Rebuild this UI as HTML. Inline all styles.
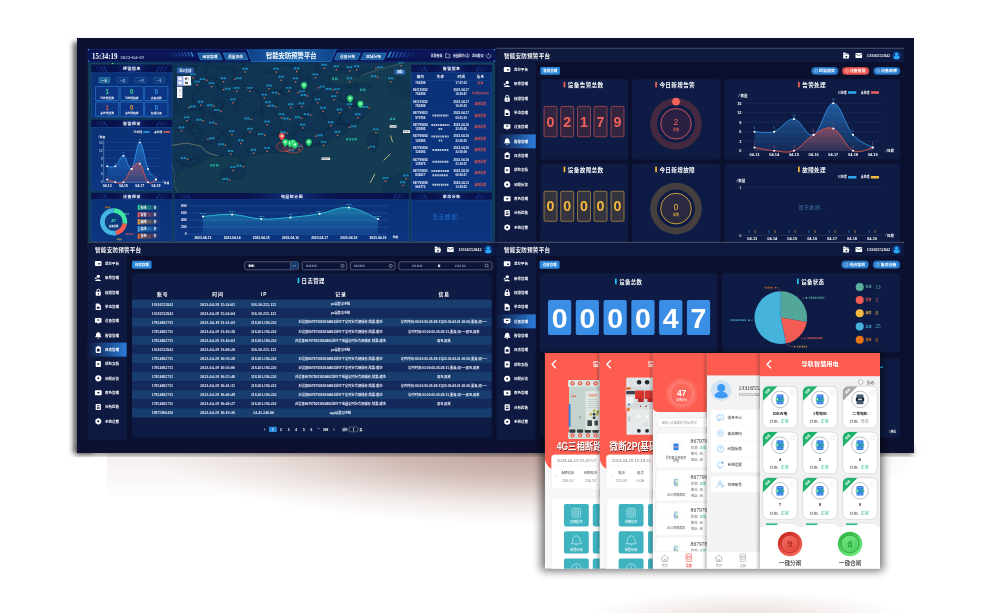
<!DOCTYPE html>
<html><head><meta charset="utf-8"><title>dashboard</title><style>html,body{margin:0;padding:0;background:#fff;overflow:hidden}svg{display:block;font-family:"Liberation Sans","Noto Sans CJK SC",sans-serif}</style></head><body><svg width="1000" height="613" viewBox="0 0 1000 613"><defs>
<clipPath id="shclip"><rect x="107" y="440" width="900" height="120"/></clipPath>
<radialGradient id="shg"><stop offset="0" stop-color="#a67c72" stop-opacity="0.72"/><stop offset="0.4" stop-color="#aa8278" stop-opacity="0.5"/><stop offset="0.75" stop-color="#b08a80" stop-opacity="0.17"/><stop offset="1" stop-color="#b08a80" stop-opacity="0"/></radialGradient>
<linearGradient id="shband" x1="0" x2="0" y1="0" y2="1"><stop offset="0" stop-color="#a67c72" stop-opacity="0.13"/><stop offset="0.5" stop-color="#a67c72" stop-opacity="0.07"/><stop offset="1" stop-color="#a67c72" stop-opacity="0"/></linearGradient>
<radialGradient id="shg2"><stop offset="0" stop-color="#c9a59f" stop-opacity="0.38"/><stop offset="0.6" stop-color="#c9a59f" stop-opacity="0.15"/><stop offset="1" stop-color="#c9a59f" stop-opacity="0"/></radialGradient>
<filter id="blur12" x="-20%" y="-100%" width="140%" height="300%"><feGaussianBlur stdDeviation="14"/></filter>
<filter id="blur8" x="-20%" y="-100%" width="140%" height="300%"><feGaussianBlur stdDeviation="8"/></filter>
<filter id="blur3" x="-50%" y="-10%" width="200%" height="120%"><feGaussianBlur stdDeviation="2.5"/></filter>
<filter id="blur4" x="-10%" y="-10%" width="120%" height="120%"><feGaussianBlur stdDeviation="4"/></filter>
<linearGradient id="actg" x1="0" x2="1" y1="0" y2="0"><stop offset="0" stop-color="#0e1a42"/><stop offset="1" stop-color="#2b7ddb"/></linearGradient>
<linearGradient id="gblue" x1="0" x2="0" y1="0" y2="1"><stop offset="0" stop-color="#2f8fe6" stop-opacity="0.55"/><stop offset="1" stop-color="#2f8fe6" stop-opacity="0.12"/></linearGradient>
<linearGradient id="gred" x1="0" x2="0" y1="0" y2="1"><stop offset="0" stop-color="#e0524a" stop-opacity="0.5"/><stop offset="1" stop-color="#e0524a" stop-opacity="0.12"/></linearGradient>

<clipPath id="cp1"><rect x="544.8" y="353" width="54.9" height="215.8"/></clipPath>
<clipPath id="cp2"><rect x="599.7" y="353" width="53.1" height="215.8"/></clipPath>
<clipPath id="cp3"><rect x="652.8" y="353" width="54" height="215.8"/></clipPath>
<clipPath id="cp4"><rect x="706.8" y="353" width="53.1" height="215.8"/></clipPath>
<clipPath id="cp5"><rect x="759.9" y="353" width="120.1" height="215.8"/></clipPath>
<clipPath id="gc"><rect x="0" y="0" width="34.4" height="41.6" rx="5.6"/></clipPath>
<linearGradient id="edge" x1="0" x2="1" y1="0" y2="0"><stop offset="0" stop-color="#000" stop-opacity="0"/><stop offset="1" stop-color="#000" stop-opacity="0.22"/></linearGradient>
<clipPath id="cptl"><rect x="87.5" y="48.8" width="408.1" height="193"/></clipPath>
<linearGradient id="ttlg" x1="0" x2="1" y1="0" y2="0"><stop offset="0" stop-color="#1a4fb0" stop-opacity="0"/><stop offset="0.5" stop-color="#1f5fc0" stop-opacity="0.38"/><stop offset="1" stop-color="#1a4fb0" stop-opacity="0"/></linearGradient>
<linearGradient id="pbg" x1="0" x2="0" y1="0" y2="1"><stop offset="0" stop-color="#0a3079" stop-opacity="0.93"/><stop offset="1" stop-color="#0c3684" stop-opacity="0.93"/></linearGradient>
<linearGradient id="ctg" x1="0" x2="1" y1="0" y2="0"><stop offset="0" stop-color="#0f3f86"/><stop offset="0.5" stop-color="#1d68b0"/><stop offset="1" stop-color="#0f3f86"/></linearGradient>
<linearGradient id="gteal" x1="0" x2="0" y1="0" y2="1"><stop offset="0" stop-color="#2cc3d6" stop-opacity="0.5"/><stop offset="1" stop-color="#2c8fd6" stop-opacity="0.15"/></linearGradient>
<linearGradient id="lgf0" x1="0" x2="1" y1="0" y2="0"><stop offset="0" stop-color="#2fd08c" stop-opacity="0.55"/><stop offset="1" stop-color="#2fd08c" stop-opacity="0"/></linearGradient>
<linearGradient id="lgf1" x1="0" x2="1" y1="0" y2="0"><stop offset="0" stop-color="#f25c50" stop-opacity="0.55"/><stop offset="1" stop-color="#f25c50" stop-opacity="0"/></linearGradient>
<linearGradient id="lgf2" x1="0" x2="1" y1="0" y2="0"><stop offset="0" stop-color="#f0a030" stop-opacity="0.55"/><stop offset="1" stop-color="#f0a030" stop-opacity="0"/></linearGradient>
<linearGradient id="lgf3" x1="0" x2="1" y1="0" y2="0"><stop offset="0" stop-color="#45a8e0" stop-opacity="0.55"/><stop offset="1" stop-color="#45a8e0" stop-opacity="0"/></linearGradient>
<linearGradient id="lgf4" x1="0" x2="1" y1="0" y2="0"><stop offset="0" stop-color="#e8651a" stop-opacity="0.55"/><stop offset="1" stop-color="#e8651a" stop-opacity="0"/></linearGradient>
<linearGradient id="btnr" x1="0.2" x2="0.8" y1="0" y2="1"><stop offset="0" stop-color="#c6241a"/><stop offset="1" stop-color="#fb6e62"/></linearGradient>
<linearGradient id="btnri" x1="0.2" x2="0.8" y1="0" y2="1"><stop offset="0" stop-color="#f46a5e"/><stop offset="1" stop-color="#e2463b"/></linearGradient>
<linearGradient id="btng" x1="0.2" x2="0.8" y1="0" y2="1"><stop offset="0" stop-color="#2cb53e"/><stop offset="1" stop-color="#74ec84"/></linearGradient>
<linearGradient id="btngi" x1="0.2" x2="0.8" y1="0" y2="1"><stop offset="0" stop-color="#72e682"/><stop offset="1" stop-color="#4ccf5e"/></linearGradient>
<g id="ldgj"><text x="474.60" y="1.00" font-size="2.9" fill="#f2564a" font-weight="bold">漏电告警</text></g><g id="recA"><text x="330.78" y="5.75" font-size="3.15" fill="#eef2ff" font-weight="bold" textLength="19.44" lengthAdjust="spacingAndGlyphs">pc端登录系统</text></g><g id="recD"><text x="329.67" y="5.75" font-size="3.15" fill="#eef2ff" font-weight="bold" textLength="21.66" lengthAdjust="spacingAndGlyphs">app端登录系统</text></g><g id="recB"><text x="298.40" y="5.75" font-size="3.15" fill="#eef2ff" font-weight="bold" textLength="84.2" lengthAdjust="spacingAndGlyphs">对设备867975051834802进行了定时分合闸操作,结果:成功</text></g><g id="recC"><text x="294.90" y="5.75" font-size="3.15" fill="#eef2ff" font-weight="bold" textLength="91.2" lengthAdjust="spacingAndGlyphs">对设备867975051834802进行了批量定时分合闸操作,结果:成功</text></g><g id="inf3"><text x="400.81" y="5.75" font-size="3.15" fill="#eef2ff" font-weight="bold" textLength="86.2" lengthAdjust="spacingAndGlyphs">定时时间:00:03:00-05:29:31|23:30:43-01:00:00,重复:周一~</text></g><g id="inf2"><text x="408.24" y="5.75" font-size="3.15" fill="#eef2ff" font-weight="bold" textLength="71.3" lengthAdjust="spacingAndGlyphs">定时时间:03:00:00-05:29:31,重复:周一~周五,周末</text></g><g id="inf1"><text x="437.09" y="5.75" font-size="3.15" fill="#eef2ff" font-weight="bold" textLength="13.6" lengthAdjust="spacingAndGlyphs">周五,周末</text></g></defs><g opacity="0.999"><rect width="1000" height="613" fill="#fff"/>
<g clip-path="url(#shclip)"><rect x="107" y="452" width="760" height="46" fill="url(#shband)"/><ellipse cx="540" cy="449" rx="385" ry="76" fill="url(#shg)"/></g>
<g filter="url(#blur3)"><rect x="76" y="446" width="837" height="9.5" fill="#222" opacity="0.5"/></g>
<ellipse cx="745" cy="617" rx="160" ry="26" fill="url(#shg2)"/>
<g filter="url(#blur3)"><rect x="73" y="42" width="20" height="411" fill="#333" opacity="0.75"/></g>
<rect x="77.00" y="38.00" width="837.00" height="415.00" fill="#0d1030" />
<g clip-path="url(#cptl)">
<rect x="87.50" y="48.80" width="408.10" height="193.00" fill="#103453" />
<path d="M280.6 122.5Q278.4 118.0 275.1 113.6M280.6 122.5Q280.2 127.8 278.3 134.1M393.8 112.3Q391.3 113.0 390.5 112.8M393.8 112.3Q395.7 113.4 398.6 112.1M293.9 125.4Q296.8 126.2 298.4 126.6M293.9 125.4Q296.5 129.6 296.6 131.2M216.3 117.3Q214.3 117.3 212.6 115.5M216.3 117.3Q215.3 113.6 215.5 111.0M323.2 147.6Q322.7 146.3 319.5 143.7M323.2 147.6Q321.5 143.5 319.7 141.8M194.6 94.8Q192.3 96.9 192.9 97.9M194.6 94.8Q197.7 92.6 200.3 88.6M193.8 149.4Q193.1 147.1 192.1 143.0M193.8 149.4Q194.6 154.0 195.3 156.5M193.8 149.4Q195.7 144.2 197.2 140.9M338.4 66.5Q339.3 67.2 337.8 69.1M338.4 66.5Q340.5 68.1 345.4 69.6M407.7 166.2Q406.5 166.3 407.3 167.6M407.7 166.2Q407.1 166.1 409.3 164.0M407.7 166.2Q409.3 165.8 411.4 164.9M328.9 128.5Q328.0 127.7 325.3 129.4M328.9 128.5Q328.4 126.7 330.3 123.5M209.8 63.6Q206.5 65.1 205.7 65.8M209.8 63.6Q206.7 66.1 205.8 67.1M298.8 68.4Q300.2 69.8 302.0 69.8M298.8 68.4Q296.9 67.3 295.0 63.7M298.8 68.4Q298.3 71.8 298.7 75.4M217.6 88.1Q217.6 88.7 218.6 86.5M217.6 88.1Q217.5 86.1 216.3 84.0M179.2 112.1Q177.8 111.3 174.6 113.0M179.2 112.1Q177.2 104.9 174.5 100.4M179.2 112.1Q186.3 112.3 191.9 109.6M277.7 153.0Q278.8 153.7 277.7 152.5M277.7 153.0Q278.9 156.8 278.1 158.3M296.6 131.2Q297.9 128.9 298.4 126.6M296.6 131.2Q294.9 133.3 291.9 133.5M296.6 131.2Q294.4 133.4 292.7 136.1M291.9 133.5Q291.5 133.8 292.7 136.1M281.8 92.0Q280.6 90.9 280.2 91.7M281.8 92.0Q280.7 91.0 281.3 90.3M281.8 92.0Q283.4 95.6 286.4 96.3M411.4 169.5Q409.3 169.2 407.3 167.6M411.4 169.5Q410.8 166.2 411.4 164.9M373.7 138.4Q374.9 138.2 373.6 136.5M373.7 138.4Q373.9 134.8 377.1 131.3M247.7 86.8Q242.5 82.6 238.4 80.3M247.7 86.8Q252.5 89.3 258.2 91.3M241.4 69.6Q242.9 70.0 243.1 69.9M241.4 69.6Q241.4 65.6 243.0 63.5M241.4 69.6Q237.2 70.0 234.3 72.5M355.9 105.2Q356.2 106.9 355.7 105.8M355.9 105.2Q352.8 106.6 349.4 105.8M375.2 103.7Q377.4 102.9 377.4 99.6M375.2 103.7Q373.0 105.8 371.7 107.5M401.9 153.5Q403.4 150.3 405.0 148.8M401.9 153.5Q403.1 153.2 406.9 150.2M172.1 84.6Q175.6 85.1 176.3 83.7M172.1 84.6Q174.9 88.7 176.0 91.1M390.5 112.8Q395.0 111.6 398.6 112.1M407.3 104.9Q408.6 109.1 407.7 110.9M407.3 104.9Q402.9 105.4 398.9 107.4M189.5 130.0Q190.7 129.5 191.2 131.1M189.5 130.0Q190.1 132.0 192.7 135.0M358.8 91.1Q359.4 95.3 357.4 97.5M358.8 91.1Q356.6 88.8 356.5 85.0M192.9 97.9Q191.7 103.9 191.9 109.6M192.9 97.9Q195.4 103.5 200.0 107.4M403.4 143.9Q403.3 147.6 405.0 148.8M403.4 143.9Q404.6 145.3 407.8 148.9M200.3 88.6Q202.3 84.0 205.7 78.1M196.3 68.5Q198.0 67.8 197.5 66.0M196.3 68.5Q192.3 70.5 190.8 71.0M363.3 81.2Q364.7 80.3 364.0 80.7M363.3 81.2Q363.3 78.1 361.6 75.6M363.3 81.2Q361.1 81.9 356.5 85.0M306.2 110.3Q305.9 112.5 307.4 114.4M306.2 110.3Q306.7 111.6 307.1 115.0M217.8 141.0Q215.4 140.1 214.1 139.8M217.8 141.0Q213.8 143.8 209.6 143.5M203.4 131.5Q198.7 132.9 192.7 135.0M203.4 131.5Q200.9 135.0 197.2 140.9M203.4 131.5Q198.2 128.1 193.6 124.9M200.0 107.4Q201.7 106.7 202.5 108.8M200.0 107.4Q201.2 109.8 203.2 111.0M223.1 91.1Q222.5 89.4 223.2 89.9M223.1 91.1Q221.2 90.7 217.6 88.1M405.0 148.8Q405.1 149.8 406.9 150.2M405.0 148.8Q405.8 148.5 407.8 148.9M245.0 157.6Q247.7 160.3 248.9 160.3M245.0 157.6Q247.1 159.8 247.6 161.7M245.0 157.6Q245.1 154.2 247.7 152.6M222.6 104.6Q223.7 105.1 223.4 106.7M222.6 104.6Q222.4 106.7 219.6 108.5M377.1 131.3Q377.1 129.5 376.3 128.1M377.1 131.3Q375.0 132.7 373.6 136.5M377.1 131.3Q378.5 126.5 379.2 123.9M196.1 168.8Q192.1 165.8 186.9 164.8M196.1 168.8Q197.4 164.6 199.3 158.4M196.1 168.8Q193.1 163.1 189.6 159.8M223.2 89.9Q219.5 89.7 218.6 86.5M357.4 97.5Q356.4 100.1 355.9 105.2M243.1 69.9Q244.4 65.6 243.0 63.5M193.6 124.9Q192.6 123.9 190.1 121.0M193.6 124.9Q191.2 127.0 189.5 130.0M230.3 126.9Q228.1 123.6 225.1 118.9M230.3 126.9Q227.1 129.7 223.2 133.5M261.2 110.9Q261.9 112.6 261.6 113.7M261.2 110.9Q260.2 108.3 262.2 106.6M402.2 114.2Q400.0 114.5 399.0 115.2M402.2 114.2Q400.6 112.3 398.6 112.1M309.9 155.6Q308.9 155.8 306.2 154.1M309.9 155.6Q315.0 157.5 319.5 161.4M215.9 78.6Q218.6 79.4 218.8 79.8M215.9 78.6Q217.8 79.5 220.6 80.3M215.9 78.6Q215.0 82.0 216.3 84.0M390.0 150.3Q389.7 150.1 386.4 148.6M390.0 150.3Q390.4 153.4 388.2 156.1M390.0 150.3Q389.5 154.1 391.8 156.9M231.9 82.5Q230.9 82.9 232.1 83.4M231.9 82.5Q234.9 80.9 238.4 80.3M349.5 163.6Q351.6 162.1 351.1 161.4M349.5 163.6Q349.1 160.3 348.9 159.2M219.2 164.6Q220.1 163.1 223.2 159.2M219.2 164.6Q221.9 167.4 224.4 169.8M219.2 164.6Q223.6 163.6 227.7 164.0M383.7 127.2Q383.0 126.5 379.2 123.9M383.7 127.2Q380.3 126.5 376.3 128.1M383.7 127.2Q381.4 128.6 377.1 131.3M273.1 73.2Q275.3 71.1 279.0 68.5M273.1 73.2Q268.6 72.0 262.2 72.6M181.3 166.0Q183.0 164.1 182.8 162.5M181.3 166.0Q183.8 166.2 186.9 164.8M181.3 166.0Q180.1 164.6 176.3 160.3M229.2 138.1Q228.8 139.8 229.4 140.5M229.2 138.1Q226.9 135.4 223.2 133.5M233.7 151.0Q233.4 156.2 232.2 159.8M233.7 151.0Q232.8 155.4 234.0 160.4M233.7 151.0Q230.2 145.8 229.4 140.5M315.2 93.7Q313.8 94.0 311.9 96.2M315.2 93.7Q317.4 92.3 319.4 92.3M214.1 139.8Q213.1 140.3 209.6 143.5M214.1 139.8Q219.5 137.3 223.2 133.5M188.5 86.7Q186.0 84.9 184.1 83.1M188.5 86.7Q190.4 90.3 194.6 94.8M306.2 154.1Q304.8 150.9 300.9 147.4M306.2 154.1Q304.9 148.9 304.1 145.0M319.4 92.3Q316.7 95.3 311.9 96.2M392.2 84.0Q394.1 78.9 394.1 76.0M392.2 84.0Q387.4 81.6 385.0 76.5M176.0 91.1Q176.2 87.2 176.3 83.7M279.0 68.5Q279.5 65.3 281.2 64.7M214.3 101.8Q217.3 105.0 219.6 108.5M214.3 101.8Q218.1 99.9 222.6 99.1M214.3 101.8Q219.3 104.4 222.6 104.6M309.3 76.2Q308.1 78.1 308.5 77.8M309.3 76.2Q308.6 81.1 309.5 83.7M258.9 158.2Q262.2 157.4 265.6 158.9M258.9 158.2Q255.1 159.4 248.9 160.3M407.3 132.9Q408.8 131.1 410.8 130.9M407.3 132.9Q408.4 133.4 412.0 131.4M407.3 132.9Q407.1 128.6 404.1 123.3M337.9 125.1Q336.9 125.0 336.4 123.0M337.9 125.1Q339.1 125.1 342.1 123.6M337.9 125.1Q338.8 122.9 339.4 118.2M205.7 65.8Q205.8 65.3 205.8 67.1M176.3 160.3Q179.8 161.2 182.8 162.5M176.3 160.3Q181.0 163.2 186.9 164.8M340.2 166.0Q340.9 164.0 342.7 164.6M340.2 166.0Q339.2 164.2 335.8 160.4M177.1 130.7Q177.0 129.4 179.1 126.9M177.1 130.7Q182.5 129.8 189.5 130.0M287.7 140.9Q286.5 142.2 282.9 144.6M287.7 140.9Q290.5 143.7 293.4 143.9M248.5 169.9Q249.2 164.9 247.6 161.7M248.5 169.9Q249.8 165.7 248.9 160.3M190.1 121.0Q188.9 126.5 189.5 130.0M348.9 159.2Q351.2 158.9 351.1 161.4M348.9 138.0Q350.9 143.5 350.7 146.0M348.9 138.0Q343.7 141.5 340.3 144.3M348.9 138.0Q348.4 144.9 349.8 149.5M362.4 160.8Q364.4 160.2 365.4 160.7M362.4 160.8Q366.0 161.4 367.8 159.3M256.4 136.0Q254.6 135.6 250.5 133.9M256.4 136.0Q255.8 133.1 257.3 128.9M388.2 156.1Q387.4 155.6 387.2 157.0M388.2 156.1Q391.1 155.4 391.8 156.9M272.1 147.4Q269.2 147.0 268.1 148.5M272.1 147.4Q268.5 147.9 266.4 147.5M272.1 147.4Q275.8 149.6 277.7 152.5M379.2 123.9Q376.9 122.0 374.5 122.5M379.2 123.9Q377.8 127.4 376.3 128.1M322.0 103.3Q323.0 103.8 323.1 105.7M322.0 103.3Q322.9 105.5 323.0 110.2M311.8 127.8Q312.7 129.2 314.0 130.4M311.8 127.8Q308.1 127.6 304.2 130.2M191.2 131.1Q192.3 133.2 192.7 135.0M191.2 131.1Q192.2 128.2 193.6 124.9M410.4 157.0Q409.2 161.3 409.3 164.0M410.4 157.0Q407.9 152.9 406.9 150.2M346.8 104.0Q346.7 105.7 349.4 105.8M346.8 104.0Q345.1 109.5 345.5 112.6M346.8 104.0Q351.6 106.1 355.7 105.8M348.4 124.7Q344.9 125.5 342.1 123.6M348.4 124.7Q343.2 124.0 337.9 125.1M348.4 124.7Q344.0 121.9 339.4 118.2M277.7 152.5Q277.4 155.4 278.1 158.3M192.1 143.0Q194.7 142.0 197.2 140.9M179.1 126.9Q184.9 128.5 189.5 130.0M179.1 126.9Q186.0 123.0 190.1 121.0M287.4 86.9Q285.6 83.9 286.0 81.3M287.4 86.9Q284.9 88.7 281.3 90.3M339.6 115.7Q340.3 117.8 339.4 118.2M339.6 115.7Q341.7 114.1 345.5 112.6M319.5 161.4Q321.9 161.2 322.1 160.3M233.4 63.2Q230.7 65.2 230.8 66.6M233.4 63.2Q234.5 68.1 234.3 72.5M244.2 135.2Q241.6 137.6 240.0 139.4M244.2 135.2Q243.3 138.9 241.6 140.7M220.6 80.3Q219.5 79.4 218.8 79.8M220.6 80.3Q219.3 80.9 216.3 84.0M389.4 133.3Q386.8 130.4 383.7 127.2M389.4 133.3Q393.5 135.9 395.8 140.0M250.5 133.9Q246.8 133.2 244.2 135.2M219.6 108.5Q222.5 108.3 223.4 106.7M219.6 108.5Q218.4 110.6 215.5 111.0M365.4 160.7Q365.4 161.0 367.8 159.3M383.3 103.5Q380.0 100.8 377.4 99.6M383.3 103.5Q379.2 104.1 375.2 103.7M311.9 96.2Q312.7 100.4 311.7 107.3M204.7 115.6Q203.0 117.0 201.5 117.1M204.7 115.6Q204.5 114.7 203.2 111.0M372.9 153.7Q373.9 157.2 374.9 159.3M372.9 153.7Q371.8 155.4 367.8 159.3M342.7 164.6Q346.1 165.5 349.5 163.6M238.4 80.3Q234.5 83.0 232.1 83.4M280.2 91.7Q279.5 91.2 281.3 90.3M322.2 115.3Q323.3 114.7 321.8 111.2M322.2 115.3Q324.3 117.6 325.3 118.5M247.7 152.6Q247.3 149.4 246.2 147.5M247.7 152.6Q248.9 150.9 252.4 147.1M407.7 110.9Q404.8 113.9 402.2 114.2M189.9 65.4Q189.8 69.5 190.8 71.0M189.9 65.4Q194.4 66.1 196.3 68.5M381.5 66.5Q385.2 69.4 389.5 71.4M381.5 66.5Q381.9 71.0 385.0 76.5M342.1 123.6Q340.5 124.5 336.4 123.0M342.1 123.6Q342.0 119.9 339.4 118.2M246.2 147.5Q250.6 146.4 252.4 147.1M176.6 76.7Q177.3 79.3 176.3 83.7M176.6 76.7Q173.9 79.7 172.1 84.6M281.2 64.7Q286.0 64.8 289.0 65.1M281.2 64.7Q276.9 69.2 273.1 73.2M371.1 87.6Q374.3 87.4 377.6 87.1M371.1 87.6Q367.9 83.2 364.0 80.7M323.0 110.2Q322.5 110.5 321.8 111.2M323.0 110.2Q321.7 107.3 323.1 105.7M323.2 132.7Q324.6 131.1 325.3 129.4M323.2 132.7Q326.8 130.6 328.9 128.5M365.8 165.5Q366.9 163.8 365.4 160.7M365.8 165.5Q363.4 162.8 362.4 160.8M365.8 165.5Q365.7 163.7 367.8 159.3M336.3 83.5Q338.8 81.7 343.4 81.3M336.3 83.5Q333.3 82.7 328.3 84.1M286.0 81.3Q284.7 85.7 281.3 90.3M174.6 113.0Q174.0 107.5 174.5 100.4M343.4 81.3Q346.3 84.0 348.2 87.7M343.4 81.3Q348.4 81.9 352.8 82.5M237.4 99.3Q234.4 102.6 233.6 105.4M237.4 99.3Q235.8 103.1 237.0 107.9M339.4 118.2Q337.8 121.2 336.4 123.0M319.5 143.7Q320.2 142.0 319.7 141.8M319.5 143.7Q318.1 144.3 315.4 144.0M266.4 147.5Q268.4 149.0 268.1 148.5M389.5 71.4Q392.6 71.6 394.5 72.3M389.5 71.4Q391.4 74.8 394.1 76.0M389.5 71.4Q386.4 73.3 385.0 76.5M395.8 140.0Q399.9 140.9 403.4 143.9M203.2 111.0Q203.6 109.9 202.5 108.8M322.1 160.3Q326.4 166.0 328.9 168.8M262.4 123.4Q260.3 124.9 257.3 128.9M262.4 123.4Q263.1 118.7 261.6 113.7M383.0 148.1Q385.2 149.7 386.4 148.6M383.0 148.1Q387.6 148.4 390.0 150.3M398.6 112.1Q398.1 114.5 399.0 115.2M398.6 112.1Q397.6 109.7 398.9 107.4M328.3 84.1Q323.5 87.7 319.4 92.3M345.3 150.4Q348.1 149.1 349.8 149.5M345.3 150.4Q344.0 150.9 340.2 153.2M326.0 139.5Q322.4 141.3 319.7 141.8M326.0 139.5Q324.7 136.9 323.2 132.7M223.2 159.2Q223.5 156.5 222.0 153.9M223.2 159.2Q224.7 162.7 227.7 164.0M407.3 167.6Q408.9 164.3 409.3 164.0M300.9 147.4Q301.3 147.4 304.1 145.0M300.9 147.4Q298.4 145.0 293.4 143.9M248.9 160.3Q248.2 161.2 247.6 161.7M191.9 109.6Q195.4 107.8 200.0 107.4M191.9 109.6Q195.7 108.8 202.5 108.8M191.9 109.6Q198.7 110.5 203.2 111.0M289.0 65.1Q293.2 64.8 295.0 63.7M289.0 65.1Q293.6 66.3 298.8 68.4M366.2 68.9Q364.8 70.2 366.3 70.2M366.2 68.9Q363.0 71.0 361.6 75.6M364.0 80.7Q363.1 77.9 361.6 75.6M205.7 78.1Q210.1 79.3 215.9 78.6M205.7 78.1Q206.9 72.2 205.8 67.1M296.0 140.1Q293.3 140.9 293.4 143.9M296.0 140.1Q294.3 137.5 292.7 136.1M399.8 71.3Q396.1 70.9 394.5 72.3M399.8 71.3Q401.3 73.4 404.4 74.5M225.1 118.9Q220.8 119.4 216.3 117.3M241.6 140.7Q239.4 140.2 240.0 139.4M325.3 118.5Q326.1 117.6 325.2 119.2M325.3 118.5Q328.2 121.7 329.2 122.5M374.5 122.5Q376.8 124.8 376.3 128.1M374.5 122.5Q375.3 128.1 377.1 131.3M246.8 103.2Q249.5 106.9 250.4 112.4M246.8 103.2Q241.8 100.2 237.4 99.3M374.9 159.3Q372.3 158.2 367.8 159.3M222.0 153.9Q221.1 160.2 219.2 164.6M222.0 153.9Q224.2 158.7 227.7 164.0M404.4 118.6Q405.3 118.3 404.7 117.7M404.4 118.6Q403.5 120.2 404.1 123.3M309.5 83.7Q309.6 82.0 308.5 77.8M300.6 116.3Q301.2 115.3 304.0 116.8M300.6 116.3Q301.2 115.8 304.4 117.6M300.6 116.3Q304.5 114.5 307.1 115.0M317.3 65.0Q316.8 64.8 316.2 63.4M317.3 65.0Q316.6 67.0 318.7 68.3M404.7 117.7Q404.5 114.6 402.2 114.2M307.1 115.0Q307.3 115.6 307.4 114.4M307.1 115.0Q305.2 116.6 304.0 116.8M337.8 69.1Q341.2 69.9 345.4 69.6M301.3 106.7Q300.1 106.2 299.9 104.1M301.3 106.7Q301.3 108.9 299.3 109.2M401.6 161.7Q406.1 164.4 407.7 166.2M401.6 161.7Q404.4 163.6 409.3 164.0M401.6 161.7Q403.8 163.6 407.3 167.6M236.6 113.1Q236.4 111.0 237.0 107.9M236.6 113.1Q234.3 108.3 233.6 105.4M286.4 96.3Q283.8 94.9 280.2 91.7M286.4 96.3Q285.1 92.6 281.3 90.3M217.9 128.7Q219.2 129.9 221.0 130.2M217.9 128.7Q220.3 132.4 223.2 133.5M394.1 76.0Q392.9 74.8 394.5 72.3M359.0 64.5Q359.7 66.4 358.1 70.2M359.0 64.5Q354.9 66.1 351.6 67.4M218.6 86.5Q217.2 86.5 216.3 84.0M336.9 96.8Q337.7 94.5 336.5 94.3M336.9 96.8Q333.1 97.5 331.9 98.5M336.9 96.8Q342.9 100.8 346.8 104.0M197.2 140.9Q195.6 137.7 192.7 135.0M201.5 117.1Q203.8 113.7 203.2 111.0M232.1 83.4Q232.4 77.3 234.3 72.5M299.3 109.2Q297.3 109.8 295.7 108.4M262.2 106.6Q263.2 109.4 261.6 113.7M262.2 106.6Q258.1 108.5 254.0 112.6M299.0 79.3Q300.0 76.6 298.7 75.4M299.0 79.3Q304.0 77.9 308.5 77.8M221.0 130.2Q221.4 131.0 223.2 133.5M325.2 119.2Q322.8 117.4 322.2 115.3M377.6 87.1Q376.5 91.9 377.4 99.6M349.8 149.5Q350.8 149.6 350.8 152.6M349.8 149.5Q349.7 146.7 350.7 146.0M388.6 96.1Q387.4 99.5 383.3 103.5M388.6 96.1Q381.6 97.4 377.4 99.6M224.4 169.8Q226.2 166.1 227.7 164.0M385.0 76.5Q390.0 76.6 394.1 76.0M385.0 76.5Q389.1 75.7 394.5 72.3M229.4 140.5Q227.8 136.8 223.2 133.5M234.3 72.5Q231.2 70.6 230.8 66.6M234.3 72.5Q237.7 76.5 238.4 80.3M371.7 107.5Q368.3 106.2 367.5 105.8M371.7 107.5Q369.8 104.1 366.4 101.8M361.6 75.6Q359.8 74.1 358.1 70.2M268.7 136.0Q274.9 133.6 278.3 134.1M268.7 136.0Q267.6 142.7 266.4 147.5M335.8 160.4Q338.1 158.6 341.1 155.0M404.4 74.5Q400.2 74.8 394.5 72.3M404.4 74.5Q404.6 70.8 407.2 64.5M217.4 69.6Q218.4 69.8 220.9 67.6M217.4 69.6Q215.2 74.4 215.9 78.6M197.5 66.0Q193.2 66.4 189.9 65.4M304.4 117.6Q304.7 118.2 304.0 116.8M304.4 117.6Q305.3 116.7 307.1 115.0M373.7 169.0Q368.4 167.7 365.8 165.5M373.7 169.0Q374.5 163.4 374.9 159.3M186.9 164.8Q183.9 162.2 182.8 162.5M186.9 164.8Q187.1 161.7 189.6 159.8M282.9 144.6Q279.3 147.4 277.7 152.5M250.4 112.4Q251.8 111.6 254.0 112.6M250.4 112.4Q248.8 116.5 250.1 121.3M295.7 108.4Q298.2 107.0 301.3 106.7M316.2 63.4Q318.5 66.7 318.7 68.3M316.2 63.4Q315.1 68.0 316.9 74.4M340.2 153.2Q341.4 152.9 341.1 155.0M215.5 111.0Q213.8 114.7 212.6 115.5M349.4 105.8Q352.5 106.6 355.7 105.8M341.1 155.0Q342.9 153.9 345.3 150.4M315.9 116.5Q319.1 114.4 322.2 115.3M315.9 116.5Q319.6 114.3 321.8 111.2M407.8 148.9Q406.0 149.9 406.9 150.2M234.0 160.4Q234.3 161.2 232.2 159.8M234.0 160.4Q231.2 162.2 227.7 164.0M350.7 146.0Q352.0 148.2 350.8 152.6M350.7 146.0Q348.7 148.9 345.3 150.4M367.5 105.8Q367.4 103.6 366.4 101.8M387.2 157.0Q389.5 156.6 391.8 156.9M338.8 144.9Q339.7 144.6 340.3 144.3M338.8 144.9Q338.1 149.4 340.2 153.2M338.8 144.9Q341.8 147.9 345.3 150.4M355.7 105.8Q355.2 101.1 357.4 97.5M345.4 69.6Q348.4 70.0 351.6 67.4M254.0 112.6Q258.0 110.9 261.2 110.9M254.0 112.6Q257.7 113.3 261.6 113.7M174.5 100.4Q176.4 94.6 176.0 91.1M227.7 164.0Q228.9 166.9 231.8 167.8M227.7 164.0Q230.4 163.2 232.2 159.8M331.9 98.5Q335.1 96.4 336.5 94.3M330.3 123.5Q328.5 124.1 329.2 122.5M299.9 104.1Q299.1 106.7 299.3 109.2M299.9 104.1Q297.4 105.4 295.7 108.4M412.0 131.4Q412.5 130.2 410.8 130.9M340.3 144.3Q344.2 146.5 345.3 150.4M407.2 64.5Q403.7 68.7 399.8 71.3M319.7 141.8Q318.7 141.6 315.4 144.0M233.6 105.4Q236.4 107.5 237.0 107.9M184.1 83.1Q181.6 82.1 176.3 83.7M184.1 83.1Q181.7 80.8 176.6 76.7M262.2 72.6Q269.4 69.2 279.0 68.5M404.1 123.3Q403.2 119.6 404.7 117.7M366.3 70.2Q365.0 73.3 361.6 75.6M210.4 113.0Q213.0 113.4 212.6 115.5M210.4 113.0Q213.3 113.1 215.5 111.0M398.9 107.4Q396.8 109.7 393.8 112.3M398.9 107.4Q399.1 110.4 402.2 114.2M259.7 92.9Q260.3 92.6 258.2 91.3M259.7 92.9Q252.8 89.0 247.7 86.8M259.7 92.9Q261.8 98.8 262.2 106.6M329.2 122.5Q327.1 119.8 325.2 119.2M209.6 143.5Q203.7 141.6 197.2 140.9M265.6 158.9Q268.3 154.3 268.1 148.5M351.6 67.4Q355.5 69.9 358.1 70.2M409.3 164.0Q409.5 163.2 411.4 164.9M189.6 159.8Q192.2 159.1 195.3 156.5M275.1 113.6Q274.2 106.6 274.6 101.9M405.6 88.3Q406.3 80.9 404.4 74.5M405.6 88.3Q399.5 85.4 392.2 84.0M297.6 163.2Q300.8 157.5 306.2 154.1M297.6 163.2Q304.9 160.8 309.9 155.6M297.6 163.2Q298.0 155.8 300.9 147.4M345.5 112.6Q348.7 108.8 349.4 105.8M316.9 74.4Q319.5 73.6 321.6 73.1M316.9 74.4Q316.5 71.1 318.7 68.3M220.9 67.6Q225.7 68.5 230.8 66.6M220.9 67.6Q214.7 66.2 209.8 63.6M298.7 75.4Q300.7 71.2 302.0 69.8M278.3 134.1Q279.5 140.5 282.9 144.6M311.7 107.3Q308.7 108.3 306.2 110.3M311.7 107.3Q310.5 111.9 307.4 114.4M358.7 119.3Q358.3 124.9 360.2 129.5M358.7 119.3Q353.4 121.2 348.4 124.7M358.7 119.3Q363.3 122.9 366.2 129.4M348.2 87.7Q350.8 85.7 352.8 82.5M348.2 87.7Q353.8 87.3 356.5 85.0M199.3 158.4Q197.8 156.4 195.3 156.5M199.3 158.4Q193.2 158.1 189.6 159.8M360.2 129.5Q362.7 129.9 366.2 129.4M360.2 129.5Q354.6 128.5 348.4 124.7M314.0 130.4Q319.6 132.0 323.2 132.7M352.8 82.5Q353.5 82.4 356.5 85.0M231.8 167.8Q228.5 169.7 224.4 169.8M181.5 68.6Q187.2 66.1 189.9 65.4M181.5 68.6Q178.6 71.5 176.6 76.7M181.5 68.6Q185.8 70.5 190.8 71.0M321.6 73.1Q319.1 71.1 318.7 68.3M302.0 69.8Q299.4 68.0 295.0 63.7M304.2 130.2Q301.2 129.5 298.4 126.6M304.2 130.2Q300.2 129.6 296.6 131.2M222.6 99.1Q223.9 103.0 222.6 104.6M222.6 99.1Q221.5 102.5 223.4 106.7M350.8 152.6Q348.2 152.9 345.3 150.4M189.8 74.9Q189.7 73.0 190.8 71.0M189.8 74.9Q191.9 71.9 196.3 68.5M366.2 129.4Q371.7 128.7 376.3 128.1M273.8 89.9Q276.6 90.0 280.2 91.7M273.8 89.9Q277.9 90.0 281.3 90.3M328.9 168.8Q332.2 164.8 335.8 160.4M328.9 168.8Q334.4 168.5 340.2 166.0M250.1 121.3Q253.0 117.0 254.0 112.6M274.6 101.9Q277.5 96.5 280.2 91.7M274.6 101.9Q274.6 97.0 273.8 89.9M307.4 114.4Q304.9 116.5 304.0 116.8" fill="none" stroke="#0b233c" stroke-width="0.5" opacity="0.85"/>
<polygon points="329.2,76.4 340.0,72.8 349.6,74.0 358.0,77.4 364.0,72.8 376.0,68.0 388.0,64.9 402.4,60.8 412.0,60.8 412.0,174.8 402.4,173.6 389.2,178.4 383.2,184.4 385.6,196.4 176.8,196.4 173.9,182.0 178.0,173.6 186.4,168.1 198.4,163.3 208.0,158.5 213.3,156.3 220.0,156.3 229.6,155.1 239.2,157.0 240.2,162.8 243.0,168.1 245.4,162.8 245.4,158.0 253.6,155.1 265.6,153.0 275.2,153.0 284.8,153.4 296.8,151.5 306.4,147.4 316.0,146.5 325.6,144.1 335.2,138.8 344.8,132.8 350.8,128.0 356.8,123.9 362.8,118.4 367.6,112.4 371.7,108.8 364.0,107.6 361.6,104.2 354.4,101.6 348.4,98.0 345.3,94.4 350.8,92.7 364.0,90.3 372.6,86.2 366.4,84.1 354.4,83.6 343.6,85.0 337.6,86.0 330.9,82.6" fill="#133b52" stroke="#0d2c44" stroke-width="0.5"/>
<polygon points="220.0,174.8 221.7,170.0 232.0,167.6 244.0,165.9 247.1,169.0 245.0,175.8 235.6,179.4 224.3,180.3" fill="#113352" stroke="#0d2a42" stroke-width="0.5"/>
<polygon points="369.0,134.5 374.3,132.1 377.9,135.4 378.6,143.6 375.0,151.8 372.6,152.7 369.8,147.9 366.6,141.2" fill="#113352" stroke="#0d2a42" stroke-width="0.5"/>
<polygon points="388.0,75.2 402.4,76.4 412.0,81.2 412.0,98.0 400.0,98.0 391.6,93.2 386.3,86.0" fill="#12364f" opacity="0.9"/>
<polyline points="172.0,145.5 179.2,144.1 186.9,143.1 194.8,144.8 201.3,146.5 205.6,151.3 211.6,154.2 218.1,155.6" fill="none" stroke="#b9b07a" stroke-width="0.55" opacity="0.9"/>
<polyline points="124.0,134.0 143.2,136.4 157.6,141.2 172.0,145.5" fill="none" stroke="#b9b07a" stroke-width="0.5" opacity="0.8"/>
<polyline points="361.6,75.2 371.2,72.1 380.8,69.2 391.6,66.3 402.4,63.2" fill="none" stroke="#b9b07a" stroke-width="0.5" opacity="0.8" stroke-dasharray="1.2 0.8"/>
<polyline points="172.0,165.2 174.9,174.8 173.9,184.4 176.8,192.8" fill="none" stroke="#9a9670" stroke-width="0.45" opacity="0.7"/>
<line x1="390.64" y1="135.44" x2="392.56" y2="142.16" stroke="#c9bd83" stroke-width="0.90" />
<line x1="383.68" y1="160.40" x2="390.40" y2="153.92" stroke="#c9bd83" stroke-width="0.90" />
<line x1="370.24" y1="182.72" x2="375.04" y2="173.84" stroke="#c9bd83" stroke-width="0.90" />
<path d="M242.2 68.7h2.5M245.3 68.7h2.5M273.4 68.7h2.5M276.5 68.7h2.5M293.8 68.2h2.5M296.9 68.2h2.5M321.4 64.8h2.5M324.5 64.8h2.5M333.4 66.3h2.5M336.5 66.3h2.5M346.6 67.2h2.5M349.7 67.2h2.5M353.8 66.3h2.5M356.9 66.3h2.5M377.2 67.1h2.5M380.3 67.1h2.5M398.2 62.4h2.5M401.3 62.4h2.5M190.1 74.4h2.5M193.2 74.4h2.5M199.8 79.1h2.5M202.9 79.1h2.5M220.6 78.3h2.5M223.7 78.3h2.5M236.1 78.2h2.5M239.2 78.2h2.5M278.2 76.8h2.5M281.3 76.8h2.5M292.6 78.3h2.5M295.7 78.3h2.5M312.5 74.4h2.5M315.6 74.4h2.5M346.6 78.3h2.5M349.7 78.3h2.5M370.7 76.3h2.5M373.8 76.3h2.5M387.9 78.3h2.5M391.0 78.3h2.5M186.4 83.9h2.5M189.5 83.9h2.5M194.2 81.6h2.5M197.3 81.6h2.5M208.6 83.1h2.5M211.7 83.1h2.5M224.8 88.7h2.5M227.9 88.7h2.5M233.8 87.9h2.5M236.9 87.9h2.5M247.0 87.9h2.5M250.1 87.9h2.5M266.2 85.5h2.5M269.3 85.5h2.5M271.8 92.6h2.5M274.9 92.6h2.5M285.9 87.9h2.5M289.0 87.9h2.5M299.2 91.4h2.5M302.3 91.4h2.5M300.6 95.0h2.5M303.7 95.0h2.5M319.6 86.6h2.5M322.7 86.6h2.5M325.8 89.0h2.5M328.9 89.0h2.5M334.1 89.1h2.5M337.2 89.1h2.5M190.0 106.5h2.5M193.1 106.5h2.5M197.8 101.8h2.5M200.9 101.8h2.5M207.0 105.3h2.5M210.1 105.3h2.5M214.2 110.1h2.5M217.3 110.1h2.5M230.2 99.4h2.5M233.3 99.4h2.5M261.4 94.6h2.5M264.5 94.6h2.5M265.0 102.3h2.5M268.1 102.3h2.5M268.7 105.8h2.5M271.8 105.8h2.5M287.8 104.2h2.5M290.9 104.2h2.5M298.6 103.5h2.5M301.7 103.5h2.5M314.7 99.4h2.5M317.8 99.4h2.5M320.2 107.8h2.5M323.3 107.8h2.5M331.0 96.3h2.5M334.1 96.3h2.5M336.5 109.5h2.5M339.6 109.5h2.5M346.6 104.2h2.5M349.7 104.2h2.5M355.0 114.3h2.5M358.1 114.3h2.5M362.3 107.0h2.5M365.4 107.0h2.5M183.9 117.4h2.5M187.0 117.4h2.5M196.2 119.7h2.5M199.3 119.7h2.5M208.9 122.6h2.5M212.0 122.6h2.5M244.2 118.5h2.5M247.3 118.5h2.5M264.3 121.5h2.5M267.4 121.5h2.5M278.7 114.3h2.5M281.8 114.3h2.5M283.1 118.5h2.5M286.2 118.5h2.5M294.6 117.3h2.5M297.7 117.3h2.5M303.7 114.2h2.5M306.8 114.2h2.5M327.9 122.2h2.5M331.0 122.2h2.5M350.8 126.2h2.5M353.9 126.2h2.5M178.6 127.5h2.5M181.7 127.5h2.5M209.2 138.2h2.5M212.3 138.2h2.5M229.0 131.1h2.5M232.1 131.1h2.5M237.9 140.2h2.5M241.0 140.2h2.5M247.0 128.7h2.5M250.1 128.7h2.5M257.9 134.1h2.5M261.0 134.1h2.5M280.2 132.2h2.5M283.3 132.2h2.5M299.8 124.6h2.5M302.9 124.6h2.5M317.2 135.3h2.5M320.3 135.3h2.5M320.7 141.9h2.5M323.8 141.9h2.5M334.6 131.8h2.5M337.7 131.8h2.5M373.0 129.4h2.5M376.1 129.4h2.5M369.5 146.6h2.5M372.6 146.6h2.5M218.3 144.2h2.5M221.4 144.2h2.5M227.8 151.0h2.5M230.9 151.0h2.5M250.6 149.8h2.5M253.7 149.8h2.5M264.3 147.9h2.5M267.4 147.9h2.5M288.4 150.2h2.5M291.5 150.2h2.5M296.2 146.2h2.5M299.3 146.2h2.5M180.6 158.1h2.5M183.7 158.1h2.5M236.5 165.8h2.5M239.6 165.8h2.5M230.2 167.1h2.5M233.3 167.1h2.5M222.6 179.0h2.5M225.7 179.0h2.5M382.6 177.9h2.5M385.7 177.9h2.5M403.0 175.5h2.5M406.1 175.5h2.5M399.9 182.2h2.5M403.0 182.2h2.5" fill="none" stroke="#1b9bd0" stroke-width="1.9" opacity="0.8"/>
<path d="M244.4 71.3h1.5v1.5h-1.5zM275.6 71.3h1.5v1.5h-1.5zM296.0 70.8h1.5v1.5h-1.5zM323.6 67.5h1.5v1.5h-1.5zM335.6 68.9h1.5v1.5h-1.5zM348.8 69.9h1.5v1.5h-1.5zM356.0 68.9h1.5v1.5h-1.5zM375.2 67.5h1.5v1.5h-1.5zM400.4 65.1h1.5v1.5h-1.5zM192.4 77.1h1.5v1.5h-1.5zM206.0 79.5h1.5v1.5h-1.5zM222.8 80.9h1.5v1.5h-1.5zM234.1 78.5h1.5v1.5h-1.5zM280.4 79.5h1.5v1.5h-1.5zM294.8 80.9h1.5v1.5h-1.5zM314.8 77.1h1.5v1.5h-1.5zM348.8 80.9h1.5v1.5h-1.5zM376.9 76.6h1.5v1.5h-1.5zM390.1 80.9h1.5v1.5h-1.5zM184.4 84.3h1.5v1.5h-1.5zM196.4 84.3h1.5v1.5h-1.5zM210.8 85.7h1.5v1.5h-1.5zM222.8 89.1h1.5v1.5h-1.5zM236.0 90.5h1.5v1.5h-1.5zM249.2 90.5h1.5v1.5h-1.5zM268.4 88.1h1.5v1.5h-1.5zM278.0 92.9h1.5v1.5h-1.5zM288.1 90.5h1.5v1.5h-1.5zM297.2 91.7h1.5v1.5h-1.5zM306.8 95.3h1.5v1.5h-1.5zM317.6 86.9h1.5v1.5h-1.5zM332.0 89.3h1.5v1.5h-1.5zM336.4 91.7h1.5v1.5h-1.5zM188.0 106.8h1.5v1.5h-1.5zM200.0 104.4h1.5v1.5h-1.5zM213.2 105.6h1.5v1.5h-1.5zM220.4 110.4h1.5v1.5h-1.5zM232.4 102.0h1.5v1.5h-1.5zM263.6 97.2h1.5v1.5h-1.5zM267.2 104.9h1.5v1.5h-1.5zM274.9 106.1h1.5v1.5h-1.5zM290.0 106.8h1.5v1.5h-1.5zM300.8 106.1h1.5v1.5h-1.5zM316.9 102.0h1.5v1.5h-1.5zM322.4 110.4h1.5v1.5h-1.5zM333.2 98.9h1.5v1.5h-1.5zM338.8 112.1h1.5v1.5h-1.5zM348.8 106.8h1.5v1.5h-1.5zM357.2 116.9h1.5v1.5h-1.5zM368.5 107.3h1.5v1.5h-1.5zM186.1 120.0h1.5v1.5h-1.5zM202.4 120.0h1.5v1.5h-1.5zM215.2 122.9h1.5v1.5h-1.5zM250.4 118.8h1.5v1.5h-1.5zM266.5 124.1h1.5v1.5h-1.5zM280.9 116.9h1.5v1.5h-1.5zM289.3 118.8h1.5v1.5h-1.5zM300.8 117.6h1.5v1.5h-1.5zM310.0 114.5h1.5v1.5h-1.5zM330.1 124.8h1.5v1.5h-1.5zM348.8 126.5h1.5v1.5h-1.5zM180.8 130.1h1.5v1.5h-1.5zM207.2 138.5h1.5v1.5h-1.5zM231.2 133.7h1.5v1.5h-1.5zM240.1 142.8h1.5v1.5h-1.5zM249.2 131.3h1.5v1.5h-1.5zM264.1 134.4h1.5v1.5h-1.5zM286.4 132.5h1.5v1.5h-1.5zM302.0 127.2h1.5v1.5h-1.5zM315.2 135.6h1.5v1.5h-1.5zM322.9 144.5h1.5v1.5h-1.5zM336.8 134.4h1.5v1.5h-1.5zM375.2 132.0h1.5v1.5h-1.5zM367.6 146.9h1.5v1.5h-1.5zM224.5 144.5h1.5v1.5h-1.5zM230.0 153.6h1.5v1.5h-1.5zM252.8 152.4h1.5v1.5h-1.5zM266.5 150.5h1.5v1.5h-1.5zM286.4 150.5h1.5v1.5h-1.5zM298.4 148.8h1.5v1.5h-1.5zM186.8 158.4h1.5v1.5h-1.5zM242.8 166.1h1.5v1.5h-1.5zM232.4 169.7h1.5v1.5h-1.5zM228.8 179.3h1.5v1.5h-1.5zM384.8 180.5h1.5v1.5h-1.5zM405.2 178.1h1.5v1.5h-1.5zM402.1 184.8h1.5v1.5h-1.5z" fill="#f58c6e" stroke="#0a1c30" stroke-width="0.25"/>
<path d="M332.2 78.8h6.0" stroke="#2bb7a5" stroke-width="2.4" stroke-dasharray="1.8 0.9 2.5 0.6 2.4 0.7 2.5 0.7" opacity="0.75"/>
<path d="M359.8 89.8h6.0" stroke="#2bb7a5" stroke-width="2.4" stroke-dasharray="2.4 0.8 2.5 1.0 2.4 1.0 2.8 0.6" opacity="0.75"/>
<path d="M389.8 118.9h6.0" stroke="#2bb7a5" stroke-width="2.4" stroke-dasharray="2.3 0.8 2.3 0.8 1.9 0.7 2.3 1.0" opacity="0.75"/>
<path d="M346.0 139.3h11.0" stroke="#2bb7a5" stroke-width="2.4" stroke-dasharray="2.0 1.1 1.7 0.8 1.9 1.0 2.4 1.1" opacity="0.75"/>
<path d="M210.2 165.2h9.0" stroke="#2bb7a5" stroke-width="2.4" stroke-dasharray="1.8 0.7 2.4 0.9 2.5 0.7 2.2 0.9" opacity="0.75"/>
<rect x="389.54" y="125.26" width="7.00" height="2.60" fill="#fff" rx="0.50" />
<path d="M390.3 126.6h5.4" stroke="#334" stroke-width="1.4" stroke-dasharray="1.0 0.3 1.1 0.5 1.1 0.4 1.5 0.6" opacity="0.55"/>
<rect x="402.98" y="130.30" width="7.00" height="2.60" fill="#fff" rx="0.50" />
<path d="M403.8 131.6h5.4" stroke="#334" stroke-width="1.4" stroke-dasharray="1.2 0.4 1.2 0.4 1.2 0.5 1.5 0.5" opacity="0.55"/>
<rect x="321.54" y="157.42" width="8.60" height="2.60" fill="#fff" rx="0.50" />
<path d="M322.3 158.7h7.0" stroke="#334" stroke-width="1.4" stroke-dasharray="1.1 0.4 1.1 0.4 1.5 0.5 1.1 0.5" opacity="0.55"/>
<ellipse cx="284.8" cy="146.5" rx="8.6" ry="5.2" fill="#d0453a" fill-opacity="0.12" stroke="#d0453a" stroke-width="0.6"/>
<ellipse cx="293.4" cy="147.7" rx="9.6" ry="5.2" fill="#d0453a" fill-opacity="0.12" stroke="#d0453a" stroke-width="0.6"/>
<path d="M304.00 89.60c-2.6 -2.6 -3 -3.4 -3 -4.6a3 3 0 0 1 6 0c0 1.2 -0.4 2 -3 4.6z" fill="#25d46b" />
<circle cx="304.00" cy="85.00" r="1.30" fill="#b9ffd6" />
<path d="M350.08 102.80c-2.6 -2.6 -3 -3.4 -3 -4.6a3 3 0 0 1 6 0c0 1.2 -0.4 2 -3 4.6z" fill="#25d46b" />
<circle cx="350.08" cy="98.20" r="1.30" fill="#b9ffd6" />
<path d="M360.40 108.32c-2.6 -2.6 -3 -3.4 -3 -4.6a3 3 0 0 1 6 0c0 1.2 -0.4 2 -3 4.6z" fill="#25d46b" />
<circle cx="360.40" cy="103.72" r="1.30" fill="#b9ffd6" />
<path d="M308.80 146.48c-2.6 -2.6 -3 -3.4 -3 -4.6a3 3 0 0 1 6 0c0 1.2 -0.4 2 -3 4.6z" fill="#25d46b" />
<circle cx="308.80" cy="141.88" r="1.30" fill="#b9ffd6" />
<path d="M285.28 146.72c-2.6 -2.6 -3 -3.4 -3 -4.6a3 3 0 0 1 6 0c0 1.2 -0.4 2 -3 4.6z" fill="#25d46b" />
<circle cx="285.28" cy="142.12" r="1.30" fill="#b9ffd6" />
<path d="M290.08 147.68c-2.6 -2.6 -3 -3.4 -3 -4.6a3 3 0 0 1 6 0c0 1.2 -0.4 2 -3 4.6z" fill="#25d46b" />
<circle cx="290.08" cy="143.08" r="1.30" fill="#b9ffd6" />
<path d="M292.96 147.20c-2.6 -2.6 -3 -3.4 -3 -4.6a3 3 0 0 1 6 0c0 1.2 -0.4 2 -3 4.6z" fill="#25d46b" />
<circle cx="292.96" cy="142.60" r="1.30" fill="#b9ffd6" />
<path d="M294.88 149.12c-2.6 -2.6 -3 -3.4 -3 -4.6a3 3 0 0 1 6 0c0 1.2 -0.4 2 -3 4.6z" fill="#25d46b" />
<circle cx="294.88" cy="144.52" r="1.30" fill="#b9ffd6" />
<path d="M281.92 140.48c-2.6 -2.6 -3 -3.4 -3 -4.6a3 3 0 0 1 6 0c0 1.2 -0.4 2 -3 4.6z" fill="#f0524a" />
<circle cx="281.92" cy="135.88" r="1.30" fill="#ffd0cc" />
<rect x="177.00" y="67.40" width="16.60" height="6.20" fill="#2a5ea6" rx="0.60" />
<text x="179.30" y="72.00" font-size="3" fill="#fff" font-weight="bold">显示全部</text>
<rect x="177.00" y="76.00" width="14.00" height="9.60" fill="#f4f6fb" rx="0.50" />
<rect x="177.00" y="76.00" width="6.40" height="9.60" fill="#9eb4ee" rx="0.50" />
<rect x="178.60" y="77.40" width="3.00" height="2.60" fill="#fff" />
<rect x="178.60" y="81.60" width="3.00" height="2.60" fill="#fff" />
<path d="M185.0 78.7h3.4" stroke="#333" stroke-width="2.2" stroke-dasharray="2.0 0.8 2.4 1.0 2.8 1.1 2.1 1.0" opacity="0.80"/>
<path d="M185.0 82.9h3.4" stroke="#333" stroke-width="2.2" stroke-dasharray="2.9 0.9 2.8 1.2 2.8 1.2 2.9 0.9" opacity="0.80"/>
<rect x="177.00" y="86.80" width="5.40" height="11.20" fill="#f4f6fb" rx="0.50" />
<text x="179.70" y="91.20" font-size="3.60" fill="#555" text-anchor="middle" font-weight="normal" font-family="Liberation Sans, sans-serif" >+</text>
<text x="179.70" y="96.60" font-size="3.60" fill="#555" text-anchor="middle" font-weight="normal" font-family="Liberation Sans, sans-serif" >−</text>
<line x1="178.00" y1="92.40" x2="181.40" y2="92.40" stroke="#ccc" stroke-width="0.30" />
<rect x="394.60" y="69.40" width="10.40" height="5.20" fill="#2a66b4" rx="0.50" />
<text x="396.90" y="73.40" font-size="2.9" fill="#fff" font-weight="bold">测距</text>
<rect x="87.50" y="48.80" width="408.10" height="13.40" fill="#0a124e" />
<rect x="87.50" y="51.20" width="408.10" height="7.60" fill="#0b1758" />
<rect x="87.50" y="49.30" width="408.10" height="0.50" fill="#16308a" />
<rect x="87.50" y="61.00" width="408.10" height="0.50" fill="#16308a" />
<rect x="87.70" y="48.90" width="1.60" height="1.40" fill="#2f8be0" />
<rect x="87.70" y="60.40" width="1.60" height="1.40" fill="#2f8be0" />
<rect x="493.60" y="48.90" width="1.60" height="1.40" fill="#2f8be0" />
<rect x="493.60" y="60.40" width="1.60" height="1.40" fill="#2f8be0" />
<text x="92.00" y="58.60" font-size="7.90" fill="#fff" text-anchor="start" font-weight="bold" font-family="Liberation Serif, sans-serif" textLength="25.4" lengthAdjust="spacingAndGlyphs">15:34:19</text>
<text x="120.20" y="58.70" font-size="4.60" fill="#e8ecff" text-anchor="start" font-weight="normal" font-family="Liberation Serif, sans-serif" textLength="23.6" lengthAdjust="spacingAndGlyphs">2023-04-19</text>
<polygon points="171.00,52.20 172.50,52.20 174.70,56.60 173.20,56.60" fill="#2f6fd0" opacity="0.18"/>
<polygon points="174.20,52.20 175.70,52.20 177.90,56.60 176.40,56.60" fill="#2f6fd0" opacity="0.30"/>
<polygon points="177.40,52.20 178.90,52.20 181.10,56.60 179.60,56.60" fill="#2f6fd0" opacity="0.42"/>
<polygon points="180.60,52.20 182.10,52.20 184.30,56.60 182.80,56.60" fill="#2f6fd0" opacity="0.54"/>
<polygon points="183.80,52.20 185.30,52.20 187.50,56.60 186.00,56.60" fill="#2f6fd0" opacity="0.66"/>
<polygon points="187.00,52.20 188.50,52.20 190.70,56.60 189.20,56.60" fill="#2f6fd0" opacity="0.78"/>
<polygon points="190.20,52.20 191.70,52.20 193.90,56.60 192.40,56.60" fill="#3aa6ea" opacity="0.90"/>
<polygon points="414.00,51.80 412.20,51.80 409.60,57.60 411.40,57.60" fill="#2f6fd0" opacity="0.16"/>
<polygon points="410.30,51.80 408.50,51.80 405.90,57.60 407.70,57.60" fill="#2f6fd0" opacity="0.28"/>
<polygon points="406.60,51.80 404.80,51.80 402.20,57.60 404.00,57.60" fill="#2f6fd0" opacity="0.40"/>
<polygon points="402.90,51.80 401.10,51.80 398.50,57.60 400.30,57.60" fill="#2f6fd0" opacity="0.52"/>
<polygon points="399.20,51.80 397.40,51.80 394.80,57.60 396.60,57.60" fill="#2f6fd0" opacity="0.64"/>
<polygon points="395.50,51.80 393.70,51.80 391.10,57.60 392.90,57.60" fill="#2f6fd0" opacity="0.76"/>
<polygon points="391.80,51.80 390.00,51.80 387.40,57.60 389.20,57.60" fill="#3aa6ea" opacity="0.88"/>
<polygon points="197.60,53.00 219.60,53.00 222.40,59.80 200.40,59.80" fill="#1d5b9c" stroke="#35a6e4" stroke-width="0.45"/>
<text x="202.60" y="58.00" font-size="3.7" fill="#fff" font-weight="bold">运营管理</text>
<polygon points="223.20,53.00 245.20,53.00 248.00,59.80 226.00,59.80" fill="#1d5b9c" stroke="#35a6e4" stroke-width="0.45"/>
<text x="228.20" y="58.00" font-size="3.7" fill="#fff" font-weight="bold">质量评估</text>
<polygon points="337.40,53.00 360.40,53.00 357.60,59.80 334.60,59.80" fill="#1d5b9c" stroke="#35a6e4" stroke-width="0.45"/>
<text x="340.10" y="58.00" font-size="3.7" fill="#fff" font-weight="bold">设备分布</text>
<polygon points="363.60,53.00 386.40,53.00 383.60,59.80 360.80,59.80" fill="#1d5b9c" stroke="#35a6e4" stroke-width="0.45"/>
<text x="366.20" y="58.00" font-size="3.7" fill="#fff" font-weight="bold">区域分布</text>
<polygon points="246.80,48.90 336.40,48.90 330.80,61.60 251.80,61.60" fill="url(#ctg)" />
<polyline points="246.8,48.9 251.8,61.6 330.8,61.6 336.4,48.9" fill="none" stroke="#2f9be8" stroke-width="0.6" opacity="0.9"/>
<text x="265.90" y="57.80" font-size="6.35" fill="#fff" font-weight="bold">智能安防预警平台</text>
<text x="430.80" y="56.60" font-size="2.9" fill="#fff" font-weight="bold">告警音效</text>
<text x="453.00" y="56.60" font-size="2.9" fill="#fff" font-weight="bold">音量调节</text>
<text x="472.00" y="56.60" font-size="2.9" fill="#fff" font-weight="bold">退出登录</text>
<path d="M445.6 53.6h1.4l0.6 0.7h2.2v3.4h-4.2z" fill="none" stroke="#fff" stroke-width="0.5"/>
<path d="M465.4 54.8h1l1.4 -1.2v4.2l-1.4 -1.2h-1zM468.8 54.4q1 1.3 0 2.6" fill="none" stroke="#fff" stroke-width="0.5"/>
<path d="M487.4 54.2a2.1 2.1 0 1 0 2.2 0M488.5 53.2v2" fill="none" stroke="#fff" stroke-width="0.5"/>
<path d="M89.6 63.4V241M89.6 63.4H172M493.8 63.4V241M410 63.4H493.8" fill="none" stroke="#1f7f9a" stroke-width="0.45" opacity="0.55"/>
<circle cx="112.60" cy="63.50" r="0.80" fill="#3fe08a" />
<rect x="91.50" y="64.80" width="80.50" height="8.00" fill="#09124c" />
<rect x="115.65" y="64.80" width="32.20" height="8.00" fill="url(#ttlg)" />
<polygon points="96.00,66.20 97.60,66.20 100.40,71.60 98.80,71.60" fill="#1d4fa6" opacity="0.30"/>
<polygon points="167.50,66.20 165.90,66.20 163.10,71.60 164.70,71.60" fill="#1d4fa6" opacity="0.30"/>
<polygon points="99.60,66.20 101.20,66.20 104.00,71.60 102.40,71.60" fill="#1d4fa6" opacity="0.45"/>
<polygon points="163.90,66.20 162.30,66.20 159.50,71.60 161.10,71.60" fill="#1d4fa6" opacity="0.45"/>
<polygon points="103.20,66.20 104.80,66.20 107.60,71.60 106.00,71.60" fill="#1d4fa6" opacity="0.60"/>
<polygon points="160.30,66.20 158.70,66.20 155.90,71.60 157.50,71.60" fill="#1d4fa6" opacity="0.60"/>
<text x="123.10" y="70.30" font-size="3.95" fill="#fff" font-weight="bold" letter-spacing="0.5">预警信息</text>
<rect x="91.50" y="72.80" width="80.50" height="44.80" fill="url(#pbg)" stroke="#1c5cb0" stroke-width="0.5" stroke-opacity="0.8"/>
<rect x="98.90" y="77.60" width="10.70" height="5.30" fill="#1f628f" rx="0.40" stroke="#3a9fd0" stroke-width="0.5"/>
<text x="101.35" y="81.50" font-size="2.9" fill="#dfeaff" font-weight="bold">一天</text>
<rect x="117.25" y="77.60" width="10.70" height="5.30" fill="#0e3a7c" rx="0.40" stroke="#2a6fb8" stroke-width="0.45"/>
<text x="119.70" y="81.50" font-size="2.9" fill="#8fb6e8" font-weight="bold">一周</text>
<rect x="135.60" y="77.60" width="10.70" height="5.30" fill="#0e3a7c" rx="0.40" stroke="#2a6fb8" stroke-width="0.45"/>
<text x="138.05" y="81.50" font-size="2.9" fill="#8fb6e8" font-weight="bold">一月</text>
<rect x="153.95" y="77.60" width="10.70" height="5.30" fill="#0e3a7c" rx="0.40" stroke="#2a6fb8" stroke-width="0.45"/>
<text x="156.40" y="81.50" font-size="2.9" fill="#8fb6e8" font-weight="bold">一年</text>
<rect x="95.60" y="86.40" width="23.20" height="14.10" fill="#0c3684" rx="0.50" stroke="#2f86dc" stroke-width="0.6"/>
<text x="107.20" y="93.90" font-size="7.60" fill="#3fe08a" text-anchor="middle" font-weight="bold" font-family="Liberation Sans, sans-serif" textLength="3.3" lengthAdjust="spacingAndGlyphs">1</text>
<text x="100.32" y="98.60" font-size="2.75" fill="#fff" font-weight="bold">已处理告警</text>
<rect x="120.15" y="86.40" width="23.20" height="14.10" fill="#0c3684" rx="0.50" stroke="#2f86dc" stroke-width="0.6"/>
<text x="131.75" y="93.90" font-size="7.60" fill="#3fe08a" text-anchor="middle" font-weight="bold" font-family="Liberation Sans, sans-serif" textLength="3.3" lengthAdjust="spacingAndGlyphs">0</text>
<text x="124.88" y="98.60" font-size="2.75" fill="#fff" font-weight="bold">已处理故障</text>
<rect x="144.70" y="86.40" width="23.20" height="14.10" fill="#0c3684" rx="0.50" stroke="#2f86dc" stroke-width="0.6"/>
<text x="156.30" y="93.90" font-size="7.60" fill="#3a9af2" text-anchor="middle" font-weight="bold" font-family="Liberation Sans, sans-serif" textLength="3.3" lengthAdjust="spacingAndGlyphs">0</text>
<text x="150.80" y="98.60" font-size="2.75" fill="#fff" font-weight="bold">设备总数</text>
<rect x="95.60" y="102.10" width="23.20" height="14.10" fill="#0c3684" rx="0.50" stroke="#2f86dc" stroke-width="0.6"/>
<text x="107.20" y="109.60" font-size="7.60" fill="#f2554a" text-anchor="middle" font-weight="bold" font-family="Liberation Sans, sans-serif" textLength="3.3" lengthAdjust="spacingAndGlyphs">1</text>
<text x="100.32" y="114.30" font-size="2.75" fill="#fff" font-weight="bold">未处理告警</text>
<rect x="120.15" y="102.10" width="23.20" height="14.10" fill="#0c3684" rx="0.50" stroke="#2f86dc" stroke-width="0.6"/>
<text x="131.75" y="109.60" font-size="7.60" fill="#f0a030" text-anchor="middle" font-weight="bold" font-family="Liberation Sans, sans-serif" textLength="3.3" lengthAdjust="spacingAndGlyphs">0</text>
<text x="124.88" y="114.30" font-size="2.75" fill="#fff" font-weight="bold">未处理故障</text>
<rect x="144.70" y="102.10" width="23.20" height="14.10" fill="#0c3684" rx="0.50" stroke="#2f86dc" stroke-width="0.6"/>
<text x="156.30" y="109.60" font-size="7.60" fill="#3a9af2" text-anchor="middle" font-weight="bold" font-family="Liberation Sans, sans-serif" textLength="3.3" lengthAdjust="spacingAndGlyphs">0</text>
<text x="150.80" y="114.30" font-size="2.75" fill="#fff" font-weight="bold">在线设备</text>
<rect x="91.50" y="120.00" width="80.50" height="7.40" fill="#09124c" />
<rect x="115.65" y="120.00" width="32.20" height="7.40" fill="url(#ttlg)" />
<polygon points="96.00,121.40 97.60,121.40 100.40,126.20 98.80,126.20" fill="#1d4fa6" opacity="0.30"/>
<polygon points="167.50,121.40 165.90,121.40 163.10,126.20 164.70,126.20" fill="#1d4fa6" opacity="0.30"/>
<polygon points="99.60,121.40 101.20,121.40 104.00,126.20 102.40,126.20" fill="#1d4fa6" opacity="0.45"/>
<polygon points="163.90,121.40 162.30,121.40 159.50,126.20 161.10,126.20" fill="#1d4fa6" opacity="0.45"/>
<polygon points="103.20,121.40 104.80,121.40 107.60,126.20 106.00,126.20" fill="#1d4fa6" opacity="0.60"/>
<polygon points="160.30,121.40 158.70,121.40 155.90,126.20 157.50,126.20" fill="#1d4fa6" opacity="0.60"/>
<text x="123.10" y="125.20" font-size="3.95" fill="#fff" font-weight="bold" letter-spacing="0.5">告警概览</text>
<rect x="91.50" y="127.40" width="80.50" height="62.80" fill="url(#pbg)" stroke="#1c5cb0" stroke-width="0.5" stroke-opacity="0.8"/>
<rect x="91.50" y="193.00" width="80.50" height="6.80" fill="#09124c" />
<rect x="115.65" y="193.00" width="32.20" height="6.80" fill="url(#ttlg)" />
<polygon points="96.00,194.40 97.60,194.40 100.40,198.60 98.80,198.60" fill="#1d4fa6" opacity="0.30"/>
<polygon points="167.50,194.40 165.90,194.40 163.10,198.60 164.70,198.60" fill="#1d4fa6" opacity="0.30"/>
<polygon points="99.60,194.40 101.20,194.40 104.00,198.60 102.40,198.60" fill="#1d4fa6" opacity="0.45"/>
<polygon points="163.90,194.40 162.30,194.40 159.50,198.60 161.10,198.60" fill="#1d4fa6" opacity="0.45"/>
<polygon points="103.20,194.40 104.80,194.40 107.60,198.60 106.00,198.60" fill="#1d4fa6" opacity="0.60"/>
<polygon points="160.30,194.40 158.70,194.40 155.90,198.60 157.50,198.60" fill="#1d4fa6" opacity="0.60"/>
<text x="123.10" y="197.90" font-size="3.95" fill="#fff" font-weight="bold" letter-spacing="0.5">设备概览</text>
<rect x="91.50" y="199.80" width="80.50" height="41.60" fill="url(#pbg)" stroke="#1c5cb0" stroke-width="0.5" stroke-opacity="0.8"/>
<text x="133.60" y="133.20" font-size="2.8" fill="#fff" font-weight="bold">已处理</text>
<rect x="143.20" y="131.30" width="6.60" height="1.50" fill="#2fa8f0" rx="0.50" />
<text x="154.00" y="133.20" font-size="2.8" fill="#fff" font-weight="bold">未处理</text>
<rect x="163.50" y="131.30" width="6.60" height="1.50" fill="#f2625a" rx="0.50" />
<text x="98.60" y="137.60" font-size="3.00" fill="#fff" text-anchor="start" font-weight="normal" font-family="Liberation Sans, sans-serif" >/</text>
<text x="99.80" y="137.80" font-size="2.8" fill="#fff" font-weight="bold">数量</text>
<line x1="104.00" y1="142.40" x2="160.00" y2="142.40" stroke="#3a6cb8" stroke-width="0.40" opacity="0.7"/>
<text x="102.60" y="143.60" font-size="3.30" fill="#dfe8ff" text-anchor="end" font-weight="normal" font-family="Liberation Sans, sans-serif" >15</text>
<line x1="104.00" y1="150.35" x2="160.00" y2="150.35" stroke="#3a6cb8" stroke-width="0.40" opacity="0.7"/>
<text x="102.60" y="151.55" font-size="3.30" fill="#dfe8ff" text-anchor="end" font-weight="normal" font-family="Liberation Sans, sans-serif" >12</text>
<line x1="104.00" y1="158.30" x2="160.00" y2="158.30" stroke="#3a6cb8" stroke-width="0.40" opacity="0.7"/>
<text x="102.60" y="159.50" font-size="3.30" fill="#dfe8ff" text-anchor="end" font-weight="normal" font-family="Liberation Sans, sans-serif" >9</text>
<line x1="104.00" y1="166.25" x2="160.00" y2="166.25" stroke="#3a6cb8" stroke-width="0.40" opacity="0.7"/>
<text x="102.60" y="167.45" font-size="3.30" fill="#dfe8ff" text-anchor="end" font-weight="normal" font-family="Liberation Sans, sans-serif" >6</text>
<line x1="104.00" y1="174.20" x2="160.00" y2="174.20" stroke="#3a6cb8" stroke-width="0.40" opacity="0.7"/>
<text x="102.60" y="175.40" font-size="3.30" fill="#dfe8ff" text-anchor="end" font-weight="normal" font-family="Liberation Sans, sans-serif" >3</text>
<text x="102.60" y="183.35" font-size="3.30" fill="#dfe8ff" text-anchor="end" font-weight="normal" font-family="Liberation Sans, sans-serif" >0</text>
<line x1="103.70" y1="140.00" x2="103.70" y2="182.20" stroke="#8fb0e0" stroke-width="0.50" />
<line x1="103.70" y1="182.20" x2="161.00" y2="182.20" stroke="#8fb0e0" stroke-width="0.50" />
<path d="M107.20 166.28C108.71 166.28 112.33 168.25 115.34 166.28C118.35 164.32 120.47 155.18 123.48 155.67C126.49 156.16 128.61 171.39 131.62 168.94C134.63 166.48 136.75 142.40 139.76 142.40C142.77 142.40 144.89 162.06 147.90 168.94C150.91 175.81 154.53 177.58 156.04 179.55L156.04 182.2L107.20 182.2Z" fill="url(#gblue)" />
<path d="M107.20 179.55C108.71 180.04 112.33 181.71 115.34 182.20C118.35 182.69 120.47 184.65 123.48 182.20C126.49 179.75 128.61 172.37 131.62 168.94C134.63 165.50 136.75 161.17 139.76 163.63C142.77 166.08 144.89 179.26 147.90 182.20C150.91 185.14 154.53 180.04 156.04 179.55L156.04 182.2L107.20 182.2Z" fill="url(#gred)" />
<path d="M107.20 166.28C108.71 166.28 112.33 168.25 115.34 166.28C118.35 164.32 120.47 155.18 123.48 155.67C126.49 156.16 128.61 171.39 131.62 168.94C134.63 166.48 136.75 142.40 139.76 142.40C142.77 142.40 144.89 162.06 147.90 168.94C150.91 175.81 154.53 177.58 156.04 179.55" fill="none" stroke="#2f8fe6" stroke-width="0.9"/>
<path d="M107.20 179.55C108.71 180.04 112.33 181.71 115.34 182.20C118.35 182.69 120.47 184.65 123.48 182.20C126.49 179.75 128.61 172.37 131.62 168.94C134.63 165.50 136.75 161.17 139.76 163.63C142.77 166.08 144.89 179.26 147.90 182.20C150.91 185.14 154.53 180.04 156.04 179.55" fill="none" stroke="#e0524a" stroke-width="0.9"/>
<circle cx="107.20" cy="166.28" r="0.95" fill="#fff" />
<circle cx="107.20" cy="179.55" r="0.95" fill="#fff" />
<text x="107.20" y="164.08" font-size="2.40" fill="#4aa0f0" text-anchor="middle" font-weight="normal" font-family="Liberation Sans, sans-serif" >6</text>
<text x="107.20" y="177.35" font-size="2.40" fill="#e0524a" text-anchor="middle" font-weight="normal" font-family="Liberation Sans, sans-serif" >1</text>
<circle cx="115.34" cy="166.28" r="0.95" fill="#fff" />
<circle cx="115.34" cy="182.20" r="0.95" fill="#fff" />
<text x="115.34" y="164.08" font-size="2.40" fill="#4aa0f0" text-anchor="middle" font-weight="normal" font-family="Liberation Sans, sans-serif" >6</text>
<text x="115.34" y="180.00" font-size="2.40" fill="#e0524a" text-anchor="middle" font-weight="normal" font-family="Liberation Sans, sans-serif" >0</text>
<circle cx="123.48" cy="155.67" r="0.95" fill="#fff" />
<circle cx="123.48" cy="182.20" r="0.95" fill="#fff" />
<text x="123.48" y="153.47" font-size="2.40" fill="#4aa0f0" text-anchor="middle" font-weight="normal" font-family="Liberation Sans, sans-serif" >10</text>
<text x="123.48" y="180.00" font-size="2.40" fill="#e0524a" text-anchor="middle" font-weight="normal" font-family="Liberation Sans, sans-serif" >0</text>
<circle cx="131.62" cy="168.94" r="0.95" fill="#fff" />
<circle cx="131.62" cy="168.94" r="0.95" fill="#fff" />
<text x="131.62" y="166.74" font-size="2.40" fill="#4aa0f0" text-anchor="middle" font-weight="normal" font-family="Liberation Sans, sans-serif" >5</text>
<text x="131.62" y="166.74" font-size="2.40" fill="#e0524a" text-anchor="middle" font-weight="normal" font-family="Liberation Sans, sans-serif" >5</text>
<circle cx="139.76" cy="142.40" r="0.95" fill="#fff" />
<circle cx="139.76" cy="163.63" r="0.95" fill="#fff" />
<text x="139.76" y="140.20" font-size="2.40" fill="#4aa0f0" text-anchor="middle" font-weight="normal" font-family="Liberation Sans, sans-serif" >15</text>
<text x="139.76" y="161.43" font-size="2.40" fill="#e0524a" text-anchor="middle" font-weight="normal" font-family="Liberation Sans, sans-serif" >7</text>
<circle cx="147.90" cy="168.94" r="0.95" fill="#fff" />
<circle cx="147.90" cy="182.20" r="0.95" fill="#fff" />
<text x="147.90" y="166.74" font-size="2.40" fill="#4aa0f0" text-anchor="middle" font-weight="normal" font-family="Liberation Sans, sans-serif" >5</text>
<text x="147.90" y="180.00" font-size="2.40" fill="#e0524a" text-anchor="middle" font-weight="normal" font-family="Liberation Sans, sans-serif" >0</text>
<circle cx="156.04" cy="179.55" r="0.95" fill="#fff" />
<circle cx="156.04" cy="179.55" r="0.95" fill="#fff" />
<text x="156.04" y="177.35" font-size="2.40" fill="#4aa0f0" text-anchor="middle" font-weight="normal" font-family="Liberation Sans, sans-serif" >1</text>
<text x="156.04" y="177.35" font-size="2.40" fill="#e0524a" text-anchor="middle" font-weight="normal" font-family="Liberation Sans, sans-serif" >1</text>
<text x="107.20" y="187.30" font-size="3.50" fill="#fff" text-anchor="middle" font-weight="bold" font-family="Liberation Sans, sans-serif" >04-13</text>
<text x="123.48" y="187.30" font-size="3.50" fill="#fff" text-anchor="middle" font-weight="bold" font-family="Liberation Sans, sans-serif" >04-15</text>
<text x="139.76" y="187.30" font-size="3.50" fill="#fff" text-anchor="middle" font-weight="bold" font-family="Liberation Sans, sans-serif" >04-17</text>
<text x="156.04" y="187.30" font-size="3.50" fill="#fff" text-anchor="middle" font-weight="bold" font-family="Liberation Sans, sans-serif" >04-19</text>
<text x="162.60" y="183.40" font-size="2.90" fill="#fff" text-anchor="start" font-weight="normal" font-family="Liberation Sans, sans-serif" >/</text>
<text x="163.80" y="183.60" font-size="2.7" fill="#fff" font-weight="bold">日期</text>
<path d="M113.60 208.20A13.60 13.60 0 0 1 127.01 224.07L122.28 223.27A8.80 8.80 0 0 0 113.60 213.00Z" fill="#3ee6a6" />
<path d="M127.01 224.07A13.60 13.60 0 0 1 116.31 235.13L115.35 230.42A8.80 8.80 0 0 0 122.28 223.27Z" fill="#f55c50" />
<path d="M116.31 235.13A13.60 13.60 0 1 1 113.60 208.20L113.60 213.00A8.80 8.80 0 1 0 115.35 230.42Z" fill="#45b6e2" />
<circle cx="113.60" cy="221.80" r="8.80" fill="#0e3a80" />
<text x="113.60" y="222.40" font-size="4.20" fill="#3fe6a0" text-anchor="middle" font-weight="bold" font-family="Liberation Sans, sans-serif" >47</text>
<text x="108.80" y="227.00" font-size="2.4" fill="#fff" font-weight="bold">设备总数</text>
<path d="M105.0 207.4h5.0" stroke="#e8751a" stroke-width="1.6" stroke-dasharray="1.1 0.5 1.2 0.6 1.5 0.4 1.5 0.5" opacity="0.80"/>
<path d="M124.0 214.0h5.0" stroke="#3ee6a6" stroke-width="1.6" stroke-dasharray="0.8 0.4 1.0 0.4 1.1 0.5 1.1 0.5" opacity="0.80"/>
<path d="M125.4 234.0h8.0" stroke="#f55c50" stroke-width="1.6" stroke-dasharray="0.8 0.4 1.4 0.5 1.3 0.4 1.1 0.3" opacity="0.80"/>
<path d="M117.0 239.4h5.0" stroke="#e0a83a" stroke-width="1.6" stroke-dasharray="1.4 0.5 1.0 0.4 1.0 0.4 1.4 0.6" opacity="0.80"/>
<rect x="137.80" y="204.80" width="24.00" height="5.20" fill="url(#lgf0)" />
<rect x="137.80" y="204.80" width="1.50" height="5.20" fill="#2fd08c" />
<text x="140.60" y="208.60" font-size="3" fill="#fff" font-weight="bold">在线</text>
<text x="149.60" y="208.70" font-size="3.20" fill="#2fd08c" text-anchor="middle" font-weight="normal" font-family="Liberation Sans, sans-serif" >13</text>
<text x="153.60" y="208.60" font-size="3" fill="#fff" font-weight="bold">台</text>
<rect x="137.80" y="212.00" width="24.00" height="5.20" fill="url(#lgf1)" />
<rect x="137.80" y="212.00" width="1.50" height="5.20" fill="#f25c50" />
<text x="140.60" y="215.80" font-size="3" fill="#fff" font-weight="bold">告警</text>
<text x="149.60" y="215.90" font-size="3.20" fill="#f25c50" text-anchor="middle" font-weight="normal" font-family="Liberation Sans, sans-serif" >5</text>
<text x="153.60" y="215.80" font-size="3" fill="#fff" font-weight="bold">台</text>
<rect x="137.80" y="219.20" width="24.00" height="5.20" fill="url(#lgf2)" />
<rect x="137.80" y="219.20" width="1.50" height="5.20" fill="#f0a030" />
<text x="140.60" y="223.00" font-size="3" fill="#fff" font-weight="bold">故障</text>
<text x="149.60" y="223.10" font-size="3.20" fill="#f0a030" text-anchor="middle" font-weight="normal" font-family="Liberation Sans, sans-serif" >0</text>
<text x="153.60" y="223.00" font-size="3" fill="#fff" font-weight="bold">台</text>
<rect x="137.80" y="226.40" width="24.00" height="5.20" fill="url(#lgf3)" />
<rect x="137.80" y="226.40" width="1.50" height="5.20" fill="#45a8e0" />
<text x="140.60" y="230.20" font-size="3" fill="#fff" font-weight="bold">离线</text>
<text x="149.60" y="230.30" font-size="3.20" fill="#45a8e0" text-anchor="middle" font-weight="normal" font-family="Liberation Sans, sans-serif" >25</text>
<text x="153.60" y="230.20" font-size="3" fill="#fff" font-weight="bold">台</text>
<rect x="137.80" y="233.60" width="24.00" height="5.20" fill="url(#lgf4)" />
<rect x="137.80" y="233.60" width="1.50" height="5.20" fill="#e8651a" />
<text x="140.60" y="237.40" font-size="3" fill="#fff" font-weight="bold">其他</text>
<text x="149.60" y="237.50" font-size="3.20" fill="#e8651a" text-anchor="middle" font-weight="normal" font-family="Liberation Sans, sans-serif" >0</text>
<text x="153.60" y="237.40" font-size="3" fill="#fff" font-weight="bold">台</text>
<rect x="174.70" y="193.00" width="234.20" height="6.80" fill="#09124c" />
<rect x="244.96" y="193.00" width="93.68" height="6.80" fill="url(#ttlg)" />
<polygon points="179.20,194.40 180.80,194.40 183.60,198.60 182.00,198.60" fill="#1d4fa6" opacity="0.30"/>
<polygon points="404.40,194.40 402.80,194.40 400.00,198.60 401.60,198.60" fill="#1d4fa6" opacity="0.30"/>
<polygon points="182.80,194.40 184.40,194.40 187.20,198.60 185.60,198.60" fill="#1d4fa6" opacity="0.45"/>
<polygon points="400.80,194.40 399.20,194.40 396.40,198.60 398.00,198.60" fill="#1d4fa6" opacity="0.45"/>
<polygon points="186.40,194.40 188.00,194.40 190.80,198.60 189.20,198.60" fill="#1d4fa6" opacity="0.60"/>
<polygon points="397.20,194.40 395.60,194.40 392.80,198.60 394.40,198.60" fill="#1d4fa6" opacity="0.60"/>
<text x="280.92" y="197.90" font-size="3.95" fill="#fff" font-weight="bold" letter-spacing="0.5">电量统计图</text>
<rect x="174.70" y="199.80" width="234.20" height="41.60" fill="url(#pbg)" stroke="#1c5cb0" stroke-width="0.5" stroke-opacity="0.8"/>
<line x1="188.60" y1="206.00" x2="388.00" y2="206.00" stroke="#5f86c8" stroke-width="0.45" opacity="0.55"/>
<text x="186.60" y="207.20" font-size="3.30" fill="#fff" text-anchor="end" font-weight="bold" font-family="Liberation Sans, sans-serif" >800</text>
<line x1="188.60" y1="213.05" x2="388.00" y2="213.05" stroke="#5f86c8" stroke-width="0.45" opacity="0.55"/>
<text x="186.60" y="214.25" font-size="3.30" fill="#fff" text-anchor="end" font-weight="bold" font-family="Liberation Sans, sans-serif" >600</text>
<line x1="188.60" y1="220.10" x2="388.00" y2="220.10" stroke="#5f86c8" stroke-width="0.45" opacity="0.55"/>
<text x="186.60" y="221.30" font-size="3.30" fill="#fff" text-anchor="end" font-weight="bold" font-family="Liberation Sans, sans-serif" >400</text>
<line x1="188.60" y1="227.15" x2="388.00" y2="227.15" stroke="#5f86c8" stroke-width="0.45" opacity="0.55"/>
<text x="186.60" y="228.35" font-size="3.30" fill="#fff" text-anchor="end" font-weight="bold" font-family="Liberation Sans, sans-serif" >200</text>
<line x1="188.60" y1="234.20" x2="388.00" y2="234.20" stroke="#5f86c8" stroke-width="0.45" opacity="0.55"/>
<text x="186.60" y="235.40" font-size="3.30" fill="#fff" text-anchor="end" font-weight="bold" font-family="Liberation Sans, sans-serif" >0</text>
<path d="M202.90 216.43C208.30 216.05 221.28 213.95 232.08 214.41C242.88 214.88 250.46 218.39 261.26 218.94C272.06 219.49 279.64 218.35 290.44 217.39C301.24 216.42 308.82 215.57 319.62 213.74C330.42 211.91 338.00 206.53 348.80 207.49C359.60 208.44 372.58 216.80 377.98 218.91L377.98 234.2L202.90 234.2Z" fill="url(#gteal)" />
<path d="M202.90 216.43C208.30 216.05 221.28 213.95 232.08 214.41C242.88 214.88 250.46 218.39 261.26 218.94C272.06 219.49 279.64 218.35 290.44 217.39C301.24 216.42 308.82 215.57 319.62 213.74C330.42 211.91 338.00 206.53 348.80 207.49C359.60 208.44 372.58 216.80 377.98 218.91" fill="none" stroke="#2cc3d6" stroke-width="0.9"/>
<circle cx="202.90" cy="216.43" r="1.00" fill="#fff" />
<text x="202.90" y="214.23" font-size="2.50" fill="#4fd8e8" text-anchor="middle" font-weight="normal" font-family="Liberation Sans, sans-serif" >504.2</text>
<text x="202.90" y="238.60" font-size="3.30" fill="#fff" text-anchor="middle" font-weight="bold" font-family="Liberation Sans, sans-serif" >2023-04-13</text>
<circle cx="232.08" cy="214.41" r="1.00" fill="#fff" />
<text x="232.08" y="212.21" font-size="2.50" fill="#4fd8e8" text-anchor="middle" font-weight="normal" font-family="Liberation Sans, sans-serif" >561.4</text>
<text x="232.08" y="238.60" font-size="3.30" fill="#fff" text-anchor="middle" font-weight="bold" font-family="Liberation Sans, sans-serif" >2023-04-14</text>
<circle cx="261.26" cy="218.94" r="1.00" fill="#fff" />
<text x="261.26" y="216.74" font-size="2.50" fill="#4fd8e8" text-anchor="middle" font-weight="normal" font-family="Liberation Sans, sans-serif" >432.8</text>
<text x="261.26" y="238.60" font-size="3.30" fill="#fff" text-anchor="middle" font-weight="bold" font-family="Liberation Sans, sans-serif" >2023-04-15</text>
<circle cx="290.44" cy="217.39" r="1.00" fill="#fff" />
<text x="290.44" y="215.19" font-size="2.50" fill="#4fd8e8" text-anchor="middle" font-weight="normal" font-family="Liberation Sans, sans-serif" >477</text>
<text x="290.44" y="238.60" font-size="3.30" fill="#fff" text-anchor="middle" font-weight="bold" font-family="Liberation Sans, sans-serif" >2023-04-16</text>
<circle cx="319.62" cy="213.74" r="1.00" fill="#fff" />
<text x="319.62" y="211.54" font-size="2.50" fill="#4fd8e8" text-anchor="middle" font-weight="normal" font-family="Liberation Sans, sans-serif" >580.4</text>
<text x="319.62" y="238.60" font-size="3.30" fill="#fff" text-anchor="middle" font-weight="bold" font-family="Liberation Sans, sans-serif" >2023-04-17</text>
<circle cx="348.80" cy="207.49" r="1.00" fill="#fff" />
<text x="348.80" y="205.29" font-size="2.50" fill="#4fd8e8" text-anchor="middle" font-weight="normal" font-family="Liberation Sans, sans-serif" >757.8</text>
<text x="348.80" y="238.60" font-size="3.30" fill="#fff" text-anchor="middle" font-weight="bold" font-family="Liberation Sans, sans-serif" >2023-04-18</text>
<circle cx="377.98" cy="218.91" r="1.00" fill="#fff" />
<text x="377.98" y="216.71" font-size="2.50" fill="#4fd8e8" text-anchor="middle" font-weight="normal" font-family="Liberation Sans, sans-serif" >433.8</text>
<text x="377.98" y="238.60" font-size="3.30" fill="#fff" text-anchor="middle" font-weight="bold" font-family="Liberation Sans, sans-serif" >2023-04-19</text>
<text x="392.40" y="237.60" font-size="2.8" fill="#fff" font-weight="bold">日期</text>
<rect x="411.30" y="65.00" width="80.30" height="7.80" fill="#09124c" />
<rect x="435.39" y="65.00" width="32.12" height="7.80" fill="url(#ttlg)" />
<polygon points="415.80,66.40 417.40,66.40 420.20,71.60 418.60,71.60" fill="#1d4fa6" opacity="0.30"/>
<polygon points="487.10,66.40 485.50,66.40 482.70,71.60 484.30,71.60" fill="#1d4fa6" opacity="0.30"/>
<polygon points="419.40,66.40 421.00,66.40 423.80,71.60 422.20,71.60" fill="#1d4fa6" opacity="0.45"/>
<polygon points="483.50,66.40 481.90,66.40 479.10,71.60 480.70,71.60" fill="#1d4fa6" opacity="0.45"/>
<polygon points="423.00,66.40 424.60,66.40 427.40,71.60 425.80,71.60" fill="#1d4fa6" opacity="0.60"/>
<polygon points="479.90,66.40 478.30,66.40 475.50,71.60 477.10,71.60" fill="#1d4fa6" opacity="0.60"/>
<text x="442.80" y="70.40" font-size="3.95" fill="#fff" font-weight="bold" letter-spacing="0.5">告警信息</text>
<rect x="411.30" y="72.80" width="80.30" height="117.80" fill="url(#pbg)" stroke="#1c5cb0" stroke-width="0.5" stroke-opacity="0.8"/>
<rect x="411.30" y="192.90" width="80.30" height="7.10" fill="#09124c" />
<rect x="435.39" y="192.90" width="32.12" height="7.10" fill="url(#ttlg)" />
<polygon points="415.80,194.30 417.40,194.30 420.20,198.80 418.60,198.80" fill="#1d4fa6" opacity="0.30"/>
<polygon points="487.10,194.30 485.50,194.30 482.70,198.80 484.30,198.80" fill="#1d4fa6" opacity="0.30"/>
<polygon points="419.40,194.30 421.00,194.30 423.80,198.80 422.20,198.80" fill="#1d4fa6" opacity="0.45"/>
<polygon points="483.50,194.30 481.90,194.30 479.10,198.80 480.70,198.80" fill="#1d4fa6" opacity="0.45"/>
<polygon points="423.00,194.30 424.60,194.30 427.40,198.80 425.80,198.80" fill="#1d4fa6" opacity="0.60"/>
<polygon points="479.90,194.30 478.30,194.30 475.50,198.80 477.10,198.80" fill="#1d4fa6" opacity="0.60"/>
<text x="442.80" y="197.95" font-size="3.95" fill="#fff" font-weight="bold" letter-spacing="0.5">单位分布</text>
<rect x="411.30" y="200.00" width="80.30" height="41.40" fill="url(#pbg)" stroke="#1c5cb0" stroke-width="0.5" stroke-opacity="0.8"/>
<text x="432.40" y="219.40" font-size="5.6" fill="#1f72d6" letter-spacing="0.75">暂无数据...</text>
<text x="416.80" y="78.20" font-size="3.4" fill="#fff" font-weight="bold" letter-spacing="0.4">编码</text>
<text x="436.80" y="78.20" font-size="3.4" fill="#fff" font-weight="bold" letter-spacing="0.4">名称</text>
<text x="457.60" y="78.20" font-size="3.4" fill="#fff" font-weight="bold" letter-spacing="0.4">时间</text>
<text x="476.80" y="78.20" font-size="3.4" fill="#fff" font-weight="bold" letter-spacing="0.4">信息</text>
<line x1="413.00" y1="80.60" x2="490.00" y2="80.60" stroke="#3a78c8" stroke-width="0.35" opacity="0.6"/>
<text x="420.4" y="84.2" textLength="10.2" font-family="Liberation Sans, sans-serif" font-size="3" font-weight="bold" fill="#f2f5ff" text-anchor="middle" lengthAdjust="spacingAndGlyphs">766399</text>
<text x="461.2" y="84.2" textLength="11.2" font-family="Liberation Sans, sans-serif" font-size="3" font-weight="bold" fill="#f2f5ff" text-anchor="middle" lengthAdjust="spacingAndGlyphs">17:07:03</text>
<text x="477.60" y="84.20" font-size="2.8" fill="#f2564a" font-weight="bold">告警</text>
<text x="420.4" y="91.20" textLength="14.6" font-family="Liberation Sans, sans-serif" font-size="3" font-weight="bold" fill="#f2f5ff" text-anchor="middle" lengthAdjust="spacingAndGlyphs">861130052</text>
<text x="420.4" y="95.40" textLength="10.2" font-family="Liberation Sans, sans-serif" font-size="3" font-weight="bold" fill="#f2f5ff" text-anchor="middle" lengthAdjust="spacingAndGlyphs">766399</text>
<text x="461.2" y="91.20" textLength="15.6" font-family="Liberation Sans, sans-serif" font-size="3" font-weight="bold" fill="#f2f5ff" text-anchor="middle" lengthAdjust="spacingAndGlyphs">2023-04-17</text>
<text x="461.2" y="95.40" textLength="11.2" font-family="Liberation Sans, sans-serif" font-size="3" font-weight="bold" fill="#f2f5ff" text-anchor="middle" lengthAdjust="spacingAndGlyphs">16:50:47</text>
<text x="471.78" y="93.50" font-size="2.7" fill="#f2564a" font-weight="bold" textLength="17.24" lengthAdjust="spacingAndGlyphs">手动/自动开关</text>
<text x="420.4" y="102.76" textLength="14.6" font-family="Liberation Sans, sans-serif" font-size="3" font-weight="bold" fill="#f2f5ff" text-anchor="middle" lengthAdjust="spacingAndGlyphs">861130052</text>
<text x="420.4" y="106.96" textLength="10.2" font-family="Liberation Sans, sans-serif" font-size="3" font-weight="bold" fill="#f2f5ff" text-anchor="middle" lengthAdjust="spacingAndGlyphs">766399</text>
<text x="461.2" y="102.76" textLength="15.6" font-family="Liberation Sans, sans-serif" font-size="3" font-weight="bold" fill="#f2f5ff" text-anchor="middle" lengthAdjust="spacingAndGlyphs">2023-04-17</text>
<text x="461.2" y="106.96" textLength="11.2" font-family="Liberation Sans, sans-serif" font-size="3" font-weight="bold" fill="#f2f5ff" text-anchor="middle" lengthAdjust="spacingAndGlyphs">16:00:33</text>
<use href="#ldgj" y="104.06"/>
<text x="420.4" y="114.32" textLength="14.6" font-family="Liberation Sans, sans-serif" font-size="3" font-weight="bold" fill="#f2f5ff" text-anchor="middle" lengthAdjust="spacingAndGlyphs">867799053</text>
<text x="420.4" y="118.52" textLength="10.2" font-family="Liberation Sans, sans-serif" font-size="3" font-weight="bold" fill="#f2f5ff" text-anchor="middle" lengthAdjust="spacingAndGlyphs">979756</text>
<text x="461.2" y="114.32" textLength="15.6" font-family="Liberation Sans, sans-serif" font-size="3" font-weight="bold" fill="#f2f5ff" text-anchor="middle" lengthAdjust="spacingAndGlyphs">2023-04-17</text>
<text x="461.2" y="118.52" textLength="11.2" font-family="Liberation Sans, sans-serif" font-size="3" font-weight="bold" fill="#f2f5ff" text-anchor="middle" lengthAdjust="spacingAndGlyphs">09:31:10</text>
<path d="M432.4 115.4h16.0" stroke="#fff" stroke-width="2.0" stroke-dasharray="1.2 0.7 2.0 0.6 1.8 0.5 1.2 0.4" opacity="0.70"/>
<use href="#ldgj" y="115.62"/>
<text x="420.4" y="125.88" textLength="14.6" font-family="Liberation Sans, sans-serif" font-size="3" font-weight="bold" fill="#f2f5ff" text-anchor="middle" lengthAdjust="spacingAndGlyphs">867799054</text>
<text x="420.4" y="130.08" textLength="10.2" font-family="Liberation Sans, sans-serif" font-size="3" font-weight="bold" fill="#f2f5ff" text-anchor="middle" lengthAdjust="spacingAndGlyphs">129395</text>
<text x="461.2" y="125.88" textLength="15.6" font-family="Liberation Sans, sans-serif" font-size="3" font-weight="bold" fill="#f2f5ff" text-anchor="middle" lengthAdjust="spacingAndGlyphs">2023-04-16</text>
<text x="461.2" y="130.08" textLength="11.2" font-family="Liberation Sans, sans-serif" font-size="3" font-weight="bold" fill="#f2f5ff" text-anchor="middle" lengthAdjust="spacingAndGlyphs">22:05:35</text>
<path d="M431.4 124.9h18.0" stroke="#fff" stroke-width="2.0" stroke-dasharray="1.9 0.6 1.5 0.5 1.5 0.7 1.2 0.6" opacity="0.70"/>
<path d="M438.6 129.1h3.6" stroke="#fff" stroke-width="2.0" stroke-dasharray="1.9 0.6 1.8 0.7 1.4 0.5 2.1 0.7" opacity="0.70"/>
<use href="#ldgj" y="127.18"/>
<text x="420.4" y="137.44" textLength="14.6" font-family="Liberation Sans, sans-serif" font-size="3" font-weight="bold" fill="#f2f5ff" text-anchor="middle" lengthAdjust="spacingAndGlyphs">867799054</text>
<text x="420.4" y="141.64" textLength="10.2" font-family="Liberation Sans, sans-serif" font-size="3" font-weight="bold" fill="#f2f5ff" text-anchor="middle" lengthAdjust="spacingAndGlyphs">129395</text>
<text x="461.2" y="137.44" textLength="15.6" font-family="Liberation Sans, sans-serif" font-size="3" font-weight="bold" fill="#f2f5ff" text-anchor="middle" lengthAdjust="spacingAndGlyphs">2023-04-16</text>
<text x="461.2" y="141.64" textLength="11.2" font-family="Liberation Sans, sans-serif" font-size="3" font-weight="bold" fill="#f2f5ff" text-anchor="middle" lengthAdjust="spacingAndGlyphs">22:05:35</text>
<path d="M431.4 136.4h18.0" stroke="#fff" stroke-width="2.0" stroke-dasharray="1.3 0.6 1.7 0.7 2.0 0.7 1.3 0.7" opacity="0.70"/>
<path d="M438.6 140.6h3.6" stroke="#fff" stroke-width="2.0" stroke-dasharray="1.3 0.8 1.9 0.8 1.6 0.5 1.7 0.8" opacity="0.70"/>
<use href="#ldgj" y="138.74"/>
<text x="420.4" y="149.00" textLength="14.6" font-family="Liberation Sans, sans-serif" font-size="3" font-weight="bold" fill="#f2f5ff" text-anchor="middle" lengthAdjust="spacingAndGlyphs">867799054</text>
<text x="420.4" y="153.20" textLength="10.2" font-family="Liberation Sans, sans-serif" font-size="3" font-weight="bold" fill="#f2f5ff" text-anchor="middle" lengthAdjust="spacingAndGlyphs">129395</text>
<text x="461.2" y="149.00" textLength="15.6" font-family="Liberation Sans, sans-serif" font-size="3" font-weight="bold" fill="#f2f5ff" text-anchor="middle" lengthAdjust="spacingAndGlyphs">2023-04-16</text>
<text x="461.2" y="153.20" textLength="11.2" font-family="Liberation Sans, sans-serif" font-size="3" font-weight="bold" fill="#f2f5ff" text-anchor="middle" lengthAdjust="spacingAndGlyphs">22:05:09</text>
<path d="M432.4 150.1h16.0" stroke="#fff" stroke-width="2.0" stroke-dasharray="1.8 0.8 1.8 0.5 2.0 0.5 1.4 0.7" opacity="0.70"/>
<use href="#ldgj" y="150.30"/>
<text x="420.4" y="160.56" textLength="14.6" font-family="Liberation Sans, sans-serif" font-size="3" font-weight="bold" fill="#f2f5ff" text-anchor="middle" lengthAdjust="spacingAndGlyphs">867799054</text>
<text x="420.4" y="164.76" textLength="10.2" font-family="Liberation Sans, sans-serif" font-size="3" font-weight="bold" fill="#f2f5ff" text-anchor="middle" lengthAdjust="spacingAndGlyphs">129375</text>
<text x="461.2" y="160.56" textLength="15.6" font-family="Liberation Sans, sans-serif" font-size="3" font-weight="bold" fill="#f2f5ff" text-anchor="middle" lengthAdjust="spacingAndGlyphs">2023-04-16</text>
<text x="461.2" y="164.76" textLength="11.2" font-family="Liberation Sans, sans-serif" font-size="3" font-weight="bold" fill="#f2f5ff" text-anchor="middle" lengthAdjust="spacingAndGlyphs">21:20:07</text>
<path d="M432.4 161.7h16.0" stroke="#fff" stroke-width="2.0" stroke-dasharray="1.4 0.5 1.3 0.4 1.2 0.4 1.7 0.4" opacity="0.70"/>
<use href="#ldgj" y="161.86"/>
<text x="420.4" y="172.12" textLength="14.6" font-family="Liberation Sans, sans-serif" font-size="3" font-weight="bold" fill="#f2f5ff" text-anchor="middle" lengthAdjust="spacingAndGlyphs">867576052</text>
<text x="420.4" y="176.32" textLength="10.2" font-family="Liberation Sans, sans-serif" font-size="3" font-weight="bold" fill="#f2f5ff" text-anchor="middle" lengthAdjust="spacingAndGlyphs">836617</text>
<text x="461.2" y="172.12" textLength="15.6" font-family="Liberation Sans, sans-serif" font-size="3" font-weight="bold" fill="#f2f5ff" text-anchor="middle" lengthAdjust="spacingAndGlyphs">2023-04-16</text>
<text x="461.2" y="176.32" textLength="11.2" font-family="Liberation Sans, sans-serif" font-size="3" font-weight="bold" fill="#f2f5ff" text-anchor="middle" lengthAdjust="spacingAndGlyphs">06:06:37</text>
<path d="M431.4 171.1h18.0" stroke="#fff" stroke-width="2.0" stroke-dasharray="1.4 0.7 1.5 0.6 1.6 0.5 2.1 0.7" opacity="0.70"/>
<path d="M432.4 175.3h16.0" stroke="#fff" stroke-width="2.0" stroke-dasharray="1.8 0.6 1.8 0.6 1.6 0.7 1.3 0.5" opacity="0.70"/>
<use href="#ldgj" y="173.42"/>
<text x="420.4" y="183.68" textLength="14.6" font-family="Liberation Sans, sans-serif" font-size="3" font-weight="bold" fill="#f2f5ff" text-anchor="middle" lengthAdjust="spacingAndGlyphs">867799058</text>
<text x="420.4" y="187.88" textLength="10.2" font-family="Liberation Sans, sans-serif" font-size="3" font-weight="bold" fill="#f2f5ff" text-anchor="middle" lengthAdjust="spacingAndGlyphs">966772</text>
<text x="461.2" y="183.68" textLength="15.6" font-family="Liberation Sans, sans-serif" font-size="3" font-weight="bold" fill="#f2f5ff" text-anchor="middle" lengthAdjust="spacingAndGlyphs">2023-04-13</text>
<text x="461.2" y="187.88" textLength="11.2" font-family="Liberation Sans, sans-serif" font-size="3" font-weight="bold" fill="#f2f5ff" text-anchor="middle" lengthAdjust="spacingAndGlyphs">13:09:53</text>
<path d="M432.4 184.8h16.0" stroke="#fff" stroke-width="2.0" stroke-dasharray="1.9 0.5 1.2 0.5 1.5 0.5 1.6 0.7" opacity="0.70"/>
<use href="#ldgj" y="184.98"/>
</g>
<rect x="496.40" y="47.90" width="407.60" height="0.80" fill="#85878f" />
<rect x="496.40" y="48.60" width="407.60" height="13.80" fill="#0e1a40" />
<rect x="496.40" y="62.40" width="407.60" height="179.40" fill="#0c102f" />
<rect x="496.40" y="62.40" width="39.30" height="179.40" fill="#0e1a42" />
<text x="504.00" y="57.50" font-size="5.6" fill="#fff" font-weight="bold" letter-spacing="0.18">智能安防预警平台</text>
<path d="M843.20 52.60h2l0.7 0.8h2.6v1h-5.3z M843.20 54.80h6.2l-0.6 3.8h-5.6z" fill="#fff" />
<rect x="845.60" y="56.00" width="1.60" height="1.40" fill="#0e1a40" />
<rect x="855.50" y="53.10" width="6.60" height="5.00" fill="#fff" rx="0.50" />
<path d="M855.50 53.60l3.3 2.2 3.3 -2.2" fill="none" stroke="#0e1a40" stroke-width="0.6"/>
<text x="866.80" y="57.10" font-size="4.20" fill="#fff" text-anchor="start" font-weight="bold" font-family="Liberation Serif, sans-serif" textLength="23.2" lengthAdjust="spacingAndGlyphs">13316552842</text>
<circle cx="896.60" cy="55.60" r="4.30" fill="#103f88" />
<circle cx="896.60" cy="54.30" r="1.70" fill="#2aa9f6" />
<path d="M893.50 58.20q0 -2.6 3.1 -2.6q3.1 0 3.1 2.6q-3.1 2 -6.2 0z" fill="#2aa9f6" />
<rect x="503.80" y="67.00" width="6.60" height="5.00" fill="#fff" rx="1.00" />
<rect x="507.00" y="69.30" width="2.20" height="1.20" fill="#0e1a42" />
<text x="513.90" y="71.15" font-size="3.5" fill="#fff" font-weight="bold">监控平台</text>
<circle cx="507.30" cy="82.43" r="1.60" fill="#fff" />
<path d="M503.60 87.03q3.4 -3.6 6.8 0z" fill="#fff" />
<path d="M503.40 84.63l2 -1.8 0 2.6z" fill="#fff" />
<text x="513.90" y="85.48" font-size="3.5" fill="#fff" font-weight="bold">账号管理</text>
<rect x="504.60" y="97.76" width="5.20" height="4.00" fill="#fff" rx="0.80" />
<path d="M505.70 97.96v-1.2a1.5 1.5 0 0 1 3 0v1.2" fill="none" stroke="#fff" stroke-width="0.9"/>
<rect x="506.80" y="98.96" width="0.90" height="1.60" fill="#0e1a42" />
<text x="513.90" y="99.81" font-size="3.5" fill="#fff" font-weight="bold">权限管理</text>
<path d="M504.60 109.49h3.2l2 2v4.6h-5.2z" fill="#fff" />
<rect x="505.80" y="112.89" width="2.60" height="2.00" fill="#0e1a42" rx="0.30" />
<text x="513.90" y="114.14" font-size="3.5" fill="#fff" font-weight="bold">单位管理</text>
<rect x="503.80" y="124.22" width="6.60" height="4.60" fill="#fff" rx="0.80" />
<path d="M506.00 128.62l1.2 1.4 1.2-1.4z" fill="#fff" />
<rect x="506.00" y="125.62" width="2.40" height="1.00" fill="#0e1a42" />
<text x="513.90" y="128.47" font-size="3.5" fill="#fff" font-weight="bold">设备管理</text>
<rect x="496.40" y="134.35" width="39.30" height="14.00" fill="url(#actg)" />
<path d="M504.80 141.95q0 -3.6 2.4 -3.6q2.4 0 2.4 3.6l0.8 1.4h-6.4z" fill="#fff" />
<rect x="506.40" y="143.75" width="1.60" height="0.90" fill="#fff" rx="0.40" />
<text x="513.90" y="142.80" font-size="3.5" fill="#fff" font-weight="bold">告警管理</text>
<rect x="504.60" y="152.88" width="5.20" height="6.20" fill="#fff" rx="0.90" />
<rect x="505.80" y="154.88" width="2.80" height="2.60" fill="#0e1a42" rx="0.30" />
<rect x="506.00" y="152.18" width="2.40" height="1.20" fill="#fff" rx="0.40" />
<text x="513.90" y="157.13" font-size="3.5" fill="#fff" font-weight="bold">日志管理</text>
<rect x="504.60" y="167.01" width="5.20" height="6.20" fill="#fff" rx="0.90" />
<path d="M506.40 168.81v2.6l2.2 -1.3z" fill="#0e1a42" />
<text x="513.90" y="171.46" font-size="3.5" fill="#fff" font-weight="bold">帮助文档</text>
<circle cx="507.20" cy="184.44" r="3.10" fill="#fff" />
<circle cx="507.20" cy="184.44" r="1.00" fill="#0e1a42" />
<text x="513.90" y="185.79" font-size="3.5" fill="#fff" font-weight="bold">问题反馈</text>
<rect x="503.80" y="196.27" width="6.80" height="5.00" fill="#fff" rx="0.70" />
<rect x="506.20" y="198.07" width="2.00" height="1.40" fill="#0e1a42" />
<text x="513.90" y="200.12" font-size="3.5" fill="#fff" font-weight="bold">角色管理</text>
<rect x="504.60" y="210.00" width="5.20" height="6.20" fill="#fff" rx="0.70" />
<rect x="505.80" y="211.40" width="2.80" height="0.90" fill="#0e1a42" />
<rect x="505.80" y="213.40" width="2.80" height="1.40" fill="#0e1a42" />
<text x="513.90" y="214.45" font-size="3.5" fill="#fff" font-weight="bold">分析报告</text>
<polygon points="510.06,229.08 507.20,230.73 504.34,229.08 504.34,225.78 507.20,224.13 510.06,225.78" fill="#fff" />
<circle cx="507.20" cy="227.43" r="1.10" fill="#0e1a42" />
<text x="513.90" y="228.78" font-size="3.5" fill="#fff" font-weight="bold">系统设置</text>
<rect x="540.40" y="66.90" width="19.60" height="7.90" fill="#2a86d8" rx="1.40" />
<text x="543.20" y="72.20" font-size="3.5" fill="#fff" font-weight="bold">告警管理</text>
<rect x="811.20" y="66.90" width="27.20" height="8.00" fill="#2a7fd0" rx="4.00" stroke="#0a1a3a" stroke-width="0.5"/>
<text x="819.10" y="72.30" font-size="3.95" fill="#fff" font-weight="bold">报警趋势</text>
<circle cx="816.20" cy="70.90" r="1.50" fill="none" stroke="#fff" stroke-width="0.45"/>
<rect x="842.00" y="66.90" width="27.30" height="8.00" fill="#f2554e" rx="4.00" stroke="#0a1a3a" stroke-width="0.5"/>
<text x="849.95" y="72.30" font-size="3.95" fill="#fff" font-weight="bold">设备告警</text>
<circle cx="847.00" cy="70.90" r="1.50" fill="none" stroke="#fff" stroke-width="0.45"/>
<rect x="873.30" y="66.90" width="27.00" height="8.00" fill="#2a7fd0" rx="4.00" stroke="#0a1a3a" stroke-width="0.5"/>
<text x="881.10" y="72.30" font-size="3.95" fill="#fff" font-weight="bold">设备故障</text>
<circle cx="878.30" cy="70.90" r="1.50" fill="none" stroke="#fff" stroke-width="0.45"/>
<rect x="540.40" y="79.20" width="87.60" height="80.40" fill="#0e1c45" rx="3.50" />
<rect x="540.40" y="163.60" width="87.60" height="78.20" fill="#0e1c45" rx="3.50" />
<rect x="540.40" y="236.00" width="87.60" height="5.80" fill="#0e1c45" />
<rect x="632.00" y="79.20" width="88.50" height="80.40" fill="#0e1c45" rx="3.50" />
<rect x="632.00" y="163.60" width="88.50" height="78.20" fill="#0e1c45" rx="3.50" />
<rect x="632.00" y="236.00" width="88.50" height="5.80" fill="#0e1c45" />
<rect x="724.30" y="79.20" width="176.00" height="80.40" fill="#0e1c45" rx="3.50" />
<rect x="724.30" y="163.60" width="176.00" height="78.20" fill="#0e1c45" rx="3.50" />
<rect x="724.30" y="236.00" width="176.00" height="5.80" fill="#0e1c45" />
<rect x="563.60" y="81.80" width="1.70" height="5.60" fill="#f2625a" />
<text x="567.80" y="86.90" font-size="5.6" fill="#fff" font-weight="bold" letter-spacing="0.35">设备告警总数</text>
<rect x="563.60" y="166.60" width="1.70" height="5.60" fill="#f5b93a" />
<text x="567.80" y="171.70" font-size="5.6" fill="#fff" font-weight="bold" letter-spacing="0.35">设备故障总数</text>
<rect x="655.20" y="81.80" width="1.70" height="5.60" fill="#f2625a" />
<text x="659.40" y="86.90" font-size="5.6" fill="#fff" font-weight="bold" letter-spacing="0.35">今日新增告警</text>
<rect x="655.20" y="166.60" width="1.70" height="5.60" fill="#f5b93a" />
<text x="659.40" y="171.70" font-size="5.6" fill="#fff" font-weight="bold" letter-spacing="0.35">今日新增故障</text>
<rect x="798.00" y="81.80" width="1.70" height="5.60" fill="#f2625a" />
<text x="802.20" y="86.90" font-size="5.6" fill="#fff" font-weight="bold" letter-spacing="0.35">告警处理</text>
<rect x="798.00" y="166.60" width="1.70" height="5.60" fill="#f5b93a" />
<text x="802.20" y="171.70" font-size="5.6" fill="#fff" font-weight="bold" letter-spacing="0.35">故障处理</text>
<rect x="544.00" y="106.40" width="13.00" height="30.40" fill="#33253f" rx="1.30" stroke="#f2625a" stroke-width="0.7" stroke-opacity="0.75"/>
<text x="550.50" y="126.50" font-size="14.20" fill="#f2625a" text-anchor="middle" font-weight="bold" font-family="Liberation Sans, sans-serif" >0</text>
<rect x="560.70" y="106.40" width="13.00" height="30.40" fill="#33253f" rx="1.30" stroke="#f2625a" stroke-width="0.7" stroke-opacity="0.75"/>
<text x="567.20" y="126.50" font-size="14.20" fill="#f2625a" text-anchor="middle" font-weight="bold" font-family="Liberation Sans, sans-serif" >2</text>
<rect x="577.50" y="106.40" width="13.00" height="30.40" fill="#33253f" rx="1.30" stroke="#f2625a" stroke-width="0.7" stroke-opacity="0.75"/>
<text x="584.00" y="126.50" font-size="14.20" fill="#f2625a" text-anchor="middle" font-weight="bold" font-family="Liberation Sans, sans-serif" >1</text>
<rect x="594.00" y="106.40" width="13.00" height="30.40" fill="#33253f" rx="1.30" stroke="#f2625a" stroke-width="0.7" stroke-opacity="0.75"/>
<text x="600.50" y="126.50" font-size="14.20" fill="#f2625a" text-anchor="middle" font-weight="bold" font-family="Liberation Sans, sans-serif" >7</text>
<rect x="611.00" y="106.40" width="13.00" height="30.40" fill="#33253f" rx="1.30" stroke="#f2625a" stroke-width="0.7" stroke-opacity="0.75"/>
<text x="617.50" y="126.50" font-size="14.20" fill="#f2625a" text-anchor="middle" font-weight="bold" font-family="Liberation Sans, sans-serif" >9</text>
<rect x="544.00" y="191.30" width="13.00" height="30.00" fill="#343340" rx="1.30" stroke="#f5b93a" stroke-width="0.7" stroke-opacity="0.75"/>
<text x="550.50" y="211.20" font-size="14.20" fill="#f5b93a" text-anchor="middle" font-weight="bold" font-family="Liberation Sans, sans-serif" >0</text>
<rect x="560.70" y="191.30" width="13.00" height="30.00" fill="#343340" rx="1.30" stroke="#f5b93a" stroke-width="0.7" stroke-opacity="0.75"/>
<text x="567.20" y="211.20" font-size="14.20" fill="#f5b93a" text-anchor="middle" font-weight="bold" font-family="Liberation Sans, sans-serif" >0</text>
<rect x="577.50" y="191.30" width="13.00" height="30.00" fill="#343340" rx="1.30" stroke="#f5b93a" stroke-width="0.7" stroke-opacity="0.75"/>
<text x="584.00" y="211.20" font-size="14.20" fill="#f5b93a" text-anchor="middle" font-weight="bold" font-family="Liberation Sans, sans-serif" >0</text>
<rect x="594.00" y="191.30" width="13.00" height="30.00" fill="#343340" rx="1.30" stroke="#f5b93a" stroke-width="0.7" stroke-opacity="0.75"/>
<text x="600.50" y="211.20" font-size="14.20" fill="#f5b93a" text-anchor="middle" font-weight="bold" font-family="Liberation Sans, sans-serif" >0</text>
<rect x="611.00" y="191.30" width="13.00" height="30.00" fill="#343340" rx="1.30" stroke="#f5b93a" stroke-width="0.7" stroke-opacity="0.75"/>
<text x="617.50" y="211.20" font-size="14.20" fill="#f5b93a" text-anchor="middle" font-weight="bold" font-family="Liberation Sans, sans-serif" >0</text>
<circle cx="676.00" cy="123.80" r="22.40" fill="none" stroke="#432a42" stroke-width="6.8"/>
<circle cx="676.00" cy="123.80" r="15.30" fill="#2a2142" stroke="#f2625a" stroke-width="0.8"/>
<text x="676.00" y="125.40" font-size="8.60" fill="#f2625a" text-anchor="middle" font-weight="normal" font-family="Liberation Sans, sans-serif" >2</text>
<text x="673.00" y="131.20" font-size="3" fill="#f2625a" font-weight="bold">告警</text>
<circle cx="676.00" cy="101.60" r="3.90" fill="#f2625a" />
<circle cx="676.00" cy="208.60" r="22.40" fill="none" stroke="#45403f" stroke-width="6.8"/>
<circle cx="676.00" cy="208.60" r="15.30" fill="#2a2940" stroke="#f5b93a" stroke-width="0.8"/>
<text x="676.00" y="210.20" font-size="8.60" fill="#f5b93a" text-anchor="middle" font-weight="normal" font-family="Liberation Sans, sans-serif" >0</text>
<text x="673.00" y="216.00" font-size="3" fill="#f5b93a" font-weight="bold">告警</text>
<line x1="743.00" y1="103.20" x2="882.00" y2="103.20" stroke="#26345c" stroke-width="0.50" />
<text x="741.50" y="104.60" font-size="3.90" fill="#fff" text-anchor="end" font-weight="bold" font-family="Liberation Sans, sans-serif" >15</text>
<line x1="743.00" y1="112.70" x2="882.00" y2="112.70" stroke="#26345c" stroke-width="0.50" />
<text x="741.50" y="114.10" font-size="3.90" fill="#fff" text-anchor="end" font-weight="bold" font-family="Liberation Sans, sans-serif" >12</text>
<line x1="743.00" y1="122.20" x2="882.00" y2="122.20" stroke="#26345c" stroke-width="0.50" />
<text x="741.50" y="123.60" font-size="3.90" fill="#fff" text-anchor="end" font-weight="bold" font-family="Liberation Sans, sans-serif" >9</text>
<line x1="743.00" y1="131.70" x2="882.00" y2="131.70" stroke="#26345c" stroke-width="0.50" />
<text x="741.50" y="133.10" font-size="3.90" fill="#fff" text-anchor="end" font-weight="bold" font-family="Liberation Sans, sans-serif" >6</text>
<line x1="743.00" y1="141.20" x2="882.00" y2="141.20" stroke="#26345c" stroke-width="0.50" />
<text x="741.50" y="142.60" font-size="3.90" fill="#fff" text-anchor="end" font-weight="bold" font-family="Liberation Sans, sans-serif" >3</text>
<line x1="743.00" y1="150.70" x2="882.00" y2="150.70" stroke="#26345c" stroke-width="0.50" />
<text x="741.50" y="152.10" font-size="3.90" fill="#fff" text-anchor="end" font-weight="bold" font-family="Liberation Sans, sans-serif" >0</text>
<text x="738.60" y="97.00" font-size="3.80" fill="#fff" text-anchor="start" font-weight="normal" font-family="Liberation Sans, sans-serif" >/</text>
<text x="740.40" y="97.20" font-size="3.6" fill="#fff" font-weight="bold">数量</text>
<path d="M754.50 131.70C758.14 131.70 766.91 134.04 774.20 131.70C781.49 129.35 786.61 118.44 793.90 119.03C801.19 119.62 806.31 137.79 813.60 134.86C820.89 131.94 826.01 103.19 833.30 103.19C840.59 103.19 845.71 126.66 853.00 134.86C860.29 143.07 869.06 145.19 872.70 147.53L872.70 150.7L754.50 150.7Z" fill="url(#gblue)" />
<path d="M754.50 147.53C758.14 148.12 766.91 150.11 774.20 150.70C781.49 151.29 786.61 153.63 793.90 150.70C801.19 147.77 806.31 138.97 813.60 134.86C820.89 130.76 826.01 125.60 833.30 128.53C840.59 131.46 845.71 147.18 853.00 150.70C860.29 154.22 869.06 148.12 872.70 147.53L872.70 150.7L754.50 150.7Z" fill="url(#gred)" />
<path d="M754.50 131.70C758.14 131.70 766.91 134.04 774.20 131.70C781.49 129.35 786.61 118.44 793.90 119.03C801.19 119.62 806.31 137.79 813.60 134.86C820.89 131.94 826.01 103.19 833.30 103.19C840.59 103.19 845.71 126.66 853.00 134.86C860.29 143.07 869.06 145.19 872.70 147.53" fill="none" stroke="#2f8fe6" stroke-width="0.9"/>
<path d="M754.50 147.53C758.14 148.12 766.91 150.11 774.20 150.70C781.49 151.29 786.61 153.63 793.90 150.70C801.19 147.77 806.31 138.97 813.60 134.86C820.89 130.76 826.01 125.60 833.30 128.53C840.59 131.46 845.71 147.18 853.00 150.70C860.29 154.22 869.06 148.12 872.70 147.53" fill="none" stroke="#e0524a" stroke-width="0.9"/>
<circle cx="754.50" cy="131.70" r="1.05" fill="#fff" />
<circle cx="754.50" cy="147.53" r="1.05" fill="#fff" />
<text x="754.50" y="129.30" font-size="2.60" fill="#3a8fe0" text-anchor="middle" font-weight="normal" font-family="Liberation Sans, sans-serif" >6</text>
<text x="754.50" y="145.13" font-size="2.60" fill="#e0524a" text-anchor="middle" font-weight="normal" font-family="Liberation Sans, sans-serif" >1</text>
<text x="754.50" y="155.60" font-size="3.90" fill="#fff" text-anchor="middle" font-weight="bold" font-family="Liberation Sans, sans-serif" >04-13</text>
<circle cx="774.20" cy="131.70" r="1.05" fill="#fff" />
<circle cx="774.20" cy="150.70" r="1.05" fill="#fff" />
<text x="774.20" y="129.30" font-size="2.60" fill="#3a8fe0" text-anchor="middle" font-weight="normal" font-family="Liberation Sans, sans-serif" >6</text>
<text x="774.20" y="148.30" font-size="2.60" fill="#e0524a" text-anchor="middle" font-weight="normal" font-family="Liberation Sans, sans-serif" >0</text>
<text x="774.20" y="155.60" font-size="3.90" fill="#fff" text-anchor="middle" font-weight="bold" font-family="Liberation Sans, sans-serif" >04-14</text>
<circle cx="793.90" cy="119.03" r="1.05" fill="#fff" />
<circle cx="793.90" cy="150.70" r="1.05" fill="#fff" />
<text x="793.90" y="116.63" font-size="2.60" fill="#3a8fe0" text-anchor="middle" font-weight="normal" font-family="Liberation Sans, sans-serif" >10</text>
<text x="793.90" y="148.30" font-size="2.60" fill="#e0524a" text-anchor="middle" font-weight="normal" font-family="Liberation Sans, sans-serif" >0</text>
<text x="793.90" y="155.60" font-size="3.90" fill="#fff" text-anchor="middle" font-weight="bold" font-family="Liberation Sans, sans-serif" >04-15</text>
<circle cx="813.60" cy="134.86" r="1.05" fill="#fff" />
<circle cx="813.60" cy="134.86" r="1.05" fill="#fff" />
<text x="813.60" y="132.46" font-size="2.60" fill="#3a8fe0" text-anchor="middle" font-weight="normal" font-family="Liberation Sans, sans-serif" >5</text>
<text x="813.60" y="132.46" font-size="2.60" fill="#e0524a" text-anchor="middle" font-weight="normal" font-family="Liberation Sans, sans-serif" >5</text>
<text x="813.60" y="155.60" font-size="3.90" fill="#fff" text-anchor="middle" font-weight="bold" font-family="Liberation Sans, sans-serif" >04-16</text>
<circle cx="833.30" cy="103.19" r="1.05" fill="#fff" />
<circle cx="833.30" cy="128.53" r="1.05" fill="#fff" />
<text x="833.30" y="100.79" font-size="2.60" fill="#3a8fe0" text-anchor="middle" font-weight="normal" font-family="Liberation Sans, sans-serif" >15</text>
<text x="833.30" y="126.13" font-size="2.60" fill="#e0524a" text-anchor="middle" font-weight="normal" font-family="Liberation Sans, sans-serif" >7</text>
<text x="833.30" y="155.60" font-size="3.90" fill="#fff" text-anchor="middle" font-weight="bold" font-family="Liberation Sans, sans-serif" >04-17</text>
<circle cx="853.00" cy="134.86" r="1.05" fill="#fff" />
<circle cx="853.00" cy="150.70" r="1.05" fill="#fff" />
<text x="853.00" y="132.46" font-size="2.60" fill="#3a8fe0" text-anchor="middle" font-weight="normal" font-family="Liberation Sans, sans-serif" >5</text>
<text x="853.00" y="148.30" font-size="2.60" fill="#e0524a" text-anchor="middle" font-weight="normal" font-family="Liberation Sans, sans-serif" >0</text>
<text x="853.00" y="155.60" font-size="3.90" fill="#fff" text-anchor="middle" font-weight="bold" font-family="Liberation Sans, sans-serif" >04-18</text>
<circle cx="872.70" cy="147.53" r="1.05" fill="#fff" />
<circle cx="872.70" cy="147.53" r="1.05" fill="#fff" />
<text x="872.70" y="145.13" font-size="2.60" fill="#3a8fe0" text-anchor="middle" font-weight="normal" font-family="Liberation Sans, sans-serif" >1</text>
<text x="872.70" y="145.13" font-size="2.60" fill="#e0524a" text-anchor="middle" font-weight="normal" font-family="Liberation Sans, sans-serif" >1</text>
<text x="872.70" y="155.60" font-size="3.90" fill="#fff" text-anchor="middle" font-weight="bold" font-family="Liberation Sans, sans-serif" >04-19</text>
<text x="885.40" y="152.00" font-size="3.60" fill="#fff" text-anchor="start" font-weight="normal" font-family="Liberation Sans, sans-serif" >/</text>
<text x="887.00" y="152.20" font-size="3.4" fill="#fff" font-weight="bold">日期</text>
<text x="838.00" y="93.60" font-size="2.9" fill="#fff" font-weight="bold">已处理</text>
<rect x="848.00" y="91.20" width="8.40" height="2.50" fill="#2fa8f0" rx="0.60" />
<text x="860.80" y="93.60" font-size="2.9" fill="#fff" font-weight="bold">未处理</text>
<rect x="870.80" y="91.20" width="8.20" height="2.50" fill="#f2625a" rx="0.60" />
<text x="838.00" y="178.40" font-size="2.9" fill="#fff" font-weight="bold">已处理</text>
<rect x="848.00" y="176.00" width="8.40" height="2.50" fill="#2fa8f0" rx="0.60" />
<text x="860.80" y="178.40" font-size="2.9" fill="#fff" font-weight="bold">未处理</text>
<rect x="870.80" y="176.00" width="8.20" height="2.50" fill="#f5b93a" rx="0.60" />
<text x="736.40" y="181.80" font-size="3.80" fill="#fff" text-anchor="start" font-weight="normal" font-family="Liberation Sans, sans-serif" >/</text>
<text x="738.20" y="182.00" font-size="3.6" fill="#fff" font-weight="bold">数量</text>
<text x="741.50" y="188.70" font-size="3.90" fill="#fff" text-anchor="end" font-weight="normal" font-family="Liberation Sans, sans-serif" >1</text>
<line x1="743.00" y1="187.30" x2="882.00" y2="187.30" stroke="#26345c" stroke-width="0.50" />
<line x1="743.00" y1="235.20" x2="882.00" y2="235.20" stroke="#3a466a" stroke-width="0.50" />
<text x="741.50" y="236.60" font-size="3.90" fill="#fff" text-anchor="end" font-weight="normal" font-family="Liberation Sans, sans-serif" >0</text>
<text x="798.41" y="208.60" font-size="5" fill="#3f6f9f" letter-spacing="0.5">暂无数据...</text>
<text x="752.30" y="240.20" font-size="3.90" fill="#fff" text-anchor="middle" font-weight="bold" font-family="Liberation Sans, sans-serif" >04-13</text>
<text x="749.30" y="233.20" font-size="2.80" fill="#2f7fd0" text-anchor="middle" font-weight="bold" font-family="Liberation Sans, sans-serif" >0</text>
<text x="755.30" y="233.20" font-size="2.80" fill="#d08a3a" text-anchor="middle" font-weight="bold" font-family="Liberation Sans, sans-serif" >0</text>
<text x="772.25" y="240.20" font-size="3.90" fill="#fff" text-anchor="middle" font-weight="bold" font-family="Liberation Sans, sans-serif" >04-14</text>
<text x="769.25" y="233.20" font-size="2.80" fill="#2f7fd0" text-anchor="middle" font-weight="bold" font-family="Liberation Sans, sans-serif" >0</text>
<text x="775.25" y="233.20" font-size="2.80" fill="#d08a3a" text-anchor="middle" font-weight="bold" font-family="Liberation Sans, sans-serif" >0</text>
<text x="792.20" y="240.20" font-size="3.90" fill="#fff" text-anchor="middle" font-weight="bold" font-family="Liberation Sans, sans-serif" >04-15</text>
<text x="789.20" y="233.20" font-size="2.80" fill="#2f7fd0" text-anchor="middle" font-weight="bold" font-family="Liberation Sans, sans-serif" >0</text>
<text x="795.20" y="233.20" font-size="2.80" fill="#d08a3a" text-anchor="middle" font-weight="bold" font-family="Liberation Sans, sans-serif" >0</text>
<text x="812.15" y="240.20" font-size="3.90" fill="#fff" text-anchor="middle" font-weight="bold" font-family="Liberation Sans, sans-serif" >04-16</text>
<text x="809.15" y="233.20" font-size="2.80" fill="#2f7fd0" text-anchor="middle" font-weight="bold" font-family="Liberation Sans, sans-serif" >0</text>
<text x="815.15" y="233.20" font-size="2.80" fill="#d08a3a" text-anchor="middle" font-weight="bold" font-family="Liberation Sans, sans-serif" >0</text>
<text x="832.10" y="240.20" font-size="3.90" fill="#fff" text-anchor="middle" font-weight="bold" font-family="Liberation Sans, sans-serif" >04-17</text>
<text x="829.10" y="233.20" font-size="2.80" fill="#2f7fd0" text-anchor="middle" font-weight="bold" font-family="Liberation Sans, sans-serif" >0</text>
<text x="835.10" y="233.20" font-size="2.80" fill="#d08a3a" text-anchor="middle" font-weight="bold" font-family="Liberation Sans, sans-serif" >0</text>
<text x="852.05" y="240.20" font-size="3.90" fill="#fff" text-anchor="middle" font-weight="bold" font-family="Liberation Sans, sans-serif" >04-18</text>
<text x="849.05" y="233.20" font-size="2.80" fill="#2f7fd0" text-anchor="middle" font-weight="bold" font-family="Liberation Sans, sans-serif" >0</text>
<text x="855.05" y="233.20" font-size="2.80" fill="#d08a3a" text-anchor="middle" font-weight="bold" font-family="Liberation Sans, sans-serif" >0</text>
<text x="872.00" y="240.20" font-size="3.90" fill="#fff" text-anchor="middle" font-weight="bold" font-family="Liberation Sans, sans-serif" >04-19</text>
<text x="869.00" y="233.20" font-size="2.80" fill="#2f7fd0" text-anchor="middle" font-weight="bold" font-family="Liberation Sans, sans-serif" >0</text>
<text x="875.00" y="233.20" font-size="2.80" fill="#d08a3a" text-anchor="middle" font-weight="bold" font-family="Liberation Sans, sans-serif" >0</text>
<text x="885.40" y="236.40" font-size="3.60" fill="#fff" text-anchor="start" font-weight="normal" font-family="Liberation Sans, sans-serif" >/</text>
<text x="887.00" y="236.60" font-size="3.4" fill="#fff" font-weight="bold">日期</text>
<rect x="87.50" y="241.90" width="408.10" height="0.80" fill="#85878f" />
<rect x="87.50" y="242.60" width="408.10" height="13.80" fill="#0e1a40" />
<rect x="87.50" y="256.40" width="408.10" height="183.30" fill="#0c102f" />
<rect x="87.50" y="256.40" width="39.30" height="183.30" fill="#0e1a42" />
<text x="95.10" y="251.50" font-size="5.6" fill="#fff" font-weight="bold" letter-spacing="0.18">智能安防预警平台</text>
<path d="M434.80 246.60h2l0.7 0.8h2.6v1h-5.3z M434.80 248.80h6.2l-0.6 3.8h-5.6z" fill="#fff" />
<rect x="437.20" y="250.00" width="1.60" height="1.40" fill="#0e1a40" />
<rect x="447.10" y="247.10" width="6.60" height="5.00" fill="#fff" rx="0.50" />
<path d="M447.10 247.60l3.3 2.2 3.3 -2.2" fill="none" stroke="#0e1a40" stroke-width="0.6"/>
<text x="458.40" y="251.10" font-size="4.20" fill="#fff" text-anchor="start" font-weight="bold" font-family="Liberation Serif, sans-serif" textLength="23.2" lengthAdjust="spacingAndGlyphs">13316552842</text>
<circle cx="488.20" cy="249.60" r="4.30" fill="#103f88" />
<circle cx="488.20" cy="248.30" r="1.70" fill="#2aa9f6" />
<path d="M485.10 252.20q0 -2.6 3.1 -2.6q3.1 0 3.1 2.6q-3.1 2 -6.2 0z" fill="#2aa9f6" />
<rect x="94.90" y="260.90" width="6.60" height="5.00" fill="#fff" rx="1.00" />
<rect x="98.10" y="263.20" width="2.20" height="1.20" fill="#0e1a42" />
<text x="105.00" y="265.05" font-size="3.5" fill="#fff" font-weight="bold">监控平台</text>
<circle cx="98.40" cy="276.33" r="1.60" fill="#fff" />
<path d="M94.70 280.93q3.4 -3.6 6.8 0z" fill="#fff" />
<path d="M94.50 278.53l2 -1.8 0 2.6z" fill="#fff" />
<text x="105.00" y="279.38" font-size="3.5" fill="#fff" font-weight="bold">账号管理</text>
<rect x="95.70" y="291.66" width="5.20" height="4.00" fill="#fff" rx="0.80" />
<path d="M96.80 291.86v-1.2a1.5 1.5 0 0 1 3 0v1.2" fill="none" stroke="#fff" stroke-width="0.9"/>
<rect x="97.90" y="292.86" width="0.90" height="1.60" fill="#0e1a42" />
<text x="105.00" y="293.71" font-size="3.5" fill="#fff" font-weight="bold">权限管理</text>
<path d="M95.70 303.39h3.2l2 2v4.6h-5.2z" fill="#fff" />
<rect x="96.90" y="306.79" width="2.60" height="2.00" fill="#0e1a42" rx="0.30" />
<text x="105.00" y="308.04" font-size="3.5" fill="#fff" font-weight="bold">单位管理</text>
<rect x="94.90" y="318.12" width="6.60" height="4.60" fill="#fff" rx="0.80" />
<path d="M97.10 322.52l1.2 1.4 1.2-1.4z" fill="#fff" />
<rect x="97.10" y="319.52" width="2.40" height="1.00" fill="#0e1a42" />
<text x="105.00" y="322.37" font-size="3.5" fill="#fff" font-weight="bold">设备管理</text>
<path d="M95.90 335.85q0 -3.6 2.4 -3.6q2.4 0 2.4 3.6l0.8 1.4h-6.4z" fill="#fff" />
<rect x="97.50" y="337.65" width="1.60" height="0.90" fill="#fff" rx="0.40" />
<text x="105.00" y="336.70" font-size="3.5" fill="#fff" font-weight="bold">告警管理</text>
<rect x="87.50" y="342.58" width="39.30" height="14.00" fill="url(#actg)" />
<rect x="95.70" y="346.78" width="5.20" height="6.20" fill="#fff" rx="0.90" />
<rect x="96.90" y="348.78" width="2.80" height="2.60" fill="#0e1a42" rx="0.30" />
<rect x="97.10" y="346.08" width="2.40" height="1.20" fill="#fff" rx="0.40" />
<text x="105.00" y="351.03" font-size="3.5" fill="#fff" font-weight="bold">日志管理</text>
<rect x="95.70" y="360.91" width="5.20" height="6.20" fill="#fff" rx="0.90" />
<path d="M97.50 362.71v2.6l2.2 -1.3z" fill="#0e1a42" />
<text x="105.00" y="365.36" font-size="3.5" fill="#fff" font-weight="bold">帮助文档</text>
<circle cx="98.30" cy="378.34" r="3.10" fill="#fff" />
<circle cx="98.30" cy="378.34" r="1.00" fill="#0e1a42" />
<text x="105.00" y="379.69" font-size="3.5" fill="#fff" font-weight="bold">问题反馈</text>
<rect x="94.90" y="390.17" width="6.80" height="5.00" fill="#fff" rx="0.70" />
<rect x="97.30" y="391.97" width="2.00" height="1.40" fill="#0e1a42" />
<text x="105.00" y="394.02" font-size="3.5" fill="#fff" font-weight="bold">角色管理</text>
<rect x="95.70" y="403.90" width="5.20" height="6.20" fill="#fff" rx="0.70" />
<rect x="96.90" y="405.30" width="2.80" height="0.90" fill="#0e1a42" />
<rect x="96.90" y="407.30" width="2.80" height="1.40" fill="#0e1a42" />
<text x="105.00" y="408.35" font-size="3.5" fill="#fff" font-weight="bold">分析报告</text>
<polygon points="101.16,422.98 98.30,424.63 95.44,422.98 95.44,419.68 98.30,418.03 101.16,419.68" fill="#fff" />
<circle cx="98.30" cy="421.33" r="1.10" fill="#0e1a42" />
<text x="105.00" y="422.68" font-size="3.5" fill="#fff" font-weight="bold">系统设置</text>
<rect x="126.80" y="256.40" width="368.80" height="183.30" fill="#0c102f" />
<rect x="126.80" y="439.70" width="368.80" height="0.10" fill="#0c102f" />
<rect x="132.00" y="260.80" width="19.60" height="8.00" fill="#2a86d8" rx="1.40" />
<text x="134.80" y="266.10" font-size="3.5" fill="#fff" font-weight="bold">日志管理</text>
<rect x="244.70" y="261.80" width="53.80" height="8.00" fill="#0c1538" rx="1.60" stroke="#8791ab" stroke-width="0.55"/>
<rect x="302.20" y="261.80" width="44.60" height="8.00" fill="#0c1538" rx="1.60" stroke="#8791ab" stroke-width="0.55"/>
<rect x="350.40" y="261.80" width="44.60" height="8.00" fill="#0c1538" rx="1.60" stroke="#8791ab" stroke-width="0.55"/>
<rect x="398.80" y="261.80" width="93.20" height="8.00" fill="#0c1538" rx="1.60" stroke="#8791ab" stroke-width="0.55"/>
<rect x="290.60" y="262.10" width="7.60" height="7.40" fill="#163a6e" rx="1.20" />
<line x1="290.60" y1="262.00" x2="290.60" y2="269.60" stroke="#8791ab" stroke-width="0.50" />
<path d="M292.9 265.1l1.5 1.6 1.5 -1.6" fill="none" stroke="#cfd6e8" stroke-width="0.55"/>
<path d="M248.6 265.8h6.0" stroke="#fff" stroke-width="2.4" stroke-dasharray="2.1 0.6 2.3 0.8 2.0 0.9 2.2 0.9" opacity="0.90"/>
<path d="M306.0 265.8h11.0" stroke="#7f8bab" stroke-width="2.3" stroke-dasharray="2.2 0.9 2.1 0.7 1.6 0.9 1.8 0.5" opacity="0.80"/>
<circle cx="342.60" cy="265.80" r="1.50" fill="none" stroke="#cfd6e8" stroke-width="0.5"/>
<path d="M354.0 265.8h11.0" stroke="#7f8bab" stroke-width="2.3" stroke-dasharray="1.7 0.5 1.3 0.7 1.3 0.6 1.7 0.7" opacity="0.80"/>
<circle cx="390.80" cy="265.80" r="1.50" fill="none" stroke="#cfd6e8" stroke-width="0.5"/>
<path d="M412.0 265.8h11.0" stroke="#7f8bab" stroke-width="2.3" stroke-dasharray="1.5 0.6 2.1 0.8 2.4 0.7 2.2 0.9" opacity="0.70"/>
<path d="M438.0 265.8h2.4" stroke="#dfe6f5" stroke-width="2.6" stroke-dasharray="2.2 0.6 2.6 0.7 2.2 0.7 1.8 1.0" opacity="0.90"/>
<path d="M455.0 265.8h11.0" stroke="#7f8bab" stroke-width="2.3" stroke-dasharray="1.4 0.7 1.9 0.5 1.6 0.9 1.7 0.7" opacity="0.70"/>
<circle cx="486.60" cy="265.60" r="1.50" fill="none" stroke="#cfd6e8" stroke-width="0.5"/>
<line x1="487.70" y1="266.70" x2="488.60" y2="267.60" stroke="#cfd6e8" stroke-width="0.50" />
<rect x="132.00" y="273.20" width="359.70" height="164.30" fill="#0e1c45" rx="3.50" />
<rect x="297.60" y="277.80" width="1.70" height="5.40" fill="#29c5f0" />
<text x="301.60" y="282.70" font-size="5.4" fill="#fff" font-weight="bold" letter-spacing="0.45">日志管理</text>
<text x="157.05" y="295.50" font-size="4.9" fill="#fff" font-weight="bold" letter-spacing="0.9">账号</text>
<text x="212.25" y="295.50" font-size="4.9" fill="#fff" font-weight="bold" letter-spacing="0.9">时间</text>
<text x="263.60" y="295.50" font-size="4.60" fill="#fff" text-anchor="middle" font-weight="bold" font-family="Liberation Sans, sans-serif" >I P</text>
<text x="335.15" y="295.50" font-size="4.9" fill="#fff" font-weight="bold" letter-spacing="0.9">记录</text>
<text x="438.55" y="295.50" font-size="4.9" fill="#fff" font-weight="bold" letter-spacing="0.9">信息</text>
<rect x="132.00" y="299.60" width="359.70" height="9.11" fill="#183e6f" />
<text x="162.4" y="305.50" textLength="21.4" font-family="Liberation Serif, serif" font-size="4" font-weight="bold" fill="#eef2ff" text-anchor="middle" lengthAdjust="spacingAndGlyphs">13316552842</text>
<text x="217.6" y="305.50" textLength="35" font-family="Liberation Serif, serif" font-size="4" font-weight="bold" fill="#eef2ff" text-anchor="middle" lengthAdjust="spacingAndGlyphs">2023-04-19 15:24:05</text>
<text x="263.6" y="305.50" textLength="25.4" font-family="Liberation Serif, serif" font-size="4" font-weight="bold" fill="#eef2ff" text-anchor="middle" lengthAdjust="spacingAndGlyphs">116.30.255.125</text>
<use href="#recA" y="299.60"/>
<rect x="132.00" y="308.66" width="359.70" height="9.11" fill="#142a5c" />
<text x="162.4" y="314.56" textLength="21.4" font-family="Liberation Serif, serif" font-size="4" font-weight="bold" fill="#eef2ff" text-anchor="middle" lengthAdjust="spacingAndGlyphs">13316552842</text>
<text x="217.6" y="314.56" textLength="35" font-family="Liberation Serif, serif" font-size="4" font-weight="bold" fill="#eef2ff" text-anchor="middle" lengthAdjust="spacingAndGlyphs">2023-04-19 15:24:04</text>
<text x="263.6" y="314.56" textLength="25.4" font-family="Liberation Serif, serif" font-size="4" font-weight="bold" fill="#eef2ff" text-anchor="middle" lengthAdjust="spacingAndGlyphs">116.30.255.125</text>
<use href="#recA" y="308.66"/>
<rect x="132.00" y="317.72" width="359.70" height="9.11" fill="#183e6f" />
<text x="162.4" y="323.62" textLength="21.4" font-family="Liberation Serif, serif" font-size="4" font-weight="bold" fill="#eef2ff" text-anchor="middle" lengthAdjust="spacingAndGlyphs">17854082735</text>
<text x="217.6" y="323.62" textLength="35" font-family="Liberation Serif, serif" font-size="4" font-weight="bold" fill="#eef2ff" text-anchor="middle" lengthAdjust="spacingAndGlyphs">2023-04-19 13:11:03</text>
<text x="263.6" y="323.62" textLength="25.4" font-family="Liberation Serif, serif" font-size="4" font-weight="bold" fill="#eef2ff" text-anchor="middle" lengthAdjust="spacingAndGlyphs">218.201.194.226</text>
<use href="#recB" y="317.72"/>
<use href="#inf3" y="317.72"/>
<rect x="132.00" y="326.78" width="359.70" height="9.11" fill="#142a5c" />
<text x="162.4" y="332.68" textLength="21.4" font-family="Liberation Serif, serif" font-size="4" font-weight="bold" fill="#eef2ff" text-anchor="middle" lengthAdjust="spacingAndGlyphs">17854082735</text>
<text x="217.6" y="332.68" textLength="35" font-family="Liberation Serif, serif" font-size="4" font-weight="bold" fill="#eef2ff" text-anchor="middle" lengthAdjust="spacingAndGlyphs">2023-04-19 13:10:38</text>
<text x="263.6" y="332.68" textLength="25.4" font-family="Liberation Serif, serif" font-size="4" font-weight="bold" fill="#eef2ff" text-anchor="middle" lengthAdjust="spacingAndGlyphs">218.201.194.226</text>
<use href="#recB" y="326.78"/>
<use href="#inf2" y="326.78"/>
<rect x="132.00" y="335.84" width="359.70" height="9.11" fill="#183e6f" />
<text x="162.4" y="341.74" textLength="21.4" font-family="Liberation Serif, serif" font-size="4" font-weight="bold" fill="#eef2ff" text-anchor="middle" lengthAdjust="spacingAndGlyphs">17854082735</text>
<text x="217.6" y="341.74" textLength="35" font-family="Liberation Serif, serif" font-size="4" font-weight="bold" fill="#eef2ff" text-anchor="middle" lengthAdjust="spacingAndGlyphs">2023-04-19 13:10:03</text>
<text x="263.6" y="341.74" textLength="25.4" font-family="Liberation Serif, serif" font-size="4" font-weight="bold" fill="#eef2ff" text-anchor="middle" lengthAdjust="spacingAndGlyphs">218.201.194.226</text>
<use href="#recC" y="335.84"/>
<use href="#inf1" y="335.84"/>
<rect x="132.00" y="344.90" width="359.70" height="9.11" fill="#142a5c" />
<text x="162.4" y="350.80" textLength="21.4" font-family="Liberation Serif, serif" font-size="4" font-weight="bold" fill="#eef2ff" text-anchor="middle" lengthAdjust="spacingAndGlyphs">13316552842</text>
<text x="217.6" y="350.80" textLength="35" font-family="Liberation Serif, serif" font-size="4" font-weight="bold" fill="#eef2ff" text-anchor="middle" lengthAdjust="spacingAndGlyphs">2023-04-19 13:08:28</text>
<text x="263.6" y="350.80" textLength="25.4" font-family="Liberation Serif, serif" font-size="4" font-weight="bold" fill="#eef2ff" text-anchor="middle" lengthAdjust="spacingAndGlyphs">116.30.255.125</text>
<use href="#recA" y="344.90"/>
<rect x="132.00" y="353.96" width="359.70" height="9.11" fill="#183e6f" />
<text x="162.4" y="359.86" textLength="21.4" font-family="Liberation Serif, serif" font-size="4" font-weight="bold" fill="#eef2ff" text-anchor="middle" lengthAdjust="spacingAndGlyphs">17854082735</text>
<text x="217.6" y="359.86" textLength="35" font-family="Liberation Serif, serif" font-size="4" font-weight="bold" fill="#eef2ff" text-anchor="middle" lengthAdjust="spacingAndGlyphs">2023-04-19 10:56:28</text>
<text x="263.6" y="359.86" textLength="25.4" font-family="Liberation Serif, serif" font-size="4" font-weight="bold" fill="#eef2ff" text-anchor="middle" lengthAdjust="spacingAndGlyphs">218.201.194.226</text>
<use href="#recB" y="353.96"/>
<use href="#inf3" y="353.96"/>
<rect x="132.00" y="363.02" width="359.70" height="9.11" fill="#142a5c" />
<text x="162.4" y="368.92" textLength="21.4" font-family="Liberation Serif, serif" font-size="4" font-weight="bold" fill="#eef2ff" text-anchor="middle" lengthAdjust="spacingAndGlyphs">17854082735</text>
<text x="217.6" y="368.92" textLength="35" font-family="Liberation Serif, serif" font-size="4" font-weight="bold" fill="#eef2ff" text-anchor="middle" lengthAdjust="spacingAndGlyphs">2023-04-19 10:56:06</text>
<text x="263.6" y="368.92" textLength="25.4" font-family="Liberation Serif, serif" font-size="4" font-weight="bold" fill="#eef2ff" text-anchor="middle" lengthAdjust="spacingAndGlyphs">218.201.194.226</text>
<use href="#recB" y="363.02"/>
<use href="#inf2" y="363.02"/>
<rect x="132.00" y="372.08" width="359.70" height="9.11" fill="#183e6f" />
<text x="162.4" y="377.98" textLength="21.4" font-family="Liberation Serif, serif" font-size="4" font-weight="bold" fill="#eef2ff" text-anchor="middle" lengthAdjust="spacingAndGlyphs">17854082735</text>
<text x="217.6" y="377.98" textLength="35" font-family="Liberation Serif, serif" font-size="4" font-weight="bold" fill="#eef2ff" text-anchor="middle" lengthAdjust="spacingAndGlyphs">2023-04-19 10:55:40</text>
<text x="263.6" y="377.98" textLength="25.4" font-family="Liberation Serif, serif" font-size="4" font-weight="bold" fill="#eef2ff" text-anchor="middle" lengthAdjust="spacingAndGlyphs">218.201.194.226</text>
<use href="#recC" y="372.08"/>
<use href="#inf1" y="372.08"/>
<rect x="132.00" y="381.14" width="359.70" height="9.11" fill="#142a5c" />
<text x="162.4" y="387.04" textLength="21.4" font-family="Liberation Serif, serif" font-size="4" font-weight="bold" fill="#eef2ff" text-anchor="middle" lengthAdjust="spacingAndGlyphs">17854082735</text>
<text x="217.6" y="387.04" textLength="35" font-family="Liberation Serif, serif" font-size="4" font-weight="bold" fill="#eef2ff" text-anchor="middle" lengthAdjust="spacingAndGlyphs">2023-04-19 10:41:35</text>
<text x="263.6" y="387.04" textLength="25.4" font-family="Liberation Serif, serif" font-size="4" font-weight="bold" fill="#eef2ff" text-anchor="middle" lengthAdjust="spacingAndGlyphs">218.201.194.226</text>
<use href="#recB" y="381.14"/>
<use href="#inf3" y="381.14"/>
<rect x="132.00" y="390.20" width="359.70" height="9.11" fill="#183e6f" />
<text x="162.4" y="396.10" textLength="21.4" font-family="Liberation Serif, serif" font-size="4" font-weight="bold" fill="#eef2ff" text-anchor="middle" lengthAdjust="spacingAndGlyphs">17854082735</text>
<text x="217.6" y="396.10" textLength="35" font-family="Liberation Serif, serif" font-size="4" font-weight="bold" fill="#eef2ff" text-anchor="middle" lengthAdjust="spacingAndGlyphs">2023-04-19 10:40:49</text>
<text x="263.6" y="396.10" textLength="25.4" font-family="Liberation Serif, serif" font-size="4" font-weight="bold" fill="#eef2ff" text-anchor="middle" lengthAdjust="spacingAndGlyphs">218.201.194.226</text>
<use href="#recB" y="390.20"/>
<use href="#inf2" y="390.20"/>
<rect x="132.00" y="399.26" width="359.70" height="9.11" fill="#142a5c" />
<text x="162.4" y="405.16" textLength="21.4" font-family="Liberation Serif, serif" font-size="4" font-weight="bold" fill="#eef2ff" text-anchor="middle" lengthAdjust="spacingAndGlyphs">17854082735</text>
<text x="217.6" y="405.16" textLength="35" font-family="Liberation Serif, serif" font-size="4" font-weight="bold" fill="#eef2ff" text-anchor="middle" lengthAdjust="spacingAndGlyphs">2023-04-19 10:40:27</text>
<text x="263.6" y="405.16" textLength="25.4" font-family="Liberation Serif, serif" font-size="4" font-weight="bold" fill="#eef2ff" text-anchor="middle" lengthAdjust="spacingAndGlyphs">218.201.194.226</text>
<use href="#recC" y="399.26"/>
<use href="#inf1" y="399.26"/>
<rect x="132.00" y="408.32" width="359.70" height="9.11" fill="#183e6f" />
<text x="162.4" y="414.22" textLength="21.4" font-family="Liberation Serif, serif" font-size="4" font-weight="bold" fill="#eef2ff" text-anchor="middle" lengthAdjust="spacingAndGlyphs">19875866436</text>
<text x="217.6" y="414.22" textLength="35" font-family="Liberation Serif, serif" font-size="4" font-weight="bold" fill="#eef2ff" text-anchor="middle" lengthAdjust="spacingAndGlyphs">2023-04-19 10:16:36</text>
<text x="263.6" y="414.22" textLength="21" font-family="Liberation Serif, serif" font-size="4" font-weight="bold" fill="#eef2ff" text-anchor="middle" lengthAdjust="spacingAndGlyphs">14.41.246.80</text>
<use href="#recD" y="408.32"/>
<text x="264.70" y="430.60" font-size="4.20" fill="#fff" text-anchor="middle" font-weight="bold" font-family="Liberation Sans, sans-serif" >‹</text>
<rect x="269.00" y="426.70" width="7.80" height="5.40" fill="#2a86d8" rx="0.50" />
<text x="272.90" y="430.55" font-size="3.20" fill="#fff" text-anchor="middle" font-weight="bold" font-family="Liberation Sans, sans-serif" >1</text>
<text x="281.00" y="430.55" font-size="3.20" fill="#fff" text-anchor="middle" font-weight="bold" font-family="Liberation Sans, sans-serif" >2</text>
<text x="288.60" y="430.55" font-size="3.20" fill="#fff" text-anchor="middle" font-weight="bold" font-family="Liberation Sans, sans-serif" >3</text>
<text x="296.20" y="430.55" font-size="3.20" fill="#fff" text-anchor="middle" font-weight="bold" font-family="Liberation Sans, sans-serif" >4</text>
<text x="303.80" y="430.55" font-size="3.20" fill="#fff" text-anchor="middle" font-weight="bold" font-family="Liberation Sans, sans-serif" >5</text>
<text x="311.40" y="430.55" font-size="3.20" fill="#fff" text-anchor="middle" font-weight="bold" font-family="Liberation Sans, sans-serif" >6</text>
<text x="318.60" y="430.00" font-size="3.20" fill="#fff" text-anchor="middle" font-weight="bold" font-family="Liberation Sans, sans-serif" >···</text>
<text x="325.60" y="430.55" font-size="3.20" fill="#fff" text-anchor="middle" font-weight="bold" font-family="Liberation Sans, sans-serif" >268</text>
<text x="334.00" y="430.60" font-size="4.20" fill="#fff" text-anchor="middle" font-weight="bold" font-family="Liberation Sans, sans-serif" >›</text>
<text x="342.20" y="430.50" font-size="2.9" fill="#fff" font-weight="bold">前往</text>
<rect x="349.20" y="427.00" width="8.60" height="4.80" fill="#0c1538" rx="0.60" stroke="#aab3c9" stroke-width="0.45"/>
<text x="353.50" y="430.50" font-size="3.00" fill="#fff" text-anchor="middle" font-weight="bold" font-family="Liberation Sans, sans-serif" >1</text>
<text x="359.40" y="430.50" font-size="2.9" fill="#fff" font-weight="bold">页</text>
<rect x="496.40" y="241.90" width="407.60" height="0.80" fill="#85878f" />
<rect x="496.40" y="242.60" width="407.60" height="13.80" fill="#0e1a40" />
<rect x="496.40" y="256.40" width="407.60" height="183.30" fill="#0c102f" />
<rect x="496.40" y="256.40" width="39.30" height="183.30" fill="#0e1a42" />
<text x="504.00" y="251.50" font-size="5.6" fill="#fff" font-weight="bold" letter-spacing="0.18">智能安防预警平台</text>
<path d="M843.20 246.60h2l0.7 0.8h2.6v1h-5.3z M843.20 248.80h6.2l-0.6 3.8h-5.6z" fill="#fff" />
<rect x="845.60" y="250.00" width="1.60" height="1.40" fill="#0e1a40" />
<rect x="855.50" y="247.10" width="6.60" height="5.00" fill="#fff" rx="0.50" />
<path d="M855.50 247.60l3.3 2.2 3.3 -2.2" fill="none" stroke="#0e1a40" stroke-width="0.6"/>
<text x="866.80" y="251.10" font-size="4.20" fill="#fff" text-anchor="start" font-weight="bold" font-family="Liberation Serif, sans-serif" textLength="23.2" lengthAdjust="spacingAndGlyphs">13316552842</text>
<circle cx="896.60" cy="249.60" r="4.30" fill="#103f88" />
<circle cx="896.60" cy="248.30" r="1.70" fill="#2aa9f6" />
<path d="M893.50 252.20q0 -2.6 3.1 -2.6q3.1 0 3.1 2.6q-3.1 2 -6.2 0z" fill="#2aa9f6" />
<rect x="503.80" y="261.30" width="6.60" height="5.00" fill="#fff" rx="1.00" />
<rect x="507.00" y="263.60" width="2.20" height="1.20" fill="#0e1a42" />
<text x="513.90" y="265.45" font-size="3.5" fill="#fff" font-weight="bold">监控平台</text>
<circle cx="507.30" cy="276.73" r="1.60" fill="#fff" />
<path d="M503.60 281.33q3.4 -3.6 6.8 0z" fill="#fff" />
<path d="M503.40 278.93l2 -1.8 0 2.6z" fill="#fff" />
<text x="513.90" y="279.78" font-size="3.5" fill="#fff" font-weight="bold">账号管理</text>
<rect x="504.60" y="292.06" width="5.20" height="4.00" fill="#fff" rx="0.80" />
<path d="M505.70 292.26v-1.2a1.5 1.5 0 0 1 3 0v1.2" fill="none" stroke="#fff" stroke-width="0.9"/>
<rect x="506.80" y="293.26" width="0.90" height="1.60" fill="#0e1a42" />
<text x="513.90" y="294.11" font-size="3.5" fill="#fff" font-weight="bold">权限管理</text>
<path d="M504.60 303.79h3.2l2 2v4.6h-5.2z" fill="#fff" />
<rect x="505.80" y="307.19" width="2.60" height="2.00" fill="#0e1a42" rx="0.30" />
<text x="513.90" y="308.44" font-size="3.5" fill="#fff" font-weight="bold">单位管理</text>
<rect x="496.40" y="314.32" width="39.30" height="14.00" fill="url(#actg)" />
<rect x="503.80" y="318.52" width="6.60" height="4.60" fill="#fff" rx="0.80" />
<path d="M506.00 322.92l1.2 1.4 1.2-1.4z" fill="#fff" />
<rect x="506.00" y="319.92" width="2.40" height="1.00" fill="#0e1a42" />
<text x="513.90" y="322.77" font-size="3.5" fill="#fff" font-weight="bold">设备管理</text>
<path d="M504.80 336.25q0 -3.6 2.4 -3.6q2.4 0 2.4 3.6l0.8 1.4h-6.4z" fill="#fff" />
<rect x="506.40" y="338.05" width="1.60" height="0.90" fill="#fff" rx="0.40" />
<text x="513.90" y="337.10" font-size="3.5" fill="#fff" font-weight="bold">告警管理</text>
<rect x="504.60" y="347.18" width="5.20" height="6.20" fill="#fff" rx="0.90" />
<rect x="505.80" y="349.18" width="2.80" height="2.60" fill="#0e1a42" rx="0.30" />
<rect x="506.00" y="346.48" width="2.40" height="1.20" fill="#fff" rx="0.40" />
<text x="513.90" y="351.43" font-size="3.5" fill="#fff" font-weight="bold">日志管理</text>
<rect x="504.60" y="361.31" width="5.20" height="6.20" fill="#fff" rx="0.90" />
<path d="M506.40 363.11v2.6l2.2 -1.3z" fill="#0e1a42" />
<text x="513.90" y="365.76" font-size="3.5" fill="#fff" font-weight="bold">帮助文档</text>
<circle cx="507.20" cy="378.74" r="3.10" fill="#fff" />
<circle cx="507.20" cy="378.74" r="1.00" fill="#0e1a42" />
<text x="513.90" y="380.09" font-size="3.5" fill="#fff" font-weight="bold">问题反馈</text>
<rect x="503.80" y="390.57" width="6.80" height="5.00" fill="#fff" rx="0.70" />
<rect x="506.20" y="392.37" width="2.00" height="1.40" fill="#0e1a42" />
<text x="513.90" y="394.42" font-size="3.5" fill="#fff" font-weight="bold">角色管理</text>
<rect x="504.60" y="404.30" width="5.20" height="6.20" fill="#fff" rx="0.70" />
<rect x="505.80" y="405.70" width="2.80" height="0.90" fill="#0e1a42" />
<rect x="505.80" y="407.70" width="2.80" height="1.40" fill="#0e1a42" />
<text x="513.90" y="408.75" font-size="3.5" fill="#fff" font-weight="bold">分析报告</text>
<polygon points="510.06,423.38 507.20,425.03 504.34,423.38 504.34,420.08 507.20,418.43 510.06,420.08" fill="#fff" />
<circle cx="507.20" cy="421.73" r="1.10" fill="#0e1a42" />
<text x="513.90" y="423.08" font-size="3.5" fill="#fff" font-weight="bold">系统设置</text>
<rect x="539.60" y="260.80" width="20.00" height="8.00" fill="#2a86d8" rx="1.40" />
<text x="542.60" y="266.10" font-size="3.5" fill="#fff" font-weight="bold">设备管理</text>
<rect x="841.30" y="260.60" width="27.50" height="8.20" fill="#2a7fd0" rx="4.10" stroke="#0a1a3a" stroke-width="0.5"/>
<text x="849.35" y="266.10" font-size="3.95" fill="#fff" font-weight="bold">组织架构</text>
<circle cx="846.30" cy="264.70" r="1.50" fill="none" stroke="#fff" stroke-width="0.45"/>
<rect x="872.80" y="260.60" width="27.40" height="8.20" fill="#2a7fd0" rx="4.10" stroke="#0a1a3a" stroke-width="0.5"/>
<text x="880.80" y="266.10" font-size="3.95" fill="#fff" font-weight="bold">售后设备</text>
<circle cx="877.80" cy="264.70" r="1.50" fill="none" stroke="#fff" stroke-width="0.45"/>
<rect x="540.00" y="273.20" width="177.30" height="79.00" fill="#0e1c45" rx="3.50" />
<rect x="722.00" y="273.20" width="178.30" height="79.00" fill="#0e1c45" rx="3.50" />
<rect x="540.00" y="358.40" width="177.30" height="79.10" fill="#0e1c45" rx="3.50" />
<rect x="722.00" y="358.40" width="178.30" height="79.10" fill="#0e1c45" rx="3.50" />
<rect x="615.00" y="278.60" width="1.70" height="5.60" fill="#29c5f0" />
<text x="619.20" y="283.70" font-size="5.4" fill="#fff" font-weight="bold" letter-spacing="0.35">设备总数</text>
<rect x="797.00" y="278.60" width="1.70" height="5.60" fill="#29c5f0" />
<text x="801.20" y="283.70" font-size="5.4" fill="#fff" font-weight="bold" letter-spacing="0.35">设备状态</text>
<rect x="548.00" y="300.00" width="23.20" height="35.00" fill="#3a8ee6" rx="2.00" />
<text x="559.60" y="328.00" font-size="28.50" fill="#fff" text-anchor="middle" font-weight="bold" font-family="Liberation Sans, sans-serif" >0</text>
<rect x="575.78" y="300.00" width="23.20" height="35.00" fill="#3a8ee6" rx="2.00" />
<text x="587.38" y="328.00" font-size="28.50" fill="#fff" text-anchor="middle" font-weight="bold" font-family="Liberation Sans, sans-serif" >0</text>
<rect x="603.56" y="300.00" width="23.20" height="35.00" fill="#3a8ee6" rx="2.00" />
<text x="615.16" y="328.00" font-size="28.50" fill="#fff" text-anchor="middle" font-weight="bold" font-family="Liberation Sans, sans-serif" >0</text>
<rect x="631.34" y="300.00" width="23.20" height="35.00" fill="#3a8ee6" rx="2.00" />
<text x="642.94" y="328.00" font-size="28.50" fill="#fff" text-anchor="middle" font-weight="bold" font-family="Liberation Sans, sans-serif" >0</text>
<rect x="659.12" y="300.00" width="23.20" height="35.00" fill="#3a8ee6" rx="2.00" />
<text x="670.72" y="328.00" font-size="28.50" fill="#fff" text-anchor="middle" font-weight="bold" font-family="Liberation Sans, sans-serif" >4</text>
<rect x="686.90" y="300.00" width="23.20" height="35.00" fill="#3a8ee6" rx="2.00" />
<text x="698.50" y="328.00" font-size="28.50" fill="#fff" text-anchor="middle" font-weight="bold" font-family="Liberation Sans, sans-serif" >7</text>
<path d="M780.80 317.60L780.80 291.30A26.30 26.30 0 0 1 806.73 321.99Z" fill="#52a79a" />
<path d="M780.80 317.60L806.73 321.99A26.30 26.30 0 0 1 786.04 343.37Z" fill="#f25c54" />
<path d="M780.80 317.60L786.04 343.37A26.30 26.30 0 1 1 780.80 291.30Z" fill="#45b3dc" />
<path d="M764.8 287.6h8.0" stroke="#e8751a" stroke-width="1.9" stroke-dasharray="1.0 0.6 1.2 0.5 1.2 0.6 1.3 0.5" opacity="0.75"/>
<circle cx="775.60" cy="287.80" r="0.80" fill="#e8751a" />
<path d="M776.5 287.8h2l1.6 2.6" fill="none" stroke="#e8751a" stroke-width="0.35"/>
<path d="M801.5 299.5l1.5 -1.6h2.2" fill="none" stroke="#52a79a" stroke-width="0.35"/>
<circle cx="806.40" cy="297.90" r="0.80" fill="#7fe0c0" />
<path d="M809.0 297.8h15.5" stroke="#52a79a" stroke-width="1.9" stroke-dasharray="1.3 0.5 1.2 0.4 1.6 0.4 1.6 0.6" opacity="0.75"/>
<path d="M730.4 320.1h16.0" stroke="#45b3dc" stroke-width="1.9" stroke-dasharray="1.4 0.4 1.2 0.6 1.4 0.5 1.1 0.5" opacity="0.75"/>
<circle cx="749.00" cy="320.20" r="0.80" fill="#6fd0f0" />
<path d="M750 320.2h3.5" fill="none" stroke="#45b3dc" stroke-width="0.35"/>
<path d="M799 336.5l1.8 1.8h3" fill="none" stroke="#f25c54" stroke-width="0.35"/>
<circle cx="805.00" cy="338.30" r="0.80" fill="#f25c54" />
<path d="M807.5 338.1h15.5" stroke="#f25c54" stroke-width="1.9" stroke-dasharray="1.1 0.5 1.6 0.6 1.4 0.4 1.4 0.6" opacity="0.75"/>
<path d="M786 343.6q3 3.2 8 3.2" fill="none" stroke="#e0a83a" stroke-width="0.35"/>
<circle cx="794.80" cy="346.80" r="0.80" fill="#e0a83a" />
<path d="M797.0 346.6h10.0" stroke="#e0a83a" stroke-width="1.9" stroke-dasharray="1.1 0.6 1.2 0.5 0.9 0.6 1.6 0.6" opacity="0.75"/>
<circle cx="859.70" cy="286.90" r="4.00" fill="#5db09c" />
<text x="865.60" y="288.00" font-size="2.9" fill="#5db09c" font-weight="bold">在线</text>
<text x="875.40" y="288.70" font-size="5.30" fill="#5db09c" text-anchor="start" font-weight="normal" font-family="Liberation Serif, sans-serif" >13</text>
<circle cx="859.70" cy="300.10" r="4.00" fill="#f25c54" />
<text x="865.60" y="301.20" font-size="2.9" fill="#f25c54" font-weight="bold">告警</text>
<text x="875.40" y="301.90" font-size="5.30" fill="#f25c54" text-anchor="start" font-weight="normal" font-family="Liberation Serif, sans-serif" >5</text>
<circle cx="859.70" cy="313.30" r="4.00" fill="#f5b942" />
<text x="865.60" y="314.40" font-size="2.9" fill="#f5b942" font-weight="bold">故障</text>
<text x="875.40" y="315.10" font-size="5.30" fill="#f5b942" text-anchor="start" font-weight="normal" font-family="Liberation Serif, sans-serif" >0</text>
<circle cx="859.70" cy="326.50" r="4.00" fill="#45b3dc" />
<text x="865.60" y="327.60" font-size="2.9" fill="#45b3dc" font-weight="bold">离线</text>
<text x="875.40" y="328.30" font-size="5.30" fill="#45b3dc" text-anchor="start" font-weight="normal" font-family="Liberation Serif, sans-serif" >25</text>
<circle cx="859.70" cy="339.70" r="4.00" fill="#e8751a" />
<text x="865.60" y="340.80" font-size="2.9" fill="#e8751a" font-weight="bold">其他</text>
<text x="875.40" y="341.50" font-size="5.30" fill="#e8751a" text-anchor="start" font-weight="normal" font-family="Liberation Serif, sans-serif" >0</text>
<line x1="878.00" y1="372.00" x2="882.00" y2="372.00" stroke="#25335c" stroke-width="0.50" />
<line x1="878.00" y1="380.00" x2="882.00" y2="380.00" stroke="#25335c" stroke-width="0.50" />
<line x1="878.00" y1="388.00" x2="882.00" y2="388.00" stroke="#25335c" stroke-width="0.50" />
<line x1="878.00" y1="396.00" x2="882.00" y2="396.00" stroke="#25335c" stroke-width="0.50" />
<line x1="878.00" y1="404.00" x2="882.00" y2="404.00" stroke="#25335c" stroke-width="0.50" />
<line x1="878.00" y1="412.00" x2="882.00" y2="412.00" stroke="#25335c" stroke-width="0.50" />
<line x1="878.00" y1="420.00" x2="882.00" y2="420.00" stroke="#25335c" stroke-width="0.50" />
<line x1="878.00" y1="428.00" x2="882.00" y2="428.00" stroke="#25335c" stroke-width="0.50" />
<rect x="879.60" y="366.60" width="3.40" height="1.40" fill="#29c5f0" />
<text x="889.00" y="432.60" font-size="3.20" fill="#fff" text-anchor="start" font-weight="normal" font-family="Liberation Sans, sans-serif" >/</text>
<text x="890.40" y="432.80" font-size="2.9" fill="#fff" font-weight="bold">单位</text>
<g filter="url(#blur4)"><rect x="541" y="353" width="342" height="218" fill="#000" opacity="0.55"/></g>
<g clip-path="url(#cp1)">
<rect x="544.80" y="353.00" width="80.00" height="215.80" fill="#f7f7f7" />
<path d="M544.80 353.00h80v118h-66a14 14 0 0 1 -14 -14z" fill="#fd5c4f" />
<path d="M555.60 360.70l-3.6 3.6 3.6 3.6" fill="none" stroke="#fff" stroke-width="1.35" stroke-linecap="round" stroke-linejoin="round"/>
<text x="592.80" y="366.20" font-size="6.1" fill="#fff" font-weight="bold">设备详情</text>
<rect x="569.00" y="384.00" width="40.00" height="52.00" fill="#c5d3cf" rx="1.00" />
<rect x="568.00" y="380.00" width="42.00" height="7.00" fill="#d9e2df" rx="1.00" />
<rect x="568.00" y="432.00" width="42.00" height="7.00" fill="#d3dcd9" rx="1.00" />
<circle cx="572.50" cy="383.40" r="2.10" fill="#e35a48" />
<circle cx="572.50" cy="383.40" r="0.90" fill="#f3d9d3" />
<circle cx="572.50" cy="435.40" r="2.10" fill="#e35a48" />
<circle cx="572.50" cy="435.40" r="0.90" fill="#f3d9d3" />
<rect x="569.40" y="429.50" width="6.00" height="3.20" fill="#2d3a3c" rx="0.40" />
<circle cx="580.20" cy="383.40" r="2.10" fill="#e35a48" />
<circle cx="580.20" cy="383.40" r="0.90" fill="#f3d9d3" />
<circle cx="580.20" cy="435.40" r="2.10" fill="#e35a48" />
<circle cx="580.20" cy="435.40" r="0.90" fill="#f3d9d3" />
<rect x="577.10" y="429.50" width="6.00" height="3.20" fill="#2d3a3c" rx="0.40" />
<circle cx="587.90" cy="383.40" r="2.10" fill="#e35a48" />
<circle cx="587.90" cy="383.40" r="0.90" fill="#f3d9d3" />
<circle cx="587.90" cy="435.40" r="2.10" fill="#e35a48" />
<circle cx="587.90" cy="435.40" r="0.90" fill="#f3d9d3" />
<rect x="584.80" y="429.50" width="6.00" height="3.20" fill="#2d3a3c" rx="0.40" />
<circle cx="595.60" cy="383.40" r="2.10" fill="#e35a48" />
<circle cx="595.60" cy="383.40" r="0.90" fill="#f3d9d3" />
<circle cx="595.60" cy="435.40" r="2.10" fill="#e35a48" />
<circle cx="595.60" cy="435.40" r="0.90" fill="#f3d9d3" />
<rect x="592.50" y="429.50" width="6.00" height="3.20" fill="#2d3a3c" rx="0.40" />
<rect x="568.60" y="404.00" width="1.90" height="23.00" fill="#3d7fd6" rx="0.40" />
<rect x="585.50" y="391.00" width="24.00" height="39.00" fill="#dfe7e3" rx="0.80" />
<rect x="588.80" y="394.00" width="8.00" height="2.60" fill="#e9a79b" rx="0.30" />
<rect x="571.60" y="395.60" width="4.60" height="1.40" fill="#d9786c" />
<circle cx="579.80" cy="417.40" r="1.30" fill="#9fb0ad" />
<rect x="589.50" y="413.00" width="2.60" height="2.60" fill="#b9b45a" rx="0.30" />
<rect x="592.80" y="413.00" width="2.60" height="2.60" fill="#2d3a3c" rx="0.30" />
<rect x="596.10" y="413.00" width="2.60" height="2.60" fill="#b9b45a" rx="0.30" />
<rect x="592.80" y="409.60" width="2.60" height="2.60" fill="#b9b45a" rx="0.30" />
<rect x="592.80" y="416.40" width="2.60" height="2.60" fill="#2d3a3c" rx="0.30" />
<rect x="596.60" y="410.40" width="2.60" height="2.60" fill="#8d9a3a" rx="0.30" />
<rect x="587.40" y="420.20" width="4.60" height="5.80" fill="#39454a" rx="0.30" />
<rect x="594.50" y="420.60" width="3.40" height="5.00" fill="#39454a" rx="0.30" />
<rect x="588.00" y="399.00" width="9.00" height="0.70" fill="#b8c6c2" />
<rect x="588.00" y="401.10" width="9.00" height="0.70" fill="#b8c6c2" />
<rect x="588.00" y="403.20" width="9.00" height="0.70" fill="#b8c6c2" />
<rect x="588.00" y="405.30" width="9.00" height="0.70" fill="#b8c6c2" />
<rect x="588.00" y="407.40" width="9.00" height="0.70" fill="#b8c6c2" />
<text x="557.30" y="450.90" font-size="10.6" fill="#3a1410" opacity="0.75" font-weight="bold" textLength="53.48" lengthAdjust="spacingAndGlyphs">4G三相断路器</text>
<text x="556.80" y="450.30" font-size="10.6" fill="#fff" font-weight="bold" textLength="53.48" lengthAdjust="spacingAndGlyphs">4G三相断路器</text>
<rect x="551.50" y="454.80" width="80.00" height="34.40" fill="#fff" rx="3.20" stroke="#ececec" stroke-width="0.4"/>
<text x="557.00" y="461.70" font-size="3.85" fill="#777" text-anchor="start" font-weight="normal" font-family="Liberation Sans, sans-serif" textLength="39" lengthAdjust="spacingAndGlyphs">2023-04-19 15:47:57</text>
<line x1="552.80" y1="466.00" x2="634.80" y2="466.00" stroke="#ececec" stroke-width="0.50" />
<path d="M557.40 475.30l-1.2 1.3 1.2 1.3" fill="none" stroke="#bbb" stroke-width="0.4"/>
<text x="561.49" y="473.80" font-size="3.5" fill="#555">A相电压</text>
<text x="584.20" y="473.80" font-size="3.5" fill="#555">B相电压</text>
<text x="567.80" y="482.20" font-size="3.70" fill="#888" text-anchor="middle" font-weight="normal" font-family="Liberation Sans, sans-serif" >236.0V</text>
<text x="590.60" y="482.20" font-size="3.70" fill="#888" text-anchor="middle" font-weight="normal" font-family="Liberation Sans, sans-serif" >236.2V</text>
<rect x="551.50" y="498.00" width="80.00" height="80.00" fill="#fff" rx="4.00" stroke="#e9e9e9" stroke-width="0.5"/>
<rect x="564.00" y="504.00" width="24.80" height="22.40" fill="#40b3c0" rx="1.80" />
<rect x="572.20" y="508.40" width="8.4" height="8.8" rx="1.5" stroke="#e8fbfd" stroke-width="0.55" fill="none"/>
<rect x="574.20" y="510.30" width="4.4" height="5" rx="0.5" stroke="#e8fbfd" stroke-width="0.55" fill="none"/>
<line x1="575.00" y1="512.00" x2="577.80" y2="512.00" stroke="#e8fbfd" stroke-width="0.40" />
<line x1="575.00" y1="513.60" x2="577.80" y2="513.60" stroke="#e8fbfd" stroke-width="0.40" />
<text x="570.00" y="523.40" font-size="3.2" fill="#f2feff" font-weight="500">详细信息</text>
<rect x="592.80" y="504.00" width="24.80" height="22.40" fill="#40b3c0" rx="1.80" />
<path d="M601.30 515.00q0 -6.4 3.9 -6.4q3.9 0 3.9 6.4l1.2 1.6h-10.2z" stroke="#e8fbfd" stroke-width="0.55" fill="none"/>
<path d="M603.80 517.20q1.4 1.6 2.8 0" stroke="#e8fbfd" stroke-width="0.55" fill="none"/>
<text x="598.80" y="523.40" font-size="3.2" fill="#f2feff" font-weight="500">运行参数</text>
<rect x="564.00" y="531.20" width="24.80" height="22.40" fill="#40b3c0" rx="1.80" />
<path d="M572.50 542.20q0 -6.4 3.9 -6.4q3.9 0 3.9 6.4l1.2 1.6h-10.2z" stroke="#e8fbfd" stroke-width="0.55" fill="none"/>
<path d="M575.00 544.40q1.4 1.6 2.8 0" stroke="#e8fbfd" stroke-width="0.55" fill="none"/>
<text x="570.00" y="550.60" font-size="3.2" fill="#f2feff" font-weight="500">告警记录</text>
<rect x="592.80" y="531.20" width="24.80" height="22.40" fill="#40b3c0" rx="1.80" />
<circle cx="605.20" cy="541.20" r="4.6" stroke="#e8fbfd" stroke-width="0.55" fill="none"/>
<path d="M605.20 541.20v-2.8M605.20 541.20l2 1.2" stroke="#e8fbfd" stroke-width="0.55" fill="none"/>
<text x="598.80" y="550.60" font-size="3.2" fill="#f2feff" font-weight="500">短信记录</text>
<rect x="564.00" y="558.40" width="24.80" height="22.40" fill="#40b3c0" rx="1.80" />
<circle cx="576.40" cy="568.40" r="4.6" stroke="#e8fbfd" stroke-width="0.55" fill="none"/>
<path d="M576.40 568.40v-2.8M576.40 568.40l2 1.2" stroke="#e8fbfd" stroke-width="0.55" fill="none"/>
<text x="570.00" y="577.80" font-size="3.2" fill="#f2feff" font-weight="500">定时任务</text>
<rect x="592.80" y="558.40" width="24.80" height="22.40" fill="#40b3c0" rx="1.80" />
<rect x="601.00" y="562.80" width="8.4" height="8.8" rx="1.5" stroke="#e8fbfd" stroke-width="0.55" fill="none"/>
<rect x="603.00" y="564.70" width="4.4" height="5" rx="0.5" stroke="#e8fbfd" stroke-width="0.55" fill="none"/>
<line x1="603.80" y1="566.40" x2="606.60" y2="566.40" stroke="#e8fbfd" stroke-width="0.40" />
<line x1="603.80" y1="568.00" x2="606.60" y2="568.00" stroke="#e8fbfd" stroke-width="0.40" />
<text x="598.80" y="577.80" font-size="3.2" fill="#f2feff" font-weight="500">设备配置</text>
</g>
<g clip-path="url(#cp2)">
<rect x="599.70" y="353.00" width="80.00" height="215.80" fill="#f7f7f7" />
<path d="M599.70 353.00h80v118h-66a14 14 0 0 1 -14 -14z" fill="#fd5c4f" />
<path d="M610.50 360.70l-3.6 3.6 3.6 3.6" fill="none" stroke="#fff" stroke-width="1.35" stroke-linecap="round" stroke-linejoin="round"/>
<text x="647.70" y="366.20" font-size="6.1" fill="#fff" font-weight="bold">设备详情</text>
<rect x="626.50" y="377.80" width="30.00" height="57.00" fill="#e7eaeb" rx="0.80" />
<rect x="626.50" y="377.80" width="30.00" height="11.00" fill="#dfe3e5" rx="0.80" />
<circle cx="639.10" cy="382.20" r="2.30" fill="#23282d" />
<circle cx="647.10" cy="382.20" r="2.30" fill="#23282d" />
<rect x="625.70" y="386.80" width="31.00" height="22.00" fill="#d5dadd" />
<rect x="625.70" y="387.40" width="5.00" height="2.20" fill="#e0662a" />
<rect x="626.30" y="391.00" width="8.60" height="3.20" fill="#3b4046" />
<rect x="635.10" y="390.40" width="9.20" height="8.60" fill="#d6352f" rx="0.60" />
<rect x="644.90" y="390.40" width="9.40" height="8.60" fill="#d6352f" rx="0.60" />
<rect x="638.10" y="398.40" width="5.60" height="3.60" fill="#b8282a" />
<rect x="647.50" y="398.40" width="5.60" height="3.60" fill="#b8282a" />
<rect x="626.10" y="396.40" width="8.00" height="7.00" fill="#eef0f1" />
<circle cx="629.10" cy="404.40" r="0.90" fill="#2a6de0" />
<rect x="627.10" y="407.80" width="2.60" height="3.40" fill="#e07a2a" rx="0.30" />
<circle cx="640.50" cy="406.20" r="0.70" fill="#8a2a2a" />
<circle cx="646.10" cy="406.20" r="0.70" fill="#8a2a2a" />
<circle cx="638.90" cy="416.40" r="2.60" fill="#f4f5f6" stroke="#d4d8db" stroke-width="0.4"/>
<circle cx="647.10" cy="416.40" r="2.60" fill="#f4f5f6" stroke="#d4d8db" stroke-width="0.4"/>
<circle cx="638.90" cy="430.80" r="1.90" fill="#23282d" />
<circle cx="647.10" cy="430.80" r="1.90" fill="#23282d" />
<rect x="627.90" y="416.40" width="2.60" height="5.40" fill="#c9ced2" />
<rect x="643.50" y="422.20" width="4.60" height="4.20" fill="#dadfe2" />
<text x="610.10" y="450.90" font-size="10.6" fill="#3a1410" opacity="0.75" font-weight="bold" textLength="59.46" lengthAdjust="spacingAndGlyphs">微断2P(基础版)</text>
<text x="609.60" y="450.30" font-size="10.6" fill="#fff" font-weight="bold" textLength="59.46" lengthAdjust="spacingAndGlyphs">微断2P(基础版)</text>
<rect x="606.40" y="454.80" width="80.00" height="34.40" fill="#fff" rx="3.20" stroke="#ececec" stroke-width="0.4"/>
<text x="611.90" y="461.70" font-size="3.85" fill="#777" text-anchor="start" font-weight="normal" font-family="Liberation Sans, sans-serif" textLength="39" lengthAdjust="spacingAndGlyphs">2023-04-19 15:48:22</text>
<line x1="607.70" y1="466.00" x2="689.70" y2="466.00" stroke="#ececec" stroke-width="0.50" />
<path d="M612.30 475.30l-1.2 1.3 1.2 1.3" fill="none" stroke="#bbb" stroke-width="0.4"/>
<text x="617.90" y="473.80" font-size="3.5" fill="#555">电压</text>
<text x="636.70" y="473.80" font-size="3.5" fill="#555">电流</text>
<text x="621.40" y="482.20" font-size="3.70" fill="#888" text-anchor="middle" font-weight="normal" font-family="Liberation Sans, sans-serif" >232.0V</text>
<text x="640.20" y="482.20" font-size="3.70" fill="#888" text-anchor="middle" font-weight="normal" font-family="Liberation Sans, sans-serif" >0.0A</text>
<rect x="606.40" y="498.00" width="80.00" height="80.00" fill="#fff" rx="4.00" stroke="#e9e9e9" stroke-width="0.5"/>
<rect x="618.70" y="504.00" width="24.80" height="22.40" fill="#40b3c0" rx="1.80" />
<rect x="626.90" y="508.40" width="8.4" height="8.8" rx="1.5" stroke="#e8fbfd" stroke-width="0.55" fill="none"/>
<rect x="628.90" y="510.30" width="4.4" height="5" rx="0.5" stroke="#e8fbfd" stroke-width="0.55" fill="none"/>
<line x1="629.70" y1="512.00" x2="632.50" y2="512.00" stroke="#e8fbfd" stroke-width="0.40" />
<line x1="629.70" y1="513.60" x2="632.50" y2="513.60" stroke="#e8fbfd" stroke-width="0.40" />
<text x="624.70" y="523.40" font-size="3.2" fill="#f2feff" font-weight="500">详细信息</text>
<rect x="648.00" y="504.00" width="24.80" height="22.40" fill="#40b3c0" rx="1.80" />
<path d="M656.50 515.00q0 -6.4 3.9 -6.4q3.9 0 3.9 6.4l1.2 1.6h-10.2z" stroke="#e8fbfd" stroke-width="0.55" fill="none"/>
<path d="M659.00 517.20q1.4 1.6 2.8 0" stroke="#e8fbfd" stroke-width="0.55" fill="none"/>
<text x="654.00" y="523.40" font-size="3.2" fill="#f2feff" font-weight="500">运行参数</text>
<rect x="618.70" y="531.20" width="24.80" height="22.40" fill="#40b3c0" rx="1.80" />
<path d="M627.20 542.20q0 -6.4 3.9 -6.4q3.9 0 3.9 6.4l1.2 1.6h-10.2z" stroke="#e8fbfd" stroke-width="0.55" fill="none"/>
<path d="M629.70 544.40q1.4 1.6 2.8 0" stroke="#e8fbfd" stroke-width="0.55" fill="none"/>
<text x="624.70" y="550.60" font-size="3.2" fill="#f2feff" font-weight="500">告警记录</text>
<rect x="648.00" y="531.20" width="24.80" height="22.40" fill="#40b3c0" rx="1.80" />
<circle cx="660.40" cy="541.20" r="4.6" stroke="#e8fbfd" stroke-width="0.55" fill="none"/>
<path d="M660.40 541.20v-2.8M660.40 541.20l2 1.2" stroke="#e8fbfd" stroke-width="0.55" fill="none"/>
<text x="654.00" y="550.60" font-size="3.2" fill="#f2feff" font-weight="500">短信记录</text>
<rect x="618.70" y="558.40" width="24.80" height="22.40" fill="#40b3c0" rx="1.80" />
<circle cx="631.10" cy="568.40" r="4.6" stroke="#e8fbfd" stroke-width="0.55" fill="none"/>
<path d="M631.10 568.40v-2.8M631.10 568.40l2 1.2" stroke="#e8fbfd" stroke-width="0.55" fill="none"/>
<text x="624.70" y="577.80" font-size="3.2" fill="#f2feff" font-weight="500">定时任务</text>
<rect x="648.00" y="558.40" width="24.80" height="22.40" fill="#40b3c0" rx="1.80" />
<rect x="656.20" y="562.80" width="8.4" height="8.8" rx="1.5" stroke="#e8fbfd" stroke-width="0.55" fill="none"/>
<rect x="658.20" y="564.70" width="4.4" height="5" rx="0.5" stroke="#e8fbfd" stroke-width="0.55" fill="none"/>
<line x1="659.00" y1="566.40" x2="661.80" y2="566.40" stroke="#e8fbfd" stroke-width="0.40" />
<line x1="659.00" y1="568.00" x2="661.80" y2="568.00" stroke="#e8fbfd" stroke-width="0.40" />
<text x="654.00" y="577.80" font-size="3.2" fill="#f2feff" font-weight="500">设备配置</text>
</g>
<g clip-path="url(#cp3)">
<rect x="652.80" y="353.00" width="80.00" height="215.80" fill="#f6f6f6" />
<path d="M652.80 353.00h80v59h-75a5 5 0 0 1 -5 -5z" fill="#fd5c4f" />
<circle cx="681.60" cy="393.80" r="15.40" fill="#fff" fill-opacity="0.07" stroke="#fff" stroke-opacity="0.16" stroke-width="0.4"/>
<circle cx="681.60" cy="393.80" r="13.30" fill="#fff" fill-opacity="0.07" stroke="#fff" stroke-opacity="0.2" stroke-width="0.4"/>
<circle cx="681.60" cy="393.80" r="11.20" fill="#fd665a" stroke="#fff" stroke-opacity="0.4" stroke-width="0.5"/>
<text x="681.60" y="395.70" font-size="8.40" fill="#fff" text-anchor="middle" font-weight="bold" font-family="Liberation Sans, sans-serif" >47</text>
<text x="676.27" y="401.20" font-size="2.9" fill="#fff">总数(台)</text>
<rect x="656.80" y="417.80" width="80.00" height="9.60" fill="#fff" rx="4.80" stroke="#dcdcdc" stroke-width="0.45"/>
<text x="661.40" y="423.80" font-size="3" fill="#999" textLength="35.35" lengthAdjust="spacingAndGlyphs">请输入设备编码/地址/单位</text>
<rect x="656.00" y="433.00" width="60.00" height="34.60" fill="#fff" rx="3.00" stroke="#ebebeb" stroke-width="0.4"/>
<circle cx="676.00" cy="446.80" r="5.60" fill="#fff" stroke="#e4e8ee" stroke-width="0.5"/>
<rect x="673.50" y="443.40" width="5.00" height="6.80" fill="#2f7fe6" rx="0.90" />
<rect x="674.20" y="445.90" width="3.60" height="2.00" fill="#7fb6f4" />
<rect x="674.80" y="446.30" width="0.90" height="1.10" fill="#e0523f" />
<rect x="676.30" y="446.30" width="0.90" height="1.10" fill="#e0523f" />
<text x="665.85" y="458.60" font-size="2.9" fill="#555">导轨智慧用电保</text>
<text x="673.10" y="462.00" font-size="2.9" fill="#555">护器</text>
<text x="690.60" y="443.00" font-size="5.60" fill="#3a3a3a" text-anchor="start" font-weight="normal" font-family="Liberation Serif, sans-serif" >867979</text>
<text x="690.80" y="448.50" font-size="3.4" fill="#666">状态:</text>
<text x="699.40" y="448.50" font-size="3.4" fill="#22b573">正常</text>
<text x="690.80" y="454.50" font-size="3.4" fill="#666">单位:</text>
<text x="699.40" y="454.50" font-size="3.4" fill="#555">无</text>
<text x="690.80" y="460.50" font-size="3.4" fill="#666">地址:</text>
<text x="699.40" y="460.50" font-size="3.4" fill="#555">无</text>
<rect x="656.00" y="470.20" width="60.00" height="30.80" fill="#fff" rx="3.00" stroke="#ebebeb" stroke-width="0.4"/>
<circle cx="676.00" cy="482.40" r="5.60" fill="#fff" stroke="#f0f2f4" stroke-width="0.4"/>
<rect x="673.90" y="478.80" width="4.40" height="7.40" fill="#a9cfd6" rx="0.50" />
<rect x="675.80" y="480.00" width="2.20" height="4.60" fill="#dceaea" />
<rect x="673.90" y="481.40" width="0.50" height="3.00" fill="#3d7fd6" />
<rect x="676.40" y="483.00" width="1.20" height="1.60" fill="#7d9a5a" />
<text x="666.95" y="496.40" font-size="2.9" fill="#555" textLength="18.1" lengthAdjust="spacingAndGlyphs">4G三相断路器</text>
<text x="690.60" y="479.40" font-size="5.60" fill="#3a3a3a" text-anchor="start" font-weight="normal" font-family="Liberation Serif, sans-serif" >867799</text>
<text x="690.80" y="485.10" font-size="3.4" fill="#666">状态:</text>
<text x="699.40" y="485.10" font-size="3.4" fill="#22b573">正常</text>
<text x="690.80" y="491.10" font-size="3.4" fill="#666">单位:</text>
<text x="699.40" y="491.10" font-size="3.4" fill="#555">无</text>
<text x="690.80" y="497.10" font-size="3.4" fill="#666">地址:</text>
<text x="699.40" y="497.10" font-size="3.4" fill="#555">无</text>
<rect x="656.00" y="502.80" width="60.00" height="32.70" fill="#fff" rx="3.00" stroke="#ebebeb" stroke-width="0.4"/>
<circle cx="676.00" cy="515.00" r="5.60" fill="#fff" stroke="#f0f2f4" stroke-width="0.4"/>
<rect x="673.90" y="511.40" width="4.40" height="7.40" fill="#a9cfd6" rx="0.50" />
<rect x="675.80" y="512.60" width="2.20" height="4.60" fill="#dceaea" />
<rect x="673.90" y="514.00" width="0.50" height="3.00" fill="#3d7fd6" />
<rect x="676.40" y="515.60" width="1.20" height="1.60" fill="#7d9a5a" />
<text x="666.95" y="529.00" font-size="2.9" fill="#555" textLength="18.1" lengthAdjust="spacingAndGlyphs">4G三相断路器</text>
<text x="690.60" y="512.00" font-size="5.60" fill="#3a3a3a" text-anchor="start" font-weight="normal" font-family="Liberation Serif, sans-serif" >867978</text>
<text x="690.80" y="517.70" font-size="3.4" fill="#666">状态:</text>
<text x="699.40" y="517.70" font-size="3.4" fill="#22b573">正常</text>
<text x="690.80" y="523.70" font-size="3.4" fill="#666">单位:</text>
<text x="699.40" y="523.70" font-size="3.4" fill="#555">无</text>
<text x="690.80" y="529.70" font-size="3.4" fill="#666">地址:</text>
<text x="699.40" y="529.70" font-size="3.4" fill="#555">无</text>
<rect x="656.00" y="537.10" width="60.00" height="30.80" fill="#fff" rx="3.00" stroke="#ebebeb" stroke-width="0.4"/>
<circle cx="676.00" cy="549.30" r="5.60" fill="#fff" stroke="#f0f2f4" stroke-width="0.4"/>
<rect x="673.90" y="545.70" width="4.40" height="7.40" fill="#a9cfd6" rx="0.50" />
<rect x="675.80" y="546.90" width="2.20" height="4.60" fill="#dceaea" />
<rect x="673.90" y="548.30" width="0.50" height="3.00" fill="#3d7fd6" />
<rect x="676.40" y="549.90" width="1.20" height="1.60" fill="#7d9a5a" />
<text x="666.95" y="563.30" font-size="2.9" fill="#555" textLength="18.1" lengthAdjust="spacingAndGlyphs">4G三相断路器</text>
<text x="690.60" y="546.30" font-size="5.60" fill="#3a3a3a" text-anchor="start" font-weight="normal" font-family="Liberation Serif, sans-serif" >867978</text>
<text x="690.80" y="552.00" font-size="3.4" fill="#666">状态:</text>
<text x="699.40" y="552.00" font-size="3.4" fill="#22b573">正常</text>
<text x="690.80" y="558.00" font-size="3.4" fill="#666">单位:</text>
<text x="699.40" y="558.00" font-size="3.4" fill="#555">无</text>
<text x="690.80" y="564.00" font-size="3.4" fill="#666">地址:</text>
<text x="699.40" y="564.00" font-size="3.4" fill="#555">无</text>
<rect x="652.80" y="551.30" width="80.00" height="18.00" fill="#fff" />
<line x1="652.80" y1="551.30" x2="732.80" y2="551.30" stroke="#e6e6e6" stroke-width="0.50" />
<path d="M660.80 558.4l4 -3.4 4 3.4M662.00 557.8v3.6h5.6v-3.6M664.00 561.4v-1.4a0.8 0.8 0 0 1 1.6 0v1.4" fill="none" stroke="#8a8a8a" stroke-width="0.5"/>
<text x="661.80" y="566.50" font-size="3" fill="#8a8a8a">首页</text>
<rect x="686.00" y="554" width="5.6" height="7.4" rx="0.8" fill="none" stroke="#e9453a" stroke-width="0.55"/>
<line x1="686.00" y1="556.30" x2="691.60" y2="556.30" stroke="#e9453a" stroke-width="0.50" />
<rect x="687.20" y="557.60" width="3.20" height="2.00" fill="none" stroke="#e9453a" stroke-width="0.4"/>
<text x="685.80" y="566.50" font-size="3" fill="#e9453a" font-weight="bold">设备</text>
</g>
<g clip-path="url(#cp4)">
<rect x="706.80" y="353.00" width="80.00" height="215.80" fill="#f3f3f3" />
<rect x="706.80" y="353.00" width="80.00" height="22.40" fill="#fd5c4f" />
<circle cx="721.20" cy="390.60" r="10.40" fill="#cfe3f6" />
<circle cx="721.20" cy="388.00" r="3.90" fill="#3c9af2" />
<path d="M714.60 396.80q0 -5 6.6 -5q6.6 0 6.6 5q-6.6 3 -13.2 0z" fill="#3c9af2" />
<text x="738.40" y="390.00" font-size="5.90" fill="#262626" text-anchor="start" font-weight="normal" font-family="Liberation Serif, sans-serif" >13316552842</text>
<text x="738.40" y="396.00" font-size="4.10" fill="#6a6a6a" text-anchor="start" font-weight="normal" font-family="Liberation Serif, sans-serif" >13316552842</text>
<rect x="710.80" y="409.80" width="80.00" height="62.20" fill="#fff" rx="2.00" />
<rect x="710.80" y="476.40" width="80.00" height="15.80" fill="#fff" rx="2.00" />
<rect x="717.10" y="415.00" width="6.6" height="4.6" rx="1.2" stroke="#58a9ee" stroke-width="0.5" fill="none"/>
<path d="M718.80 419.60l-0.4 1.6 1.8 -1.5" stroke="#58a9ee" stroke-width="0.5" fill="none"/>
<line x1="719.10" y1="417.30" x2="721.70" y2="417.30" stroke="#58a9ee" stroke-width="0.50" />
<text x="727.60" y="419.10" font-size="3.6" fill="#3c3c3c" font-weight="500">消息中心</text>
<line x1="714.80" y1="425.60" x2="790.80" y2="425.60" stroke="#f0f0f0" stroke-width="0.40" />
<polygon points="723.17,434.80 720.40,436.40 717.63,434.80 717.63,431.60 720.40,430.00 723.17,431.60" stroke="#58a9ee" stroke-width="0.5" fill="none"/>
<circle cx="720.40" cy="433.20" r="1.1" stroke="#58a9ee" stroke-width="0.5" fill="none"/>
<text x="727.60" y="434.50" font-size="3.6" fill="#3c3c3c" font-weight="500">修改密码</text>
<line x1="714.80" y1="441.00" x2="790.80" y2="441.00" stroke="#f0f0f0" stroke-width="0.40" />
<circle cx="720.40" cy="448.90" r="3.1" stroke="#58a9ee" stroke-width="0.5" fill="none"/>
<text x="720.40" y="450.30" font-size="4.00" fill="#58a9ee" text-anchor="middle" font-weight="normal" font-family="Liberation Sans, sans-serif" >?</text>
<text x="727.60" y="450.20" font-size="3.6" fill="#3c3c3c" font-weight="500">问题反馈</text>
<line x1="714.80" y1="456.70" x2="790.80" y2="456.70" stroke="#f0f0f0" stroke-width="0.40" />
<path d="M720.00 461.60a3 3 0 1 0 3.4 3.6" stroke="#58a9ee" stroke-width="0.5" fill="none"/>
<circle cx="722.30" cy="462.70" r="1.10" fill="#58a9ee" />
<path d="M718.40 467.80q1.2 1 2.6 0" stroke="#58a9ee" stroke-width="0.5" fill="none"/>
<text x="727.60" y="465.70" font-size="3.6" fill="#3c3c3c" font-weight="500">系统设置</text>
<circle cx="720.00" cy="482.80" r="1.6" stroke="#58a9ee" stroke-width="0.5" fill="none"/>
<path d="M716.80 487.60q0.4 -3.4 3.2 -3.4q1.6 0 2.4 1" stroke="#58a9ee" stroke-width="0.5" fill="none"/>
<line x1="721.40" y1="487.00" x2="723.60" y2="485.60" stroke="#2f7fe6" stroke-width="0.80" />
<text x="727.60" y="485.70" font-size="3.6" fill="#3c3c3c" font-weight="500">切换账号</text>
<rect x="706.80" y="551.30" width="80.00" height="18.00" fill="#fff" />
<line x1="706.80" y1="551.30" x2="786.80" y2="551.30" stroke="#e6e6e6" stroke-width="0.50" />
<path d="M714.80 558.4l4 -3.4 4 3.4M716.00 557.8v3.6h5.6v-3.6M718.00 561.4v-1.4a0.8 0.8 0 0 1 1.6 0v1.4" fill="none" stroke="#8a8a8a" stroke-width="0.5"/>
<text x="715.80" y="566.50" font-size="3" fill="#8a8a8a">首页</text>
<rect x="740.00" y="554" width="5.6" height="7.4" rx="0.8" fill="none" stroke="#9a9a9a" stroke-width="0.55"/>
<line x1="740.00" y1="556.30" x2="745.60" y2="556.30" stroke="#9a9a9a" stroke-width="0.50" />
<rect x="741.20" y="557.60" width="3.20" height="2.00" fill="none" stroke="#9a9a9a" stroke-width="0.4"/>
<text x="739.80" y="566.50" font-size="3" fill="#9a9a9a">设备</text>
</g>
<g clip-path="url(#cp5)">
<rect x="759.90" y="353.00" width="121.00" height="215.80" fill="#f0f0f0" />
<rect x="759.90" y="353.00" width="121.00" height="23.20" fill="#fd5c4f" />
<path d="M770.70 360.70l-3.6 3.6 3.6 3.6" fill="none" stroke="#fff" stroke-width="1.35" stroke-linecap="round" stroke-linejoin="round"/>
<text x="801.60" y="366.40" font-size="6.2" fill="#fff" font-weight="bold">导轨智慧用电</text>
<circle cx="860.80" cy="382.00" r="2.30" fill="#fff" stroke="#777" stroke-width="0.45"/>
<text x="866.40" y="383.50" font-size="3.8" fill="#444">全选</text>
<rect x="762.80" y="386.30" width="34.40" height="41.60" fill="#fff" rx="5.60" stroke="#cdcdcd" stroke-width="0.6"/>
<g clip-path="url(#gc)" transform="translate(762.80 386.30)"><polygon points="0,0 14.8,0 0,14.8" fill="#1fb26c"/><g transform="rotate(-45 4.7 4.9)"><text x="1.70" y="6.00" font-size="3" fill="#fff" font-weight="bold">在线</text></g></g>
<circle cx="780.00" cy="399.40" r="8.30" fill="#fff" stroke="#a9abae" stroke-width="0.75"/>
<rect x="776.50" y="394.60" width="7.00" height="9.60" fill="#2f7be6" rx="1.20" />
<rect x="775.80" y="397.90" width="8.40" height="3.00" fill="#3fc98b" rx="0.30" />
<rect x="778.40" y="398.50" width="4.40" height="1.80" fill="#2f7be6" />
<rect x="776.80" y="398.70" width="1.20" height="1.40" fill="#d8fff0" />
<path d="M777.30 396.10h5.4M777.30 402.70h5.4" fill="none" stroke="#8fbcf6" stroke-width="1" stroke-dasharray="0.9 0.6"/>
<circle cx="792.40" cy="392.20" r="2.10" fill="#fff" stroke="#d4d4d4" stroke-width="0.5"/>
<text x="772.72" y="414.90" font-size="3.85" fill="#1a1a1a" font-weight="bold" textLength="14.56" lengthAdjust="spacingAndGlyphs">50KW电</text>
<text x="769.76" y="423.10" font-size="3.9" fill="#4a4a4a">状态:</text>
<text x="780.80" y="423.10" font-size="4" fill="#1db97b">正常</text>
<rect x="802.80" y="386.30" width="34.40" height="41.60" fill="#fff" rx="5.60" stroke="#cdcdcd" stroke-width="0.6"/>
<g clip-path="url(#gc)" transform="translate(802.80 386.30)"><polygon points="0,0 14.8,0 0,14.8" fill="#1fb26c"/><g transform="rotate(-45 4.7 4.9)"><text x="1.70" y="6.00" font-size="3" fill="#fff" font-weight="bold">在线</text></g></g>
<circle cx="820.00" cy="399.40" r="8.30" fill="#fff" stroke="#a9abae" stroke-width="0.75"/>
<rect x="816.50" y="394.60" width="7.00" height="9.60" fill="#2f7be6" rx="1.20" />
<rect x="815.80" y="397.90" width="8.40" height="3.00" fill="#3fc98b" rx="0.30" />
<rect x="818.40" y="398.50" width="4.40" height="1.80" fill="#2f7be6" />
<rect x="816.80" y="398.70" width="1.20" height="1.40" fill="#d8fff0" />
<path d="M817.30 396.10h5.4M817.30 402.70h5.4" fill="none" stroke="#8fbcf6" stroke-width="1" stroke-dasharray="0.9 0.6"/>
<circle cx="832.40" cy="392.20" r="2.10" fill="#fff" stroke="#d4d4d4" stroke-width="0.5"/>
<text x="813.09" y="414.90" font-size="3.85" fill="#1a1a1a" font-weight="bold">1号电机</text>
<text x="809.76" y="423.10" font-size="3.9" fill="#4a4a4a">状态:</text>
<text x="820.80" y="423.10" font-size="4" fill="#1db97b">正常</text>
<rect x="842.80" y="386.30" width="34.40" height="41.60" fill="#fff" rx="5.60" stroke="#cdcdcd" stroke-width="0.6"/>
<g clip-path="url(#gc)" transform="translate(842.80 386.30)"><polygon points="0,0 14.8,0 0,14.8" fill="#a9a9a9"/><g transform="rotate(-45 4.7 4.9)"><text x="1.70" y="6.00" font-size="3" fill="#fff" font-weight="bold">离线</text></g></g>
<circle cx="860.00" cy="399.40" r="8.30" fill="#fff" stroke="#a9abae" stroke-width="0.75"/>
<rect x="856.50" y="394.60" width="7.00" height="9.60" fill="#3a4f66" rx="1.20" />
<rect x="855.80" y="397.80" width="8.40" height="3.20" fill="#1f2c3a" rx="0.30" />
<rect x="858.00" y="398.60" width="4.00" height="1.60" fill="#c8d2dc" />
<path d="M857.30 396.10h5.4M857.30 402.70h5.4" fill="none" stroke="#6a849c" stroke-width="1" stroke-dasharray="0.9 0.6"/>
<circle cx="872.40" cy="392.20" r="2.10" fill="#fff" stroke="#d4d4d4" stroke-width="0.5"/>
<text x="852.30" y="414.90" font-size="3.85" fill="#1a1a1a" font-weight="bold">二号电机</text>
<text x="849.76" y="423.10" font-size="3.9" fill="#4a4a4a">状态:</text>
<text x="860.80" y="423.10" font-size="4" fill="#9a9a9a">离线</text>
<rect x="762.80" y="432.00" width="34.40" height="41.60" fill="#fff" rx="5.60" stroke="#cdcdcd" stroke-width="0.6"/>
<g clip-path="url(#gc)" transform="translate(762.80 432.00)"><polygon points="0,0 14.8,0 0,14.8" fill="#1fb26c"/><g transform="rotate(-45 4.7 4.9)"><text x="1.70" y="6.00" font-size="3" fill="#fff" font-weight="bold">在线</text></g></g>
<circle cx="780.00" cy="445.10" r="8.30" fill="#fff" stroke="#a9abae" stroke-width="0.75"/>
<rect x="776.50" y="440.30" width="7.00" height="9.60" fill="#2f7be6" rx="1.20" />
<rect x="775.80" y="443.60" width="8.40" height="3.00" fill="#3fc98b" rx="0.30" />
<rect x="778.40" y="444.20" width="4.40" height="1.80" fill="#2f7be6" />
<rect x="776.80" y="444.40" width="1.20" height="1.40" fill="#d8fff0" />
<path d="M777.30 441.80h5.4M777.30 448.40h5.4" fill="none" stroke="#8fbcf6" stroke-width="1" stroke-dasharray="0.9 0.6"/>
<circle cx="792.40" cy="437.90" r="2.10" fill="#fff" stroke="#d4d4d4" stroke-width="0.5"/>
<text x="780.00" y="460.60" font-size="3.90" fill="#1a1a1a" text-anchor="middle" font-weight="bold" font-family="Liberation Sans, sans-serif" >4</text>
<text x="769.76" y="468.80" font-size="3.9" fill="#4a4a4a">状态:</text>
<text x="780.80" y="468.80" font-size="4" fill="#1db97b">正常</text>
<rect x="802.80" y="432.00" width="34.40" height="41.60" fill="#fff" rx="5.60" stroke="#cdcdcd" stroke-width="0.6"/>
<g clip-path="url(#gc)" transform="translate(802.80 432.00)"><polygon points="0,0 14.8,0 0,14.8" fill="#1fb26c"/><g transform="rotate(-45 4.7 4.9)"><text x="1.70" y="6.00" font-size="3" fill="#fff" font-weight="bold">在线</text></g></g>
<circle cx="820.00" cy="445.10" r="8.30" fill="#fff" stroke="#a9abae" stroke-width="0.75"/>
<rect x="816.50" y="440.30" width="7.00" height="9.60" fill="#2f7be6" rx="1.20" />
<rect x="815.80" y="443.60" width="8.40" height="3.00" fill="#3fc98b" rx="0.30" />
<rect x="818.40" y="444.20" width="4.40" height="1.80" fill="#2f7be6" />
<rect x="816.80" y="444.40" width="1.20" height="1.40" fill="#d8fff0" />
<path d="M817.30 441.80h5.4M817.30 448.40h5.4" fill="none" stroke="#8fbcf6" stroke-width="1" stroke-dasharray="0.9 0.6"/>
<circle cx="832.40" cy="437.90" r="2.10" fill="#fff" stroke="#d4d4d4" stroke-width="0.5"/>
<text x="820.00" y="460.60" font-size="3.90" fill="#1a1a1a" text-anchor="middle" font-weight="bold" font-family="Liberation Sans, sans-serif" >5</text>
<text x="809.76" y="468.80" font-size="3.9" fill="#4a4a4a">状态:</text>
<text x="820.80" y="468.80" font-size="4" fill="#1db97b">正常</text>
<rect x="842.80" y="432.00" width="34.40" height="41.60" fill="#fff" rx="5.60" stroke="#cdcdcd" stroke-width="0.6"/>
<g clip-path="url(#gc)" transform="translate(842.80 432.00)"><polygon points="0,0 14.8,0 0,14.8" fill="#1fb26c"/><g transform="rotate(-45 4.7 4.9)"><text x="1.70" y="6.00" font-size="3" fill="#fff" font-weight="bold">在线</text></g></g>
<circle cx="860.00" cy="445.10" r="8.30" fill="#fff" stroke="#a9abae" stroke-width="0.75"/>
<rect x="856.50" y="440.30" width="7.00" height="9.60" fill="#2f7be6" rx="1.20" />
<rect x="855.80" y="443.60" width="8.40" height="3.00" fill="#3fc98b" rx="0.30" />
<rect x="858.40" y="444.20" width="4.40" height="1.80" fill="#2f7be6" />
<rect x="856.80" y="444.40" width="1.20" height="1.40" fill="#d8fff0" />
<path d="M857.30 441.80h5.4M857.30 448.40h5.4" fill="none" stroke="#8fbcf6" stroke-width="1" stroke-dasharray="0.9 0.6"/>
<circle cx="872.40" cy="437.90" r="2.10" fill="#fff" stroke="#d4d4d4" stroke-width="0.5"/>
<text x="860.00" y="460.60" font-size="3.90" fill="#1a1a1a" text-anchor="middle" font-weight="bold" font-family="Liberation Sans, sans-serif" >6</text>
<text x="849.76" y="468.80" font-size="3.9" fill="#4a4a4a">状态:</text>
<text x="860.80" y="468.80" font-size="4" fill="#1db97b">正常</text>
<rect x="762.80" y="477.70" width="34.40" height="41.60" fill="#fff" rx="5.60" stroke="#cdcdcd" stroke-width="0.6"/>
<g clip-path="url(#gc)" transform="translate(762.80 477.70)"><polygon points="0,0 14.8,0 0,14.8" fill="#1fb26c"/><g transform="rotate(-45 4.7 4.9)"><text x="1.70" y="6.00" font-size="3" fill="#fff" font-weight="bold">在线</text></g></g>
<circle cx="780.00" cy="490.80" r="8.30" fill="#fff" stroke="#a9abae" stroke-width="0.75"/>
<rect x="776.50" y="486.00" width="7.00" height="9.60" fill="#2f7be6" rx="1.20" />
<rect x="775.80" y="489.30" width="8.40" height="3.00" fill="#3fc98b" rx="0.30" />
<rect x="778.40" y="489.90" width="4.40" height="1.80" fill="#2f7be6" />
<rect x="776.80" y="490.10" width="1.20" height="1.40" fill="#d8fff0" />
<path d="M777.30 487.50h5.4M777.30 494.10h5.4" fill="none" stroke="#8fbcf6" stroke-width="1" stroke-dasharray="0.9 0.6"/>
<circle cx="792.40" cy="483.60" r="2.10" fill="#fff" stroke="#d4d4d4" stroke-width="0.5"/>
<text x="780.00" y="506.30" font-size="3.90" fill="#1a1a1a" text-anchor="middle" font-weight="bold" font-family="Liberation Sans, sans-serif" >7</text>
<text x="769.76" y="514.50" font-size="3.9" fill="#4a4a4a">状态:</text>
<text x="780.80" y="514.50" font-size="4" fill="#1db97b">正常</text>
<rect x="802.80" y="477.70" width="34.40" height="41.60" fill="#fff" rx="5.60" stroke="#cdcdcd" stroke-width="0.6"/>
<g clip-path="url(#gc)" transform="translate(802.80 477.70)"><polygon points="0,0 14.8,0 0,14.8" fill="#1fb26c"/><g transform="rotate(-45 4.7 4.9)"><text x="1.70" y="6.00" font-size="3" fill="#fff" font-weight="bold">在线</text></g></g>
<circle cx="820.00" cy="490.80" r="8.30" fill="#fff" stroke="#a9abae" stroke-width="0.75"/>
<rect x="816.50" y="486.00" width="7.00" height="9.60" fill="#2f7be6" rx="1.20" />
<rect x="815.80" y="489.30" width="8.40" height="3.00" fill="#3fc98b" rx="0.30" />
<rect x="818.40" y="489.90" width="4.40" height="1.80" fill="#2f7be6" />
<rect x="816.80" y="490.10" width="1.20" height="1.40" fill="#d8fff0" />
<path d="M817.30 487.50h5.4M817.30 494.10h5.4" fill="none" stroke="#8fbcf6" stroke-width="1" stroke-dasharray="0.9 0.6"/>
<circle cx="832.40" cy="483.60" r="2.10" fill="#fff" stroke="#d4d4d4" stroke-width="0.5"/>
<text x="820.00" y="506.30" font-size="3.90" fill="#1a1a1a" text-anchor="middle" font-weight="bold" font-family="Liberation Sans, sans-serif" >8</text>
<text x="809.76" y="514.50" font-size="3.9" fill="#4a4a4a">状态:</text>
<text x="820.80" y="514.50" font-size="4" fill="#1db97b">正常</text>
<rect x="842.80" y="477.70" width="34.40" height="41.60" fill="#fff" rx="5.60" stroke="#cdcdcd" stroke-width="0.6"/>
<g clip-path="url(#gc)" transform="translate(842.80 477.70)"><polygon points="0,0 14.8,0 0,14.8" fill="#1fb26c"/><g transform="rotate(-45 4.7 4.9)"><text x="1.70" y="6.00" font-size="3" fill="#fff" font-weight="bold">在线</text></g></g>
<circle cx="860.00" cy="490.80" r="8.30" fill="#fff" stroke="#a9abae" stroke-width="0.75"/>
<rect x="856.50" y="486.00" width="7.00" height="9.60" fill="#2f7be6" rx="1.20" />
<rect x="855.80" y="489.30" width="8.40" height="3.00" fill="#3fc98b" rx="0.30" />
<rect x="858.40" y="489.90" width="4.40" height="1.80" fill="#2f7be6" />
<rect x="856.80" y="490.10" width="1.20" height="1.40" fill="#d8fff0" />
<path d="M857.30 487.50h5.4M857.30 494.10h5.4" fill="none" stroke="#8fbcf6" stroke-width="1" stroke-dasharray="0.9 0.6"/>
<circle cx="872.40" cy="483.60" r="2.10" fill="#fff" stroke="#d4d4d4" stroke-width="0.5"/>
<text x="860.00" y="506.30" font-size="3.90" fill="#1a1a1a" text-anchor="middle" font-weight="bold" font-family="Liberation Sans, sans-serif" >9</text>
<text x="849.76" y="514.50" font-size="3.9" fill="#4a4a4a">状态:</text>
<text x="860.80" y="514.50" font-size="4" fill="#1db97b">正常</text>
<rect x="762.80" y="523.40" width="34.40" height="10.00" fill="#fff" rx="5.00" stroke="#dcdcdc" stroke-width="0.45"/>
<rect x="766.00" y="523.40" width="11.40" height="1.70" fill="#35b98a" />
<rect x="802.80" y="523.40" width="34.40" height="10.00" fill="#fff" rx="5.00" stroke="#dcdcdc" stroke-width="0.45"/>
<rect x="806.00" y="523.40" width="11.40" height="1.70" fill="#35b98a" />
<rect x="842.80" y="523.40" width="34.40" height="10.00" fill="#fff" rx="5.00" stroke="#dcdcdc" stroke-width="0.45"/>
<rect x="846.00" y="523.40" width="11.40" height="1.70" fill="#35b98a" />
<rect x="759.90" y="527.20" width="121.00" height="42.00" fill="#fff" />
<circle cx="790.00" cy="544.00" r="12.20" fill="url(#btnr)" />
<circle cx="790.00" cy="544.00" r="8.90" fill="url(#btnri)" stroke="#c23229" stroke-width="0.9"/>
<text x="787.30" y="546.00" font-size="5.4" fill="#9c1d16" font-weight="bold">分</text>
<text x="778.80" y="565.30" font-size="5.6" fill="#333" font-weight="500">一键分闸</text>
<circle cx="850.00" cy="544.00" r="12.20" fill="url(#btng)" />
<circle cx="850.00" cy="544.00" r="8.90" fill="url(#btngi)" stroke="#2fa842" stroke-width="0.9"/>
<text x="847.30" y="546.00" font-size="5.4" fill="#1d8a30" font-weight="bold">合</text>
<text x="838.80" y="565.30" font-size="5.6" fill="#333" font-weight="500">一键合闸</text>
</g>
<rect x="595.20" y="353.00" width="4.50" height="215.80" fill="url(#edge)" />
<rect x="648.30" y="353.00" width="4.50" height="215.80" fill="url(#edge)" />
<rect x="702.30" y="353.00" width="4.50" height="215.80" fill="url(#edge)" />
<rect x="755.40" y="353.00" width="4.50" height="215.80" fill="url(#edge)" /></g></svg></body></html>
